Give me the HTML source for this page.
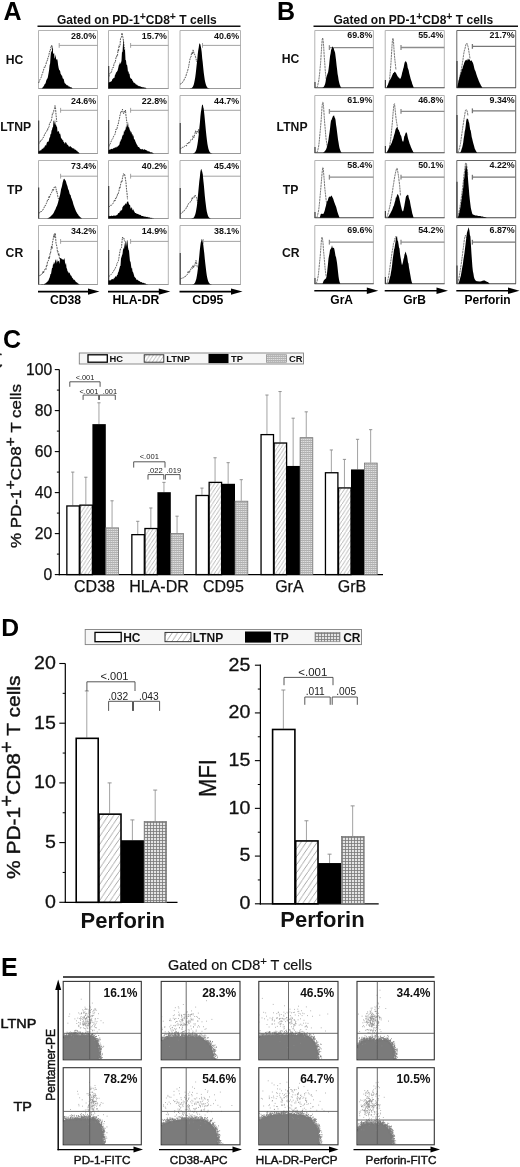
<!DOCTYPE html>
<html><head><meta charset="utf-8"><title>Figure</title>
<style>html,body{margin:0;padding:0;background:#fff}svg{display:block}</style></head>
<body>
<svg width="520" height="1167" viewBox="0 0 520 1167" font-family='"Liberation Sans", Arial, sans-serif'>
<rect width="520" height="1167" fill="#fff"/>
<defs>
<pattern id="hatchC" width="3.6" height="5.6" patternUnits="userSpaceOnUse"><rect width="3.6" height="5.6" fill="#fff"/><path d="M-0.9 7 L4.5 -1.4" stroke="#8f8f8f" stroke-width="0.65"/></pattern>
<pattern id="hatchD" width="5.4" height="8" patternUnits="userSpaceOnUse"><rect width="5.4" height="8" fill="#fff"/><path d="M-1.35 10 L6.75 -2" stroke="#8a8a8a" stroke-width="0.75"/></pattern>
<pattern id="gridC" width="2" height="2" patternUnits="userSpaceOnUse"><rect width="2" height="2" fill="#dedede"/><path d="M0 0.5 H2" stroke="#a4a4a4" stroke-width="0.8"/><path d="M0.5 0 V2" stroke="#b4b4b4" stroke-width="0.6"/></pattern>
<pattern id="gridD" width="3" height="3" patternUnits="userSpaceOnUse"><rect width="3" height="3" fill="#e4e4e4"/><path d="M0 0.5 H3 M0.5 0 V3" stroke="#777" stroke-width="0.8"/></pattern>
</defs>
<path d="M38.5 88.5 V30.5 H97.5 V88.5" fill="none" stroke="#aaa" stroke-width="0.9"/>
<line x1="38.2" y1="88.5" x2="97.8" y2="88.5" stroke="#999" stroke-width="1.1"/>
<path d="M108.5 88.5 V30.5 H168.3 V88.5" fill="none" stroke="#aaa" stroke-width="0.9"/>
<line x1="108.2" y1="88.5" x2="168.60000000000002" y2="88.5" stroke="#999" stroke-width="1.1"/>
<path d="M180 88.5 V30.5 H240.5 V88.5" fill="none" stroke="#aaa" stroke-width="0.9"/>
<line x1="179.7" y1="88.5" x2="240.8" y2="88.5" stroke="#999" stroke-width="1.1"/>
<path d="M314.8 87.7 V30.5 H373.4 V87.7" fill="none" stroke="#aaa" stroke-width="0.9"/>
<line x1="314.5" y1="87.7" x2="373.7" y2="87.7" stroke="#444" stroke-width="1.1"/>
<path d="M385.2 87.7 V30.5 H444.3 V87.7" fill="none" stroke="#aaa" stroke-width="0.9"/>
<line x1="384.9" y1="87.7" x2="444.6" y2="87.7" stroke="#444" stroke-width="1.1"/>
<path d="M456.8 87.7 V30.5 H515.7 V87.7" fill="none" stroke="#555" stroke-width="0.9"/>
<line x1="456.5" y1="87.7" x2="516.0" y2="87.7" stroke="#444" stroke-width="1.1"/>
<path d="M38.5 153.5 V95.5 H97.5 V153.5" fill="none" stroke="#aaa" stroke-width="0.9"/>
<line x1="38.2" y1="153.5" x2="97.8" y2="153.5" stroke="#999" stroke-width="1.1"/>
<path d="M108.5 153.5 V95.5 H168.3 V153.5" fill="none" stroke="#aaa" stroke-width="0.9"/>
<line x1="108.2" y1="153.5" x2="168.60000000000002" y2="153.5" stroke="#999" stroke-width="1.1"/>
<path d="M180 153.5 V95.5 H240.5 V153.5" fill="none" stroke="#aaa" stroke-width="0.9"/>
<line x1="179.7" y1="153.5" x2="240.8" y2="153.5" stroke="#999" stroke-width="1.1"/>
<path d="M314.8 152.7 V95.5 H373.4 V152.7" fill="none" stroke="#aaa" stroke-width="0.9"/>
<line x1="314.5" y1="152.7" x2="373.7" y2="152.7" stroke="#444" stroke-width="1.1"/>
<path d="M385.2 152.7 V95.5 H444.3 V152.7" fill="none" stroke="#aaa" stroke-width="0.9"/>
<line x1="384.9" y1="152.7" x2="444.6" y2="152.7" stroke="#444" stroke-width="1.1"/>
<path d="M456.8 152.7 V95.5 H515.7 V152.7" fill="none" stroke="#555" stroke-width="0.9"/>
<line x1="456.5" y1="152.7" x2="516.0" y2="152.7" stroke="#444" stroke-width="1.1"/>
<path d="M38.5 218.5 V160.5 H97.5 V218.5" fill="none" stroke="#aaa" stroke-width="0.9"/>
<line x1="38.2" y1="218.5" x2="97.8" y2="218.5" stroke="#999" stroke-width="1.1"/>
<path d="M108.5 218.5 V160.5 H168.3 V218.5" fill="none" stroke="#aaa" stroke-width="0.9"/>
<line x1="108.2" y1="218.5" x2="168.60000000000002" y2="218.5" stroke="#999" stroke-width="1.1"/>
<path d="M180 218.5 V160.5 H240.5 V218.5" fill="none" stroke="#aaa" stroke-width="0.9"/>
<line x1="179.7" y1="218.5" x2="240.8" y2="218.5" stroke="#999" stroke-width="1.1"/>
<path d="M314.8 217.7 V160.5 H373.4 V217.7" fill="none" stroke="#aaa" stroke-width="0.9"/>
<line x1="314.5" y1="217.7" x2="373.7" y2="217.7" stroke="#444" stroke-width="1.1"/>
<path d="M385.2 217.7 V160.5 H444.3 V217.7" fill="none" stroke="#aaa" stroke-width="0.9"/>
<line x1="384.9" y1="217.7" x2="444.6" y2="217.7" stroke="#444" stroke-width="1.1"/>
<path d="M456.8 217.7 V160.5 H515.7 V217.7" fill="none" stroke="#555" stroke-width="0.9"/>
<line x1="456.5" y1="217.7" x2="516.0" y2="217.7" stroke="#444" stroke-width="1.1"/>
<path d="M38.5 284.5 V225.5 H97.5 V284.5" fill="none" stroke="#aaa" stroke-width="0.9"/>
<line x1="38.2" y1="284.5" x2="97.8" y2="284.5" stroke="#999" stroke-width="1.1"/>
<path d="M108.5 284.5 V225.5 H168.3 V284.5" fill="none" stroke="#aaa" stroke-width="0.9"/>
<line x1="108.2" y1="284.5" x2="168.60000000000002" y2="284.5" stroke="#999" stroke-width="1.1"/>
<path d="M180 284.5 V225.5 H240.5 V284.5" fill="none" stroke="#aaa" stroke-width="0.9"/>
<line x1="179.7" y1="284.5" x2="240.8" y2="284.5" stroke="#999" stroke-width="1.1"/>
<path d="M314.8 283.7 V225.5 H373.4 V283.7" fill="none" stroke="#aaa" stroke-width="0.9"/>
<line x1="314.5" y1="283.7" x2="373.7" y2="283.7" stroke="#444" stroke-width="1.1"/>
<path d="M385.2 283.7 V225.5 H444.3 V283.7" fill="none" stroke="#aaa" stroke-width="0.9"/>
<line x1="384.9" y1="283.7" x2="444.6" y2="283.7" stroke="#444" stroke-width="1.1"/>
<path d="M456.8 283.7 V225.5 H515.7 V283.7" fill="none" stroke="#555" stroke-width="0.9"/>
<line x1="456.5" y1="283.7" x2="516.0" y2="283.7" stroke="#444" stroke-width="1.1"/>
<line x1="37.5" y1="26.3" x2="240.5" y2="26.3" stroke="#111" stroke-width="1.6"/>
<line x1="313.5" y1="26.3" x2="518" y2="26.3" stroke="#111" stroke-width="1.6"/>
<text x="57" y="24.3" font-size="12" font-weight="bold" fill="#111">Gated on PD-1<tspan dy="-4" font-size="10.5">+</tspan><tspan dy="4">CD8</tspan><tspan dy="-4" font-size="10.5">+</tspan><tspan dy="4"> T cells</tspan></text>
<text x="333.5" y="24.3" font-size="12" font-weight="bold" fill="#111">Gated on PD-1<tspan dy="-4" font-size="10.5">+</tspan><tspan dy="4">CD8</tspan><tspan dy="-4" font-size="10.5">+</tspan><tspan dy="4"> T cells</tspan></text>
<text x="3.6" y="19.8" font-size="25" font-weight="bold" fill="#000">A</text>
<text x="277" y="20.2" font-size="25" font-weight="bold" fill="#000">B</text>
<text x="5.8" y="63.6" font-size="12.2" font-weight="bold" fill="#111">HC</text>
<text x="281.8" y="63" font-size="12.2" font-weight="bold" fill="#111">HC</text>
<text x="0.2" y="131.4" font-size="12.2" font-weight="bold" fill="#111">LTNP</text>
<text x="276.6" y="130.8" font-size="12.2" font-weight="bold" fill="#111">LTNP</text>
<text x="7" y="194.1" font-size="12.2" font-weight="bold" fill="#111">TP</text>
<text x="282.8" y="193.7" font-size="12.2" font-weight="bold" fill="#111">TP</text>
<text x="5.6" y="257.4" font-size="12.2" font-weight="bold" fill="#111">CR</text>
<text x="282" y="256.8" font-size="12.2" font-weight="bold" fill="#111">CR</text>
<text x="96.2" y="39.2" font-size="8.9" font-weight="bold" text-anchor="end" fill="#111">28.0%</text>
<text x="372.4" y="38.1" font-size="8.9" font-weight="bold" text-anchor="end" fill="#111">69.8%</text>
<text x="167.0" y="39.2" font-size="8.9" font-weight="bold" text-anchor="end" fill="#111">15.7%</text>
<text x="443.3" y="38.1" font-size="8.9" font-weight="bold" text-anchor="end" fill="#111">55.4%</text>
<text x="239.2" y="39.2" font-size="8.9" font-weight="bold" text-anchor="end" fill="#111">40.6%</text>
<text x="514.7" y="38.1" font-size="8.9" font-weight="bold" text-anchor="end" fill="#111">21.7%</text>
<text x="96.2" y="104.2" font-size="8.9" font-weight="bold" text-anchor="end" fill="#111">24.6%</text>
<text x="372.4" y="103.1" font-size="8.9" font-weight="bold" text-anchor="end" fill="#111">61.9%</text>
<text x="167.0" y="104.2" font-size="8.9" font-weight="bold" text-anchor="end" fill="#111">22.8%</text>
<text x="443.3" y="103.1" font-size="8.9" font-weight="bold" text-anchor="end" fill="#111">46.8%</text>
<text x="239.2" y="104.2" font-size="8.9" font-weight="bold" text-anchor="end" fill="#111">44.7%</text>
<text x="514.7" y="103.1" font-size="8.9" font-weight="bold" text-anchor="end" fill="#111">9.34%</text>
<text x="96.2" y="169.2" font-size="8.9" font-weight="bold" text-anchor="end" fill="#111">73.4%</text>
<text x="372.4" y="168.1" font-size="8.9" font-weight="bold" text-anchor="end" fill="#111">58.4%</text>
<text x="167.0" y="169.2" font-size="8.9" font-weight="bold" text-anchor="end" fill="#111">40.2%</text>
<text x="443.3" y="168.1" font-size="8.9" font-weight="bold" text-anchor="end" fill="#111">50.1%</text>
<text x="239.2" y="169.2" font-size="8.9" font-weight="bold" text-anchor="end" fill="#111">45.4%</text>
<text x="514.7" y="168.1" font-size="8.9" font-weight="bold" text-anchor="end" fill="#111">4.22%</text>
<text x="96.2" y="234.2" font-size="8.9" font-weight="bold" text-anchor="end" fill="#111">34.2%</text>
<text x="372.4" y="233.1" font-size="8.9" font-weight="bold" text-anchor="end" fill="#111">69.6%</text>
<text x="167.0" y="234.2" font-size="8.9" font-weight="bold" text-anchor="end" fill="#111">14.9%</text>
<text x="443.3" y="233.1" font-size="8.9" font-weight="bold" text-anchor="end" fill="#111">54.2%</text>
<text x="239.2" y="234.2" font-size="8.9" font-weight="bold" text-anchor="end" fill="#111">38.1%</text>
<text x="514.7" y="233.1" font-size="8.9" font-weight="bold" text-anchor="end" fill="#111">6.87%</text>
<line x1="59.2" y1="45.4" x2="97.5" y2="45.4" stroke="#999" stroke-width="0.9"/>
<line x1="59.2" y1="43.0" x2="59.2" y2="47.8" stroke="#999" stroke-width="0.9"/>
<line x1="130.6" y1="45.4" x2="168.3" y2="45.4" stroke="#999" stroke-width="0.9"/>
<line x1="130.6" y1="43.0" x2="130.6" y2="47.8" stroke="#999" stroke-width="0.9"/>
<line x1="202.5" y1="45.4" x2="240.5" y2="45.4" stroke="#999" stroke-width="0.9"/>
<line x1="202.5" y1="43.0" x2="202.5" y2="47.8" stroke="#999" stroke-width="0.9"/>
<line x1="60.6" y1="110.3" x2="97.5" y2="110.3" stroke="#999" stroke-width="0.9"/>
<line x1="60.6" y1="107.89999999999999" x2="60.6" y2="112.7" stroke="#999" stroke-width="0.9"/>
<line x1="130.6" y1="110.3" x2="168.3" y2="110.3" stroke="#999" stroke-width="0.9"/>
<line x1="130.6" y1="107.89999999999999" x2="130.6" y2="112.7" stroke="#999" stroke-width="0.9"/>
<line x1="203.3" y1="110.3" x2="240.5" y2="110.3" stroke="#999" stroke-width="0.9"/>
<line x1="203.3" y1="107.89999999999999" x2="203.3" y2="112.7" stroke="#999" stroke-width="0.9"/>
<line x1="60.6" y1="176.2" x2="97.5" y2="176.2" stroke="#999" stroke-width="0.9"/>
<line x1="60.6" y1="173.79999999999998" x2="60.6" y2="178.6" stroke="#999" stroke-width="0.9"/>
<line x1="130.6" y1="176.2" x2="168.3" y2="176.2" stroke="#999" stroke-width="0.9"/>
<line x1="130.6" y1="173.79999999999998" x2="130.6" y2="178.6" stroke="#999" stroke-width="0.9"/>
<line x1="202.5" y1="176.2" x2="240.5" y2="176.2" stroke="#999" stroke-width="0.9"/>
<line x1="202.5" y1="173.79999999999998" x2="202.5" y2="178.6" stroke="#999" stroke-width="0.9"/>
<line x1="60.6" y1="241.4" x2="97.5" y2="241.4" stroke="#999" stroke-width="0.9"/>
<line x1="60.6" y1="239.0" x2="60.6" y2="243.8" stroke="#999" stroke-width="0.9"/>
<line x1="130.6" y1="241.4" x2="168.3" y2="241.4" stroke="#999" stroke-width="0.9"/>
<line x1="130.6" y1="239.0" x2="130.6" y2="243.8" stroke="#999" stroke-width="0.9"/>
<line x1="203.3" y1="241.4" x2="240.5" y2="241.4" stroke="#999" stroke-width="0.9"/>
<line x1="203.3" y1="239.0" x2="203.3" y2="243.8" stroke="#999" stroke-width="0.9"/>
<line x1="329.4" y1="47.6" x2="373.4" y2="47.6" stroke="#8c8c8c" stroke-width="1.3"/>
<line x1="329.4" y1="45.2" x2="329.4" y2="50.0" stroke="#8c8c8c" stroke-width="1.3"/>
<line x1="401" y1="47.5" x2="444.3" y2="47.5" stroke="#8c8c8c" stroke-width="1.3"/>
<line x1="401" y1="45.1" x2="401" y2="49.9" stroke="#8c8c8c" stroke-width="1.3"/>
<line x1="472.4" y1="46.4" x2="515.7" y2="46.4" stroke="#777" stroke-width="1.3"/>
<line x1="472.4" y1="44.0" x2="472.4" y2="48.8" stroke="#777" stroke-width="1.3"/>
<line x1="329.4" y1="111.4" x2="373.4" y2="111.4" stroke="#8c8c8c" stroke-width="1.3"/>
<line x1="329.4" y1="109.0" x2="329.4" y2="113.80000000000001" stroke="#8c8c8c" stroke-width="1.3"/>
<line x1="401" y1="111.4" x2="444.3" y2="111.4" stroke="#8c8c8c" stroke-width="1.3"/>
<line x1="401" y1="109.0" x2="401" y2="113.80000000000001" stroke="#8c8c8c" stroke-width="1.3"/>
<line x1="472.4" y1="110.8" x2="515.7" y2="110.8" stroke="#777" stroke-width="1.3"/>
<line x1="472.4" y1="108.39999999999999" x2="472.4" y2="113.2" stroke="#777" stroke-width="1.3"/>
<line x1="329.4" y1="177.2" x2="373.4" y2="177.2" stroke="#8c8c8c" stroke-width="1.3"/>
<line x1="329.4" y1="174.79999999999998" x2="329.4" y2="179.6" stroke="#8c8c8c" stroke-width="1.3"/>
<line x1="401" y1="177.2" x2="444.3" y2="177.2" stroke="#8c8c8c" stroke-width="1.3"/>
<line x1="401" y1="174.79999999999998" x2="401" y2="179.6" stroke="#8c8c8c" stroke-width="1.3"/>
<line x1="472.4" y1="177.2" x2="515.7" y2="177.2" stroke="#777" stroke-width="1.3"/>
<line x1="472.4" y1="174.79999999999998" x2="472.4" y2="179.6" stroke="#777" stroke-width="1.3"/>
<line x1="329.4" y1="242.2" x2="373.4" y2="242.2" stroke="#8c8c8c" stroke-width="1.3"/>
<line x1="329.4" y1="239.79999999999998" x2="329.4" y2="244.6" stroke="#8c8c8c" stroke-width="1.3"/>
<line x1="401" y1="242.2" x2="444.3" y2="242.2" stroke="#8c8c8c" stroke-width="1.3"/>
<line x1="401" y1="239.79999999999998" x2="401" y2="244.6" stroke="#8c8c8c" stroke-width="1.3"/>
<line x1="472.4" y1="242.2" x2="515.7" y2="242.2" stroke="#777" stroke-width="1.3"/>
<line x1="472.4" y1="239.79999999999998" x2="472.4" y2="244.6" stroke="#777" stroke-width="1.3"/>
<line x1="38.0" y1="291.6" x2="89.0" y2="291.6" stroke="#000" stroke-width="1.6"/>
<path d="M99.5 291.6 L88.0 288.40000000000003 L88.0 294.8 Z" fill="#000"/>
<text x="65.5" y="304.2" font-size="12.2" font-weight="bold" text-anchor="middle" fill="#000">CD38</text>
<line x1="108.0" y1="291.6" x2="159.8" y2="291.6" stroke="#000" stroke-width="1.6"/>
<path d="M170.3 291.6 L158.8 288.40000000000003 L158.8 294.8 Z" fill="#000"/>
<text x="135.9" y="304.2" font-size="12.2" font-weight="bold" text-anchor="middle" fill="#000">HLA-DR</text>
<line x1="179.5" y1="291.6" x2="232.0" y2="291.6" stroke="#000" stroke-width="1.6"/>
<path d="M242.5 291.6 L231.0 288.40000000000003 L231.0 294.8 Z" fill="#000"/>
<text x="207.75" y="304.2" font-size="12.2" font-weight="bold" text-anchor="middle" fill="#000">CD95</text>
<line x1="314.3" y1="290.7" x2="367.8" y2="290.7" stroke="#000" stroke-width="1.6"/>
<path d="M378.3 290.7 L366.8 287.5 L366.8 293.9 Z" fill="#000"/>
<text x="341.7" y="304" font-size="12" font-weight="bold" text-anchor="middle" fill="#000">GrA</text>
<line x1="384.7" y1="290.7" x2="437.5" y2="290.7" stroke="#000" stroke-width="1.6"/>
<path d="M448 290.7 L436.5 287.5 L436.5 293.9 Z" fill="#000"/>
<text x="414.6" y="304" font-size="12" font-weight="bold" text-anchor="middle" fill="#000">GrB</text>
<line x1="456.3" y1="290.7" x2="509.0" y2="290.7" stroke="#000" stroke-width="1.6"/>
<path d="M519.5 290.7 L508.0 287.5 L508.0 293.9 Z" fill="#000"/>
<text x="487.6" y="304" font-size="12" font-weight="bold" text-anchor="middle" fill="#000">Perforin</text>
<line x1="38.7" y1="120.5" x2="38.7" y2="153.5" stroke="#333" stroke-width="1.1"/>
<line x1="38.7" y1="187.4" x2="38.7" y2="218.5" stroke="#333" stroke-width="1.1"/>
<line x1="38.7" y1="250" x2="38.7" y2="284.5" stroke="#333" stroke-width="1.1"/>
<line x1="108.7" y1="120" x2="108.7" y2="153.5" stroke="#333" stroke-width="1.1"/>
<line x1="108.7" y1="186" x2="108.7" y2="218.5" stroke="#333" stroke-width="1.1"/>
<line x1="108.7" y1="250" x2="108.7" y2="284.5" stroke="#333" stroke-width="1.1"/>
<line x1="108.7" y1="66" x2="108.7" y2="88.5" stroke="#333" stroke-width="1.1"/>
<line x1="180.2" y1="123" x2="180.2" y2="153.5" stroke="#333" stroke-width="1.1"/>
<line x1="180.2" y1="188" x2="180.2" y2="218.5" stroke="#333" stroke-width="1.1"/>
<line x1="180.2" y1="253" x2="180.2" y2="284.5" stroke="#333" stroke-width="1.1"/>
<path d="M38.5 83.0 L39.0 82.1 L39.5 80.7 L40.0 79.5 L40.5 78.8 L41.0 77.7 L41.5 76.6 L42.0 74.5 L42.5 74.0 L43.0 71.5 L43.5 70.4 L44.0 68.2 L44.5 66.9 L45.0 67.4 L45.5 65.4 L46.0 64.4 L46.5 61.6 L47.0 60.5 L47.5 60.7 L48.0 56.8 L48.5 56.7 L49.0 54.8 L49.5 51.5 L50.0 52.1 L50.5 49.0 L51.0 47.0 L51.5 45.3 L52.0 48.1 L52.5 50.4 L52.6 49.0" fill="none" stroke="#444" stroke-width="0.9" stroke-dasharray="1.8 0.9"/>
<path d="M41.6 88.5 L41.6 88.5 L42.1 88.1 L42.6 87.6 L43.1 87.1 L43.6 86.2 L44.1 85.6 L44.6 84.2 L45.1 83.8 L45.6 83.3 L46.1 81.1 L46.6 79.8 L47.1 78.8 L47.6 78.2 L48.1 75.7 L48.6 73.0 L49.1 70.1 L49.6 65.2 L50.1 63.6 L50.6 56.0 L51.1 50.5 L51.6 52.8 L52.1 49.9 L52.6 44.7 L53.1 53.2 L53.6 54.1 L54.1 52.7 L54.6 58.8 L55.1 57.3 L55.6 54.4 L56.1 59.1 L56.6 59.8 L57.1 59.1 L57.6 60.7 L58.1 65.1 L58.6 67.8 L59.1 69.7 L59.6 70.2 L60.1 71.0 L60.6 73.7 L61.1 74.4 L61.6 75.6 L62.1 75.7 L62.6 78.0 L63.1 79.1 L63.6 78.6 L64.1 81.0 L64.6 82.9 L65.1 83.4 L65.6 83.7 L66.1 84.5 L66.6 85.1 L67.1 85.6 L67.6 85.3 L68.1 85.6 L68.6 86.5 L69.1 86.5 L69.6 86.6 L70.1 87.4 L70.6 86.9 L71.1 87.3 L71.6 87.6 L72.1 88.0 L72.6 88.5 L73.1 88.5 L73.5 88.5 L73.5 88.5 Z" fill="#000"/>
<path d="M108.5 76.8 L109.0 76.3 L109.5 74.4 L110.0 73.3 L110.5 72.4 L111.0 72.8 L111.5 71.9 L112.0 69.6 L112.5 68.0 L113.0 67.1 L113.5 67.4 L114.0 63.7 L114.5 62.8 L115.0 63.0 L115.5 61.0 L116.0 57.4 L116.5 57.6 L117.0 54.8 L117.5 55.4 L118.0 49.9 L118.5 51.4 L119.0 45.5 L119.5 46.7 L120.0 46.0 L120.5 38.6 L121.0 38.4 L121.5 36.8 L122.0 32.9 L122.5 36.0 L123.0 37.6 L123.5 41.2 L124.0 45.3 L124.5 48.1 L124.8 50.0" fill="none" stroke="#444" stroke-width="0.9" stroke-dasharray="1.8 0.9"/>
<path d="M108.5 88.5 L108.5 83.0 L109.0 82.3 L109.5 82.2 L110.0 81.9 L110.5 81.8 L111.0 81.4 L111.5 81.2 L112.0 80.6 L112.5 78.8 L113.0 79.1 L113.5 77.7 L114.0 78.3 L114.5 77.4 L115.0 74.8 L115.5 74.4 L116.0 72.4 L116.5 72.3 L117.0 71.5 L117.5 70.7 L118.0 69.1 L118.5 66.7 L119.0 64.5 L119.5 64.5 L120.0 61.7 L120.5 64.1 L121.0 62.7 L121.5 60.4 L122.0 51.4 L122.5 52.6 L123.0 44.0 L123.5 39.1 L124.0 47.9 L124.5 50.2 L125.0 49.5 L125.5 60.0 L126.0 60.3 L126.5 65.0 L127.0 64.6 L127.5 67.5 L128.0 72.0 L128.5 70.9 L129.0 74.3 L129.5 73.2 L130.0 77.2 L130.5 78.1 L131.0 78.8 L131.5 78.8 L132.0 79.2 L132.5 80.8 L133.0 80.9 L133.5 82.8 L134.0 82.3 L134.5 83.3 L135.0 83.1 L135.5 84.1 L136.0 84.5 L136.5 84.8 L137.0 84.5 L137.5 85.6 L138.0 85.5 L138.5 86.1 L139.0 86.3 L139.5 86.2 L140.0 86.1 L140.5 86.5 L141.0 86.9 L141.5 87.1 L142.0 86.7 L142.5 87.2 L143.0 87.4 L143.5 87.3 L144.0 87.3 L144.5 87.7 L145.0 87.5 L145.5 87.8 L146.0 88.0 L146.5 88.4 L147.0 88.5 L147.3 88.5 L147.3 88.5 Z" fill="#000"/>
<path d="M180.0 84.0 L180.5 84.0 L181.0 83.9 L181.5 83.4 L182.0 82.4 L182.5 82.4 L183.0 81.6 L183.5 81.1 L184.0 80.1 L184.5 78.6 L185.0 78.1 L185.5 77.0 L186.0 76.0 L186.5 73.6 L187.0 72.6 L187.5 71.4 L188.0 69.2 L188.5 67.4 L189.0 64.5 L189.5 61.5 L190.0 59.1 L190.5 57.4 L191.0 57.1 L191.5 53.2 L192.0 52.5 L192.5 54.2 L193.0 49.9 L193.5 50.6 L194.0 54.3 L194.5 54.3 L195.0 54.7 L195.5 57.0 L196.0 58.2 L196.5 61.5 L197.0 62.0" fill="none" stroke="#444" stroke-width="0.9" stroke-dasharray="1.8 0.9"/>
<path d="M188.7 88.5 L188.7 88.5 L189.2 88.5 L189.7 88.4 L190.2 88.3 L190.7 88.2 L191.2 88.2 L191.7 87.9 L192.2 87.5 L192.7 86.9 L193.2 86.0 L193.7 84.8 L194.2 82.8 L194.7 80.3 L195.2 77.4 L195.7 73.7 L196.2 69.2 L196.7 64.6 L197.2 60.2 L197.7 54.6 L198.2 50.4 L198.7 47.7 L199.2 44.3 L199.7 43.3 L200.2 44.0 L200.7 45.9 L201.2 48.4 L201.7 52.3 L202.2 58.3 L202.7 62.3 L203.2 67.6 L203.7 72.2 L204.2 76.1 L204.7 79.4 L205.2 81.9 L205.7 83.9 L206.2 85.4 L206.7 86.5 L207.2 87.4 L207.7 87.8 L208.2 88.1 L208.7 88.3 L209.2 88.3 L209.7 88.4 L210.2 88.5 L210.4 88.5 L210.4 88.5 Z" fill="#000"/>
<path d="M38.5 144.3 L39.0 143.0 L39.5 142.3 L40.0 142.2 L40.5 140.5 L41.0 140.8 L41.5 140.3 L42.0 139.6 L42.5 138.5 L43.0 138.1 L43.5 137.0 L44.0 136.3 L44.5 134.5 L45.0 134.2 L45.5 132.8 L46.0 132.6 L46.5 131.5 L47.0 130.3 L47.5 130.7 L48.0 127.7 L48.5 127.7 L49.0 126.9 L49.5 123.4 L50.0 123.1 L50.5 121.9 L51.0 121.9 L51.5 119.7 L52.0 116.9 L52.5 112.8 L53.0 113.4 L53.5 112.6 L54.0 109.7 L54.5 108.4 L55.0 105.6 L55.5 107.6 L56.0 114.4 L56.5 119.4 L56.8 122.0" fill="none" stroke="#444" stroke-width="0.9" stroke-dasharray="1.8 0.9"/>
<path d="M38.5 153.5 L38.5 151.1 L39.0 151.4 L39.5 150.8 L40.0 150.5 L40.5 150.2 L41.0 150.4 L41.5 149.8 L42.0 148.5 L42.5 148.8 L43.0 148.9 L43.5 147.5 L44.0 147.8 L44.5 146.9 L45.0 145.6 L45.5 145.0 L46.0 146.1 L46.5 144.1 L47.0 142.2 L47.5 141.9 L48.0 141.6 L48.5 141.7 L49.0 139.9 L49.5 137.3 L50.0 137.7 L50.5 133.4 L51.0 134.7 L51.5 130.6 L52.0 130.1 L52.5 127.3 L53.0 127.3 L53.5 121.1 L54.0 120.5 L54.5 124.7 L55.0 118.9 L55.5 124.9 L56.0 124.3 L56.5 126.8 L57.0 126.5 L57.5 131.4 L58.0 131.7 L58.5 131.1 L59.0 131.4 L59.5 134.3 L60.0 133.3 L60.5 135.1 L61.0 138.1 L61.5 138.5 L62.0 139.1 L62.5 140.6 L63.0 139.4 L63.5 142.0 L64.0 141.9 L64.5 143.3 L65.0 143.7 L65.5 141.7 L66.0 142.5 L66.5 143.0 L67.0 144.7 L67.5 144.5 L68.0 144.9 L68.5 145.9 L69.0 146.8 L69.5 146.7 L70.0 146.0 L70.5 146.3 L71.0 147.1 L71.5 146.9 L72.0 148.3 L72.5 147.8 L73.0 148.7 L73.5 148.3 L74.0 148.6 L74.5 149.1 L75.0 150.2 L75.5 149.6 L76.0 149.7 L76.5 150.9 L77.0 150.6 L77.5 151.4 L78.0 152.1 L78.5 152.3 L79.0 152.6 L79.5 153.5 L79.8 153.5 L79.8 153.5 Z" fill="#000"/>
<path d="M108.5 146.8 L109.0 146.2 L109.5 144.5 L110.0 144.4 L110.5 143.3 L111.0 141.8 L111.5 140.7 L112.0 139.5 L112.5 138.9 L113.0 138.3 L113.5 136.4 L114.0 136.2 L114.5 135.1 L115.0 134.2 L115.5 132.1 L116.0 129.2 L116.5 129.8 L117.0 128.8 L117.5 125.4 L118.0 125.5 L118.5 122.5 L119.0 120.1 L119.5 118.4 L120.0 115.1 L120.5 113.9 L121.0 111.0 L121.5 111.8 L122.0 111.2 L122.5 109.2 L123.0 111.9 L123.5 113.8 L124.0 112.7 L124.5 111.1 L125.0 112.2 L125.5 110.0 L126.0 116.0 L126.5 119.5 L127.0 123.0" fill="none" stroke="#444" stroke-width="0.9" stroke-dasharray="1.8 0.9"/>
<path d="M108.5 153.5 L108.5 150.5 L109.0 149.8 L109.5 149.7 L110.0 149.5 L110.5 149.5 L111.0 149.1 L111.5 148.8 L112.0 149.2 L112.5 149.1 L113.0 148.5 L113.5 148.0 L114.0 148.6 L114.5 147.5 L115.0 147.9 L115.5 146.7 L116.0 148.0 L116.5 146.9 L117.0 146.6 L117.5 146.7 L118.0 146.2 L118.5 145.5 L119.0 145.2 L119.5 144.2 L120.0 141.2 L120.5 141.7 L121.0 139.1 L121.5 139.8 L122.0 137.0 L122.5 135.7 L123.0 134.5 L123.5 135.0 L124.0 130.2 L124.5 132.2 L125.0 129.6 L125.5 130.0 L126.0 126.0 L126.5 128.0 L127.0 122.1 L127.5 126.7 L128.0 121.8 L128.5 127.5 L129.0 126.9 L129.5 128.9 L130.0 130.6 L130.5 131.1 L131.0 132.9 L131.5 131.5 L132.0 134.7 L132.5 133.8 L133.0 136.7 L133.5 135.0 L134.0 139.5 L134.5 138.9 L135.0 140.2 L135.5 141.7 L136.0 142.7 L136.5 143.9 L137.0 144.7 L137.5 145.6 L138.0 146.9 L138.5 147.0 L139.0 146.8 L139.5 148.1 L140.0 148.4 L140.5 148.9 L141.0 149.2 L141.5 149.2 L142.0 149.2 L142.5 148.8 L143.0 149.8 L143.5 149.7 L144.0 149.6 L144.5 149.2 L145.0 149.6 L145.5 150.1 L146.0 150.0 L146.5 150.5 L147.0 150.2 L147.5 151.3 L148.0 151.2 L148.5 151.2 L149.0 151.6 L149.5 151.4 L150.0 152.1 L150.5 152.2 L151.0 152.6 L151.5 152.2 L152.0 152.3 L152.5 152.7 L153.0 153.1 L153.5 153.3 L154.0 153.4 L154.1 153.5 L154.1 153.5 Z" fill="#000"/>
<path d="M180.0 149.0 L180.5 148.5 L181.0 148.8 L181.5 148.4 L182.0 148.0 L182.5 147.2 L183.0 147.6 L183.5 147.6 L184.0 146.9 L184.5 146.3 L185.0 145.6 L185.5 145.4 L186.0 145.9 L186.5 145.9 L187.0 143.8 L187.5 143.2 L188.0 144.1 L188.5 142.5 L189.0 143.5 L189.5 142.8 L190.0 141.8 L190.5 140.5 L191.0 139.6 L191.5 140.3 L192.0 139.9 L192.5 139.5 L193.0 135.8 L193.5 137.3 L194.0 137.9 L194.5 135.0 L195.0 133.5 L195.5 130.8 L196.0 133.0 L196.5 133.5 L197.0 131.0 L197.5 132.1 L198.0 132.5 L198.5 129.3 L199.0 134.0" fill="none" stroke="#444" stroke-width="0.9" stroke-dasharray="1.8 0.9"/>
<path d="M191.4 153.5 L191.4 153.5 L191.9 153.5 L192.4 153.4 L192.9 153.4 L193.4 153.3 L193.9 153.1 L194.4 152.8 L194.9 152.4 L195.4 151.8 L195.9 150.8 L196.4 149.5 L196.9 147.5 L197.4 144.8 L197.9 141.4 L198.4 137.4 L198.9 132.9 L199.4 127.5 L199.9 122.8 L200.4 116.6 L200.9 111.9 L201.4 109.2 L201.9 105.7 L202.4 104.6 L202.9 104.9 L203.4 107.9 L203.9 110.6 L204.4 115.0 L204.9 120.3 L205.4 125.4 L205.9 131.0 L206.4 135.7 L206.9 140.1 L207.4 143.7 L207.9 146.6 L208.4 148.7 L208.9 150.3 L209.4 151.5 L209.9 152.2 L210.4 152.7 L210.9 153.0 L211.4 153.2 L211.9 153.3 L212.4 153.4 L212.9 153.4 L213.1 153.5 L213.1 153.5 Z" fill="#000"/>
<path d="M38.5 213.0 L39.0 213.2 L39.5 213.0 L40.0 211.9 L40.5 211.6 L41.0 211.4 L41.5 211.5 L42.0 210.4 L42.5 210.2 L43.0 209.9 L43.5 208.7 L44.0 207.9 L44.5 206.2 L45.0 205.3 L45.5 205.7 L46.0 204.0 L46.5 203.2 L47.0 201.9 L47.5 200.1 L48.0 199.0 L48.5 199.7 L49.0 196.3 L49.5 197.4 L50.0 194.9 L50.5 194.9 L51.0 193.3 L51.5 192.6 L52.0 191.9 L52.5 189.5 L53.0 190.8 L53.5 190.2 L54.0 187.3 L54.5 187.2 L55.0 187.8 L55.5 186.7 L56.0 188.1 L56.5 192.1 L57.0 191.4 L57.5 194.7 L58.0 197.4 L58.5 199.0" fill="none" stroke="#444" stroke-width="0.9" stroke-dasharray="1.8 0.9"/>
<path d="M46.6 218.5 L46.6 218.5 L47.1 218.4 L47.6 218.3 L48.1 218.2 L48.6 217.8 L49.1 217.5 L49.6 217.2 L50.1 216.7 L50.6 216.4 L51.1 215.8 L51.6 215.5 L52.1 214.8 L52.6 214.5 L53.1 213.7 L53.6 212.9 L54.1 212.1 L54.6 210.7 L55.1 210.1 L55.6 209.1 L56.1 207.4 L56.6 206.4 L57.1 205.4 L57.6 204.0 L58.1 202.2 L58.6 200.3 L59.1 198.3 L59.6 196.4 L60.1 194.8 L60.6 192.1 L61.1 189.0 L61.6 187.4 L62.1 185.6 L62.6 182.8 L63.1 180.9 L63.6 179.3 L64.1 178.7 L64.6 179.1 L65.1 180.4 L65.6 180.2 L66.1 182.0 L66.6 183.9 L67.1 185.2 L67.6 186.7 L68.1 189.3 L68.6 189.8 L69.1 191.6 L69.6 193.8 L70.1 194.8 L70.6 195.1 L71.1 197.6 L71.6 198.4 L72.1 200.0 L72.6 201.3 L73.1 203.3 L73.6 205.1 L74.1 206.3 L74.6 207.8 L75.1 209.0 L75.6 210.2 L76.1 211.5 L76.6 212.3 L77.1 213.3 L77.6 214.0 L78.1 214.6 L78.6 215.4 L79.1 216.1 L79.6 216.6 L80.1 217.0 L80.6 217.5 L81.1 217.8 L81.6 218.2 L82.1 218.4 L82.3 218.5 L82.3 218.5 Z" fill="#000"/>
<path d="M108.5 206.8 L109.0 206.8 L109.5 206.5 L110.0 205.7 L110.5 205.3 L111.0 205.6 L111.5 205.1 L112.0 205.0 L112.5 204.2 L113.0 203.4 L113.5 202.4 L114.0 201.4 L114.5 199.9 L115.0 201.0 L115.5 198.3 L116.0 199.0 L116.5 196.9 L117.0 197.0 L117.5 194.2 L118.0 194.5 L118.5 192.6 L119.0 191.0 L119.5 187.3 L120.0 188.3 L120.5 185.0 L121.0 183.0 L121.5 180.8 L122.0 181.6 L122.5 177.7 L123.0 175.9 L123.5 173.7 L124.0 174.6 L124.5 173.9 L125.0 176.3 L125.5 179.4 L126.0 182.7 L126.5 189.1 L127.0 193.0 L127.5 199.3" fill="none" stroke="#444" stroke-width="0.9" stroke-dasharray="1.8 0.9"/>
<path d="M108.5 218.5 L108.5 216.1 L109.0 215.8 L109.5 216.2 L110.0 216.1 L110.5 215.9 L111.0 216.2 L111.5 215.6 L112.0 215.7 L112.5 215.9 L113.0 216.0 L113.5 215.6 L114.0 215.6 L114.5 215.8 L115.0 215.4 L115.5 215.8 L116.0 215.5 L116.5 215.2 L117.0 214.8 L117.5 214.7 L118.0 213.6 L118.5 213.0 L119.0 213.1 L119.5 212.4 L120.0 211.1 L120.5 211.6 L121.0 209.4 L121.5 210.6 L122.0 210.2 L122.5 207.0 L123.0 206.8 L123.5 205.6 L124.0 205.8 L124.5 204.9 L125.0 204.5 L125.5 203.7 L126.0 203.0 L126.5 204.6 L127.0 201.4 L127.5 202.0 L128.0 201.0 L128.5 202.7 L129.0 204.3 L129.5 205.1 L130.0 204.8 L130.5 207.8 L131.0 208.9 L131.5 207.2 L132.0 207.8 L132.5 210.5 L133.0 209.5 L133.5 209.6 L134.0 211.5 L134.5 211.5 L135.0 212.9 L135.5 212.9 L136.0 212.9 L136.5 213.4 L137.0 214.2 L137.5 213.7 L138.0 214.0 L138.5 214.6 L139.0 214.2 L139.5 215.0 L140.0 214.8 L140.5 215.0 L141.0 215.3 L141.5 215.9 L142.0 216.0 L142.5 216.1 L143.0 216.1 L143.5 216.2 L144.0 216.7 L144.5 216.5 L145.0 216.5 L145.5 216.7 L146.0 216.8 L146.5 217.0 L147.0 216.9 L147.5 216.8 L148.0 217.4 L148.5 217.2 L149.0 217.2 L149.5 217.6 L150.0 217.4 L150.5 217.9 L151.0 217.7 L151.5 217.9 L152.0 217.8 L152.5 218.3 L153.0 218.5 L153.5 218.3 L154.0 218.2 L154.1 218.5 L154.1 218.5 Z" fill="#000"/>
<path d="M180.0 214.0 L180.5 213.9 L181.0 213.2 L181.5 213.2 L182.0 212.5 L182.5 212.1 L183.0 212.2 L183.5 211.3 L184.0 211.2 L184.5 210.1 L185.0 209.6 L185.5 209.2 L186.0 208.5 L186.5 207.1 L187.0 207.1 L187.5 205.5 L188.0 204.7 L188.5 203.6 L189.0 203.4 L189.5 203.3 L190.0 202.4 L190.5 201.3 L191.0 200.5 L191.5 200.6 L192.0 197.9 L192.5 199.3 L193.0 197.2 L193.5 197.0 L194.0 196.7 L194.5 197.3 L195.0 195.0 L195.5 196.1 L196.0 196.5 L196.5 197.4 L197.0 199.1 L197.5 202.1 L198.0 203.0" fill="none" stroke="#444" stroke-width="0.9" stroke-dasharray="1.8 0.9"/>
<path d="M190.3 218.5 L190.3 218.5 L190.8 218.5 L191.3 218.5 L191.8 218.3 L192.3 218.2 L192.8 218.1 L193.3 217.9 L193.8 217.4 L194.3 216.7 L194.8 215.6 L195.3 214.3 L195.8 212.3 L196.3 209.4 L196.8 206.5 L197.3 202.4 L197.8 197.1 L198.3 192.0 L198.8 186.5 L199.3 181.2 L199.8 177.5 L200.3 172.3 L200.8 169.9 L201.3 168.8 L201.8 170.4 L202.3 172.0 L202.8 175.1 L203.3 180.0 L203.8 184.5 L204.3 189.9 L204.8 195.8 L205.3 200.5 L205.8 204.5 L206.3 208.5 L206.8 211.4 L207.3 213.5 L207.8 215.2 L208.3 216.4 L208.8 217.2 L209.3 217.8 L209.8 218.0 L210.3 218.2 L210.8 218.4 L211.3 218.5 L211.8 218.5 L212.0 218.5 L212.0 218.5 Z" fill="#000"/>
<path d="M38.5 275.5 L39.0 276.1 L39.5 275.4 L40.0 275.6 L40.5 275.5 L41.0 274.4 L41.5 274.3 L42.0 274.4 L42.5 273.3 L43.0 271.3 L43.5 273.3 L44.0 270.8 L44.5 270.4 L45.0 269.1 L45.5 268.4 L46.0 269.4 L46.5 265.1 L47.0 265.9 L47.5 261.2 L48.0 260.9 L48.5 260.7 L49.0 256.6 L49.5 258.5 L50.0 253.3 L50.5 253.7 L51.0 249.3 L51.5 246.1 L52.0 249.0 L52.5 242.4 L53.0 240.2 L53.5 237.0 L54.0 234.6 L54.5 237.3 L55.0 233.0 L55.5 235.0 L56.0 243.3 L56.5 244.9 L57.0 247.4 L57.5 252.4 L58.0 251.5 L58.5 255.6 L59.0 253.6 L59.5 258.8 L59.8 259.3" fill="none" stroke="#444" stroke-width="0.9" stroke-dasharray="1.8 0.9"/>
<path d="M41.0 284.5 L41.0 284.5 L41.5 284.3 L42.0 284.2 L42.5 284.3 L43.0 284.2 L43.5 284.4 L44.0 283.9 L44.5 283.9 L45.0 283.2 L45.5 283.5 L46.0 282.9 L46.5 282.6 L47.0 282.0 L47.5 281.8 L48.0 280.4 L48.5 280.7 L49.0 278.7 L49.5 278.0 L50.0 276.3 L50.5 273.9 L51.0 273.9 L51.5 270.9 L52.0 268.1 L52.5 268.1 L53.0 264.2 L53.5 264.4 L54.0 261.8 L54.5 264.0 L55.0 262.1 L55.5 259.8 L56.0 259.5 L56.5 263.8 L57.0 258.4 L57.5 262.6 L58.0 260.4 L58.5 261.2 L59.0 261.3 L59.5 263.9 L60.0 257.9 L60.5 258.1 L61.0 258.5 L61.5 258.5 L62.0 259.6 L62.5 259.2 L63.0 259.5 L63.5 259.4 L64.0 259.8 L64.5 257.7 L65.0 262.3 L65.5 264.9 L66.0 262.8 L66.5 267.9 L67.0 268.7 L67.5 271.3 L68.0 271.5 L68.5 272.5 L69.0 273.6 L69.5 272.3 L70.0 273.7 L70.5 275.3 L71.0 275.5 L71.5 276.0 L72.0 277.5 L72.5 278.1 L73.0 278.5 L73.5 279.8 L74.0 279.4 L74.5 280.1 L75.0 280.5 L75.5 281.2 L76.0 282.2 L76.5 282.0 L77.0 282.8 L77.5 282.8 L78.0 283.7 L78.5 283.5 L79.0 284.2 L79.5 284.2 L79.8 284.5 L79.8 284.5 Z" fill="#000"/>
<path d="M108.5 276.8 L109.0 276.4 L109.5 276.0 L110.0 275.7 L110.5 275.3 L111.0 274.6 L111.5 274.0 L112.0 273.4 L112.5 272.6 L113.0 272.1 L113.5 271.4 L114.0 270.0 L114.5 269.7 L115.0 269.0 L115.5 267.6 L116.0 267.0 L116.5 265.8 L117.0 263.3 L117.5 262.6 L118.0 261.9 L118.5 260.3 L119.0 257.3 L119.5 253.8 L120.0 251.4 L120.5 248.6 L121.0 248.2 L121.5 247.6 L122.0 241.5 L122.5 237.0 L123.0 238.2 L123.5 238.6 L124.0 238.2 L124.5 241.1 L124.8 241.5" fill="none" stroke="#444" stroke-width="0.9" stroke-dasharray="1.8 0.9"/>
<path d="M108.5 284.5 L108.5 280.5 L109.0 280.3 L109.5 280.2 L110.0 280.8 L110.5 280.3 L111.0 279.7 L111.5 279.3 L112.0 279.6 L112.5 278.9 L113.0 278.9 L113.5 279.4 L114.0 277.6 L114.5 278.5 L115.0 277.1 L115.5 276.5 L116.0 276.1 L116.5 276.9 L117.0 275.1 L117.5 275.1 L118.0 272.6 L118.5 271.9 L119.0 270.1 L119.5 268.2 L120.0 266.3 L120.5 265.7 L121.0 258.5 L121.5 257.1 L122.0 255.2 L122.5 254.1 L123.0 249.4 L123.5 247.4 L124.0 250.0 L124.5 242.4 L125.0 247.4 L125.5 241.7 L126.0 240.4 L126.5 246.8 L127.0 239.7 L127.5 240.9 L128.0 247.2 L128.5 250.0 L129.0 250.6 L129.5 256.2 L130.0 261.6 L130.5 261.4 L131.0 265.1 L131.5 268.7 L132.0 267.6 L132.5 271.5 L133.0 272.0 L133.5 273.6 L134.0 275.2 L134.5 277.1 L135.0 277.3 L135.5 278.1 L136.0 278.4 L136.5 279.7 L137.0 279.9 L137.5 279.5 L138.0 280.4 L138.5 280.6 L139.0 281.2 L139.5 281.1 L140.0 281.6 L140.5 281.9 L141.0 282.3 L141.5 282.1 L142.0 282.3 L142.5 282.9 L143.0 282.8 L143.5 282.7 L144.0 283.3 L144.5 283.2 L145.0 283.2 L145.5 283.4 L146.0 284.1 L146.5 284.3 L147.0 284.3 L147.5 284.2 L148.0 284.5 L148.5 284.5 L148.5 284.5 Z" fill="#000"/>
<path d="M180.0 279.0 L180.5 278.9 L181.0 278.4 L181.5 278.4 L182.0 278.4 L182.5 278.0 L183.0 277.7 L183.5 277.8 L184.0 277.3 L184.5 276.9 L185.0 276.9 L185.5 276.0 L186.0 276.0 L186.5 275.3 L187.0 274.9 L187.5 274.2 L188.0 271.7 L188.5 271.1 L189.0 273.1 L189.5 272.6 L190.0 270.2 L190.5 270.2 L191.0 268.8 L191.5 267.4 L192.0 267.7 L192.5 268.5 L193.0 265.2 L193.5 267.9 L194.0 266.4 L194.5 264.8 L195.0 265.5 L195.5 262.1 L196.0 260.5 L196.5 262.4 L197.0 265.6 L197.5 268.0" fill="none" stroke="#444" stroke-width="0.9" stroke-dasharray="1.8 0.9"/>
<path d="M190.8 284.5 L190.8 284.5 L191.3 284.5 L191.8 284.4 L192.3 284.4 L192.8 284.2 L193.3 284.2 L193.8 283.9 L194.3 283.5 L194.8 282.9 L195.3 282.0 L195.8 280.6 L196.3 278.9 L196.8 276.3 L197.3 273.2 L197.8 269.5 L198.3 265.3 L198.8 261.1 L199.3 255.8 L199.8 250.3 L200.3 246.1 L200.8 242.6 L201.3 241.0 L201.8 238.7 L202.3 240.0 L202.8 242.5 L203.3 245.1 L203.8 249.4 L204.3 253.5 L204.8 259.0 L205.3 263.5 L205.8 267.8 L206.3 272.0 L206.8 275.4 L207.3 278.0 L207.8 280.0 L208.3 281.5 L208.8 282.6 L209.3 283.2 L209.8 283.8 L210.3 284.1 L210.8 284.3 L211.3 284.3 L211.8 284.5 L212.3 284.5 L212.5 284.5 L212.5 284.5 Z" fill="#000"/>
<line x1="457.0" y1="61" x2="457.0" y2="87.7" stroke="#333" stroke-width="1.1"/>
<line x1="457.0" y1="115" x2="457.0" y2="152.7" stroke="#333" stroke-width="1.1"/>
<line x1="457.0" y1="181.8" x2="457.0" y2="217.7" stroke="#333" stroke-width="1.1"/>
<line x1="457.0" y1="265.5" x2="457.0" y2="283.7" stroke="#333" stroke-width="1.1"/>
<line x1="315.0" y1="82" x2="315.0" y2="87.7" stroke="#333" stroke-width="1.1"/>
<line x1="315.0" y1="147" x2="315.0" y2="152.7" stroke="#333" stroke-width="1.1"/>
<line x1="315.0" y1="212" x2="315.0" y2="217.7" stroke="#333" stroke-width="1.1"/>
<line x1="315.0" y1="278" x2="315.0" y2="283.7" stroke="#333" stroke-width="1.1"/>
<line x1="385.4" y1="80" x2="385.4" y2="87.7" stroke="#333" stroke-width="1.1"/>
<line x1="385.4" y1="146" x2="385.4" y2="152.7" stroke="#333" stroke-width="1.1"/>
<line x1="385.4" y1="211" x2="385.4" y2="217.7" stroke="#333" stroke-width="1.1"/>
<line x1="385.4" y1="277" x2="385.4" y2="283.7" stroke="#333" stroke-width="1.1"/>
<path d="M316.7 87.5 L317.2 86.9 L317.7 85.5 L318.2 83.2 L318.7 81.0 L319.2 77.0 L319.7 72.7 L320.2 67.2 L320.7 61.7 L321.2 53.7 L321.7 46.0 L322.2 39.6 L322.7 37.9 L323.2 41.2 L323.7 47.0 L324.2 56.1 L324.7 62.2 L325.2 69.7 L325.7 75.4 L326.2 79.3 L326.7 81.8 L327.2 83.7 L327.5 84.0" fill="none" stroke="#555" stroke-width="0.8" stroke-dasharray="2.2 0.6"/>
<path d="M322.6 87.7 L322.6 87.5 L323.1 87.3 L323.6 87.0 L324.1 86.2 L324.6 85.2 L325.1 84.0 L325.6 81.7 L326.1 78.8 L326.6 76.4 L327.1 74.9 L327.6 73.6 L328.1 72.3 L328.6 68.9 L329.1 65.0 L329.6 60.1 L330.1 55.8 L330.6 53.5 L331.1 49.8 L331.6 48.9 L332.1 47.2 L332.6 46.3 L333.1 48.1 L333.6 47.8 L334.1 50.0 L334.6 51.2 L335.1 52.7 L335.6 56.7 L336.1 60.8 L336.6 65.6 L337.1 69.6 L337.6 73.9 L338.1 76.6 L338.6 80.1 L339.1 82.3 L339.6 84.2 L340.1 85.5 L340.6 86.7 L341.1 87.4 L341.4 87.5 L341.4 87.7 Z" fill="#000"/>
<path d="M388.0 87.5 L388.5 86.0 L389.0 83.3 L389.5 80.2 L390.0 74.9 L390.5 68.9 L391.0 62.3 L391.5 54.4 L392.0 45.9 L392.5 39.8 L393.0 38.2 L393.5 41.6 L394.0 49.4 L394.5 56.0 L395.0 60.9 L395.5 65.5 L396.0 70.0" fill="none" stroke="#555" stroke-width="0.8" stroke-dasharray="2.2 0.6"/>
<path d="M386.7 87.7 L386.7 87.5 L387.2 86.1 L387.7 85.0 L388.2 83.9 L388.7 82.5 L389.2 81.5 L389.7 80.4 L390.2 79.6 L390.7 78.8 L391.2 77.7 L391.7 76.4 L392.2 75.2 L392.7 74.3 L393.2 73.1 L393.7 73.1 L394.2 72.3 L394.7 71.5 L395.2 72.5 L395.7 72.3 L396.2 73.5 L396.7 74.6 L397.2 75.5 L397.7 76.5 L398.2 76.8 L398.7 77.7 L399.2 77.7 L399.7 78.8 L400.2 78.7 L400.7 78.2 L401.2 76.8 L401.7 75.1 L402.2 72.6 L402.7 71.0 L403.2 68.7 L403.7 67.3 L404.2 64.5 L404.7 62.2 L405.2 62.0 L405.7 60.7 L406.2 61.8 L406.7 62.5 L407.2 64.3 L407.7 67.7 L408.2 69.0 L408.7 70.6 L409.2 73.2 L409.7 74.9 L410.2 77.0 L410.7 79.0 L411.2 80.6 L411.7 81.8 L412.2 83.7 L412.7 84.9 L413.2 86.3 L413.7 87.5 L413.7 87.7 Z" fill="#000"/>
<path d="M458.0 87.5 L458.5 84.3 L459.0 81.1 L459.5 78.2 L460.0 75.8 L460.5 73.2 L461.0 71.0 L461.5 68.8 L462.0 65.7 L462.5 62.4 L463.0 59.5 L463.5 55.4 L464.0 52.3 L464.5 49.9 L465.0 48.6 L465.5 46.1 L466.0 44.3 L466.5 43.6 L467.0 43.2 L467.5 44.9 L468.0 46.5 L468.5 48.9 L469.0 52.2 L469.5 55.2 L470.0 58.5" fill="none" stroke="#555" stroke-width="0.8" stroke-dasharray="2.2 0.6"/>
<path d="M457.3 87.7 L457.3 87.5 L457.8 84.8 L458.3 82.2 L458.8 79.9 L459.3 78.6 L459.8 76.2 L460.3 74.7 L460.8 73.0 L461.3 72.0 L461.8 69.4 L462.3 68.9 L462.8 67.6 L463.3 65.4 L463.8 64.5 L464.3 62.5 L464.8 61.4 L465.3 60.3 L465.8 60.4 L466.3 59.5 L466.8 60.4 L467.3 60.5 L467.8 58.8 L468.3 58.7 L468.8 59.9 L469.3 59.3 L469.8 59.4 L470.3 60.8 L470.8 60.9 L471.3 60.5 L471.8 60.4 L472.3 61.9 L472.8 62.4 L473.3 64.0 L473.8 66.1 L474.3 68.3 L474.8 70.1 L475.3 70.8 L475.8 72.2 L476.3 74.0 L476.8 75.4 L477.3 76.9 L477.8 78.3 L478.3 79.6 L478.8 80.9 L479.3 81.9 L479.8 83.2 L480.3 84.1 L480.8 85.3 L481.3 86.0 L481.8 86.8 L482.3 87.5 L482.3 87.7 Z" fill="#000"/>
<path d="M316.7 152.5 L317.2 151.9 L317.7 150.5 L318.2 148.5 L318.7 146.0 L319.2 141.9 L319.7 136.4 L320.2 131.5 L320.7 125.5 L321.2 119.7 L321.7 111.7 L322.2 105.1 L322.7 102.3 L323.2 102.6 L323.7 108.7 L324.2 116.3 L324.7 123.3 L325.2 128.7 L325.7 134.9 L326.2 139.7 L326.7 143.1 L327.2 146.2 L327.7 148.3 L328.0 149.0" fill="none" stroke="#555" stroke-width="0.8" stroke-dasharray="2.2 0.6"/>
<path d="M323.0 152.7 L323.0 152.5 L323.5 152.5 L324.0 152.0 L324.5 151.5 L325.0 151.0 L325.5 150.3 L326.0 149.5 L326.5 148.2 L327.0 146.7 L327.5 144.3 L328.0 142.2 L328.5 139.2 L329.0 135.7 L329.5 132.5 L330.0 128.8 L330.5 124.1 L331.0 120.4 L331.5 119.9 L332.0 118.4 L332.5 117.3 L333.0 116.0 L333.5 116.0 L334.0 115.0 L334.5 117.3 L335.0 118.1 L335.5 119.8 L336.0 124.6 L336.5 127.5 L337.0 131.5 L337.5 135.5 L338.0 139.4 L338.5 142.3 L339.0 145.5 L339.5 148.0 L340.0 149.6 L340.5 151.0 L341.0 152.1 L341.5 152.5 L341.5 152.7 Z" fill="#000"/>
<path d="M388.0 152.5 L388.5 151.2 L389.0 149.2 L389.5 146.8 L390.0 143.8 L390.5 140.6 L391.0 136.1 L391.5 131.3 L392.0 126.1 L392.5 120.7 L393.0 113.9 L393.5 108.4 L394.0 104.4 L394.5 103.7 L395.0 108.2 L395.5 113.3 L396.0 118.2 L396.5 121.7 L397.0 124.4 L397.5 128.0" fill="none" stroke="#555" stroke-width="0.8" stroke-dasharray="2.2 0.6"/>
<path d="M386.7 152.7 L386.7 152.5 L387.2 151.4 L387.7 150.6 L388.2 149.7 L388.7 148.8 L389.2 147.4 L389.7 146.6 L390.2 145.7 L390.7 144.7 L391.2 143.8 L391.7 143.1 L392.2 141.2 L392.7 139.8 L393.2 138.7 L393.7 136.4 L394.2 134.7 L394.7 133.2 L395.2 131.0 L395.7 129.0 L396.2 128.2 L396.7 127.4 L397.2 127.3 L397.7 128.1 L398.2 129.8 L398.7 129.6 L399.2 131.4 L399.7 132.1 L400.2 134.3 L400.7 135.2 L401.2 136.1 L401.7 138.2 L402.2 140.5 L402.7 141.5 L403.2 141.8 L403.7 139.9 L404.2 136.6 L404.7 135.7 L405.2 134.2 L405.7 132.8 L406.2 132.4 L406.7 132.4 L407.2 134.3 L407.7 136.9 L408.2 138.9 L408.7 140.6 L409.2 142.3 L409.7 144.1 L410.2 145.1 L410.7 146.6 L411.2 147.7 L411.7 148.7 L412.2 150.0 L412.7 150.8 L413.2 151.9 L413.7 152.5 L413.7 152.7 Z" fill="#000"/>
<path d="M458.0 152.5 L458.5 151.4 L459.0 149.8 L459.5 148.0 L460.0 145.9 L460.5 143.5 L461.0 140.0 L461.5 136.3 L462.0 132.9 L462.5 129.4 L463.0 125.7 L463.5 122.8 L464.0 118.9 L464.5 116.7 L465.0 113.1 L465.5 110.3 L466.0 109.6 L466.5 109.8 L467.0 110.8 L467.5 112.7 L468.0 116.0" fill="none" stroke="#555" stroke-width="0.8" stroke-dasharray="2.2 0.6"/>
<path d="M460.2 152.7 L460.2 152.5 L460.7 151.8 L461.2 150.4 L461.7 148.8 L462.2 147.4 L462.7 145.3 L463.2 142.7 L463.7 138.6 L464.2 135.8 L464.7 131.5 L465.2 129.6 L465.7 125.8 L466.2 121.1 L466.7 118.7 L467.2 118.4 L467.7 119.0 L468.2 119.6 L468.7 121.7 L469.2 123.0 L469.7 126.5 L470.2 129.8 L470.7 130.6 L471.2 133.4 L471.7 136.9 L472.2 138.7 L472.7 140.9 L473.2 142.9 L473.7 144.8 L474.2 146.5 L474.7 148.4 L475.2 149.5 L475.7 150.6 L476.2 151.4 L476.7 152.1 L477.0 152.5 L477.0 152.7 Z" fill="#000"/>
<path d="M316.7 217.5 L317.2 216.5 L317.7 214.8 L318.2 212.5 L318.7 210.0 L319.2 205.8 L319.7 200.5 L320.2 195.2 L320.7 189.5 L321.2 183.7 L321.7 177.2 L322.2 172.0 L322.7 167.5 L323.2 167.9 L323.7 174.1 L324.2 179.5 L324.7 186.9 L325.2 192.0 L325.7 196.0 L326.2 200.5 L326.7 204.1 L327.0 206.0" fill="none" stroke="#555" stroke-width="0.8" stroke-dasharray="2.2 0.6"/>
<path d="M319.8 217.7 L319.8 217.5 L320.3 215.7 L320.8 214.1 L321.3 213.8 L321.8 213.7 L322.3 213.9 L322.8 213.8 L323.3 214.0 L323.8 212.9 L324.3 211.7 L324.8 210.3 L325.3 208.0 L325.8 206.2 L326.3 204.4 L326.8 202.4 L327.3 201.0 L327.8 200.5 L328.3 198.5 L328.8 197.2 L329.3 196.9 L329.8 196.3 L330.3 196.9 L330.8 196.2 L331.3 195.6 L331.8 196.0 L332.3 197.0 L332.8 198.1 L333.3 199.1 L333.8 200.8 L334.3 202.3 L334.8 203.6 L335.3 205.0 L335.8 206.1 L336.3 207.6 L336.8 209.4 L337.3 211.6 L337.8 213.0 L338.3 214.5 L338.8 215.8 L339.3 217.1 L339.5 217.5 L339.5 217.7 Z" fill="#000"/>
<path d="M386.7 217.5 L387.2 216.2 L387.7 214.7 L388.2 213.0 L388.7 211.3 L389.2 209.1 L389.7 206.9 L390.2 204.5 L390.7 201.8 L391.2 198.7 L391.7 196.0 L392.2 193.1 L392.7 189.8 L393.2 186.1 L393.7 183.4 L394.2 179.6 L394.7 176.8 L395.2 174.4 L395.7 171.9 L396.2 170.0 L396.7 168.3 L397.2 168.4 L397.7 171.2 L398.2 174.1 L398.7 177.6 L399.2 181.9 L399.7 185.8 L400.2 192.1 L400.5 196.0" fill="none" stroke="#555" stroke-width="0.8" stroke-dasharray="2.2 0.6"/>
<path d="M387.8 217.7 L387.8 217.5 L388.3 216.8 L388.8 216.0 L389.3 215.2 L389.8 214.2 L390.3 213.5 L390.8 212.5 L391.3 211.4 L391.8 210.5 L392.3 209.4 L392.8 208.0 L393.3 206.4 L393.8 205.7 L394.3 203.9 L394.8 202.1 L395.3 200.6 L395.8 197.5 L396.3 197.4 L396.8 195.9 L397.3 194.0 L397.8 194.6 L398.3 195.1 L398.8 196.3 L399.3 197.9 L399.8 200.6 L400.3 202.8 L400.8 205.3 L401.3 207.2 L401.8 209.4 L402.3 210.8 L402.8 211.6 L403.3 210.7 L403.8 208.4 L404.3 205.9 L404.8 203.0 L405.3 200.3 L405.8 197.3 L406.3 195.7 L406.8 195.7 L407.3 194.5 L407.8 195.2 L408.3 195.1 L408.8 197.8 L409.3 199.3 L409.8 200.4 L410.3 203.4 L410.8 206.2 L411.3 208.6 L411.8 211.1 L412.3 213.4 L412.8 215.1 L413.3 216.8 L413.5 217.5 L413.5 217.7 Z" fill="#000"/>
<path d="M457.5 217.5 L458.0 216.0 L458.5 214.1 L459.0 212.0 L459.5 209.4 L460.0 206.7 L460.5 203.2 L461.0 200.1 L461.5 196.2 L462.0 192.5 L462.5 188.7 L463.0 184.4 L463.5 179.8 L464.0 175.0 L464.5 171.4 L465.0 167.6 L465.5 163.1 L466.0 163.3 L466.5 163.3 L467.0 167.9 L467.5 171.6 L467.8 175.0" fill="none" stroke="#555" stroke-width="0.8" stroke-dasharray="2.2 0.6"/>
<path d="M457.8 217.7 L457.8 217.5 L458.3 216.3 L458.8 214.7 L459.3 212.8 L459.8 210.4 L460.3 207.8 L460.8 205.0 L461.3 201.1 L461.8 198.2 L462.3 194.0 L462.8 190.6 L463.3 187.0 L463.8 180.0 L464.3 178.1 L464.8 172.7 L465.3 169.2 L465.8 165.5 L466.3 164.7 L466.8 168.1 L467.3 170.7 L467.8 176.0 L468.3 182.7 L468.8 188.2 L469.3 194.8 L469.8 199.4 L470.3 203.7 L470.8 207.7 L471.3 210.0 L471.8 212.1 L472.3 213.8 L472.8 214.6 L473.3 214.6 L473.8 215.1 L474.3 215.1 L474.8 215.3 L475.3 215.5 L475.8 215.5 L476.3 215.5 L476.8 215.6 L477.3 215.7 L477.8 215.7 L478.3 216.0 L478.8 215.9 L479.3 216.0 L479.8 216.1 L480.3 216.1 L480.8 216.3 L481.3 216.4 L481.8 216.5 L482.3 216.5 L482.8 216.6 L483.3 216.8 L483.8 216.9 L484.3 216.9 L484.8 217.0 L485.3 217.3 L485.8 217.2 L486.3 217.4 L486.5 217.5 L486.5 217.7 Z" fill="#000"/>
<path d="M316.0 283.5 L316.5 282.9 L317.0 281.4 L317.5 279.4 L318.0 276.9 L318.5 273.7 L319.0 268.7 L319.5 263.1 L320.0 258.4 L320.5 252.7 L321.0 245.4 L321.5 239.5 L322.0 237.1 L322.5 238.7 L323.0 242.8 L323.5 250.3 L324.0 255.7 L324.5 261.3 L325.0 267.4 L325.5 271.9 L326.0 275.2 L326.5 277.5 L327.0 279.0" fill="none" stroke="#555" stroke-width="0.8" stroke-dasharray="2.2 0.6"/>
<path d="M322.5 283.7 L322.5 283.5 L323.0 282.4 L323.5 281.0 L324.0 280.3 L324.5 279.7 L325.0 278.9 L325.5 278.7 L326.0 278.4 L326.5 277.2 L327.0 273.6 L327.5 268.4 L328.0 264.0 L328.5 258.5 L329.0 256.0 L329.5 253.4 L330.0 250.0 L330.5 249.2 L331.0 248.4 L331.5 247.6 L332.0 245.2 L332.5 247.4 L333.0 247.9 L333.5 247.7 L334.0 248.1 L334.5 250.0 L335.0 252.7 L335.5 256.0 L336.0 256.9 L336.5 259.7 L337.0 262.7 L337.5 266.9 L338.0 271.7 L338.5 276.2 L339.0 279.4 L339.5 281.7 L340.0 283.1 L340.2 283.5 L340.2 283.7 Z" fill="#000"/>
<path d="M387.0 283.5 L387.5 281.5 L388.0 279.3 L388.5 276.9 L389.0 274.0 L389.5 270.5 L390.0 266.8 L390.5 263.0 L391.0 259.9 L391.5 256.5 L392.0 252.5 L392.5 250.1 L393.0 247.3 L393.5 243.4 L394.0 242.8 L394.5 240.4 L395.0 238.0 L395.5 237.9 L396.0 236.0" fill="none" stroke="#555" stroke-width="0.8" stroke-dasharray="2.2 0.6"/>
<path d="M388.0 283.7 L388.0 283.5 L388.5 282.4 L389.0 280.9 L389.5 279.0 L390.0 277.1 L390.5 275.4 L391.0 272.3 L391.5 269.4 L392.0 266.0 L392.5 261.1 L393.0 257.0 L393.5 253.8 L394.0 249.7 L394.5 248.2 L395.0 244.9 L395.5 241.7 L396.0 237.3 L396.5 237.2 L397.0 235.7 L397.5 240.4 L398.0 240.9 L398.5 244.0 L399.0 247.6 L399.5 248.6 L400.0 253.8 L400.5 256.9 L401.0 259.7 L401.5 263.1 L402.0 265.2 L402.5 263.8 L403.0 261.9 L403.5 258.9 L404.0 257.7 L404.5 254.4 L405.0 253.6 L405.5 251.5 L406.0 252.7 L406.5 254.7 L407.0 255.8 L407.5 258.7 L408.0 262.4 L408.5 263.4 L409.0 267.8 L409.5 270.2 L410.0 273.3 L410.5 276.0 L411.0 278.9 L411.5 281.2 L412.0 282.8 L412.3 283.5 L412.3 283.7 Z" fill="#000"/>
<path d="M457.5 283.5 L458.0 281.7 L458.5 279.8 L459.0 277.6 L459.5 275.1 L460.0 272.0 L460.5 269.2 L461.0 265.5 L461.5 262.0 L462.0 258.0 L462.5 254.6 L463.0 250.1 L463.5 246.8 L464.0 242.5 L464.5 238.6 L465.0 236.7 L465.5 235.2 L466.0 236.3 L466.5 238.0" fill="none" stroke="#555" stroke-width="0.8" stroke-dasharray="2.2 0.6"/>
<path d="M458.4 283.7 L458.4 283.5 L458.9 282.3 L459.4 281.1 L459.9 279.1 L460.4 277.3 L460.9 275.4 L461.4 272.4 L461.9 269.4 L462.4 266.4 L462.9 264.3 L463.4 259.8 L463.9 256.8 L464.4 253.5 L464.9 249.2 L465.4 245.2 L465.9 240.8 L466.4 237.2 L466.9 233.0 L467.4 231.2 L467.9 229.8 L468.4 227.2 L468.9 228.4 L469.4 230.4 L469.9 234.9 L470.4 236.5 L470.9 244.6 L471.4 252.8 L471.9 259.8 L472.4 266.7 L472.9 271.3 L473.4 273.6 L473.9 276.8 L474.4 278.4 L474.9 279.4 L475.4 280.2 L475.9 280.7 L476.4 281.1 L476.9 281.3 L477.4 281.3 L477.9 281.3 L478.4 281.4 L478.9 281.3 L479.4 281.6 L479.9 281.4 L480.4 281.6 L480.9 281.2 L481.4 281.3 L481.9 280.9 L482.4 280.8 L482.9 280.8 L483.4 280.6 L483.9 280.6 L484.4 280.4 L484.9 280.6 L485.4 280.9 L485.9 281.3 L486.4 281.6 L486.9 281.8 L487.4 282.0 L487.9 282.1 L488.4 282.5 L488.9 283.1 L489.4 283.4 L489.6 283.5 L489.6 283.7 Z" fill="#000"/>
<text x="3.0" y="348.2" font-size="25" font-weight="bold" fill="#000">C</text>
<path d="M0 354 L1.6 354.8 M0 367 L1.6 364.5" fill="none" stroke="#222" stroke-width="1.8"/>
<rect x="79.3" y="353" width="224.2" height="11" fill="#f6f6f6" stroke="#808080" stroke-width="0.9"/>
<rect x="88" y="354.8" width="19.299999999999997" height="7.4" fill="#fff" stroke="#000" stroke-width="1.3"/>
<text x="109.6" y="362.3" font-size="9.4" font-weight="bold" fill="#111">HC</text>
<rect x="144.2" y="354.8" width="19.600000000000023" height="7.4" fill="url(#hatchC)" stroke="#222" stroke-width="0.9"/>
<text x="166.2" y="362.3" font-size="9.4" font-weight="bold" fill="#111">LTNP</text>
<rect x="208.5" y="353.90000000000003" width="20.0" height="9.200000000000001" fill="#000"/>
<text x="231" y="362.3" font-size="9.4" font-weight="bold" fill="#111">TP</text>
<rect x="266.5" y="354.8" width="20.0" height="7.4" fill="url(#gridC)" stroke="#888" stroke-width="0.7"/>
<text x="289" y="362.3" font-size="9.4" font-weight="bold" fill="#111">CR</text>
<line x1="59.3" y1="369.5" x2="59.3" y2="575.2" stroke="#000" stroke-width="1.2"/>
<line x1="58.699999999999996" y1="574.6" x2="383" y2="574.6" stroke="#000" stroke-width="1.3"/>
<line x1="54.8" y1="574.6" x2="59.3" y2="574.6" stroke="#000" stroke-width="1.1"/>
<text x="52.3" y="579.6" font-size="15.7" text-anchor="end" fill="#111" stroke="#111" stroke-width="0.25">0</text>
<line x1="56.9" y1="554.1" x2="59.3" y2="554.1" stroke="#000" stroke-width="1"/>
<line x1="54.8" y1="533.6" x2="59.3" y2="533.6" stroke="#000" stroke-width="1.1"/>
<text x="52.3" y="538.6" font-size="15.7" text-anchor="end" fill="#111" stroke="#111" stroke-width="0.25">20</text>
<line x1="56.9" y1="513.1" x2="59.3" y2="513.1" stroke="#000" stroke-width="1"/>
<line x1="54.8" y1="492.6" x2="59.3" y2="492.6" stroke="#000" stroke-width="1.1"/>
<text x="52.3" y="497.6" font-size="15.7" text-anchor="end" fill="#111" stroke="#111" stroke-width="0.25">40</text>
<line x1="56.9" y1="472.1" x2="59.3" y2="472.1" stroke="#000" stroke-width="1"/>
<line x1="54.8" y1="451.6" x2="59.3" y2="451.6" stroke="#000" stroke-width="1.1"/>
<text x="52.3" y="456.6" font-size="15.7" text-anchor="end" fill="#111" stroke="#111" stroke-width="0.25">60</text>
<line x1="56.9" y1="431.1" x2="59.3" y2="431.1" stroke="#000" stroke-width="1"/>
<line x1="54.8" y1="410.6" x2="59.3" y2="410.6" stroke="#000" stroke-width="1.1"/>
<text x="52.3" y="415.6" font-size="15.7" text-anchor="end" fill="#111" stroke="#111" stroke-width="0.25">80</text>
<line x1="56.9" y1="390.1" x2="59.3" y2="390.1" stroke="#000" stroke-width="1"/>
<line x1="54.8" y1="369.6" x2="59.3" y2="369.6" stroke="#000" stroke-width="1.1"/>
<text x="52.3" y="374.6" font-size="15.7" text-anchor="end" fill="#111" stroke="#111" stroke-width="0.25">100</text>
<text transform="translate(21.2,548) rotate(-90)" font-size="15" fill="#111" stroke="#111" stroke-width="0.35" textLength="164" lengthAdjust="spacingAndGlyphs">% PD-1<tspan dy="-6" font-size="14">+</tspan><tspan dy="6">CD8</tspan><tspan dy="-6" font-size="14">+</tspan><tspan dy="6"> T cells</tspan></text>
<line x1="72.75" y1="472.1" x2="72.75" y2="505.31000000000006" stroke="#999" stroke-width="0.9"/>
<line x1="71.15" y1="472.1" x2="74.35" y2="472.1" stroke="#888" stroke-width="0.9"/>
<rect x="66.85" y="505.96" width="12.45" height="68.64" fill="#fff" stroke="#000" stroke-width="1.3"/>
<line x1="85.85" y1="477.225" x2="85.85" y2="504.49" stroke="#999" stroke-width="0.9"/>
<line x1="84.25" y1="477.225" x2="87.44999999999999" y2="477.225" stroke="#888" stroke-width="0.9"/>
<rect x="79.95" y="505.14" width="12.45" height="69.46" fill="url(#hatchC)" stroke="#000" stroke-width="1.3"/>
<line x1="98.95" y1="402.81000000000006" x2="98.95" y2="424.13" stroke="#999" stroke-width="0.9"/>
<line x1="97.35000000000001" y1="402.81000000000006" x2="100.55" y2="402.81000000000006" stroke="#888" stroke-width="0.9"/>
<rect x="92.40" y="424.13" width="13.40" height="150.47" fill="#000"/>
<line x1="112.05" y1="500.8" x2="112.05" y2="527.45" stroke="#999" stroke-width="0.9"/>
<line x1="110.45" y1="500.8" x2="113.64999999999999" y2="500.8" stroke="#888" stroke-width="0.9"/>
<rect x="105.90" y="527.85" width="12.70" height="46.75" fill="url(#gridC)" stroke="#777" stroke-width="0.8"/>
<text x="94.5" y="591.6" font-size="16" text-anchor="middle" fill="#111" stroke="#111" stroke-width="0.25">CD38</text>
<line x1="137.75" y1="521.3000000000001" x2="137.75" y2="534.01" stroke="#999" stroke-width="0.9"/>
<line x1="136.15" y1="521.3000000000001" x2="139.35" y2="521.3000000000001" stroke="#888" stroke-width="0.9"/>
<rect x="131.85" y="534.66" width="12.45" height="39.94" fill="#fff" stroke="#000" stroke-width="1.3"/>
<line x1="150.85" y1="507.975" x2="150.85" y2="527.86" stroke="#999" stroke-width="0.9"/>
<line x1="149.25" y1="507.975" x2="152.45" y2="507.975" stroke="#888" stroke-width="0.9"/>
<rect x="144.95" y="528.51" width="12.45" height="46.09" fill="url(#hatchC)" stroke="#000" stroke-width="1.3"/>
<line x1="163.95" y1="482.35" x2="163.95" y2="492.19000000000005" stroke="#999" stroke-width="0.9"/>
<line x1="162.35" y1="482.35" x2="165.54999999999998" y2="482.35" stroke="#888" stroke-width="0.9"/>
<rect x="157.40" y="492.19" width="13.40" height="82.41" fill="#000"/>
<line x1="177.05" y1="516.1750000000001" x2="177.05" y2="533.19" stroke="#999" stroke-width="0.9"/>
<line x1="175.45000000000002" y1="516.1750000000001" x2="178.65" y2="516.1750000000001" stroke="#888" stroke-width="0.9"/>
<rect x="170.90" y="533.59" width="12.70" height="41.01" fill="url(#gridC)" stroke="#777" stroke-width="0.8"/>
<text x="159" y="591.6" font-size="16" text-anchor="middle" fill="#111" stroke="#111" stroke-width="0.25">HLA-DR</text>
<line x1="201.95000000000002" y1="488.09000000000003" x2="201.95000000000002" y2="494.855" stroke="#999" stroke-width="0.9"/>
<line x1="200.35000000000002" y1="488.09000000000003" x2="203.55" y2="488.09000000000003" stroke="#888" stroke-width="0.9"/>
<rect x="196.05" y="495.50" width="12.45" height="79.09" fill="#fff" stroke="#000" stroke-width="1.3"/>
<line x1="215.05" y1="457.75" x2="215.05" y2="481.735" stroke="#999" stroke-width="0.9"/>
<line x1="213.45000000000002" y1="457.75" x2="216.65" y2="457.75" stroke="#888" stroke-width="0.9"/>
<rect x="209.15" y="482.38" width="12.45" height="92.22" fill="url(#hatchC)" stroke="#000" stroke-width="1.3"/>
<line x1="228.15" y1="462.67" x2="228.15" y2="483.785" stroke="#999" stroke-width="0.9"/>
<line x1="226.55" y1="462.67" x2="229.75" y2="462.67" stroke="#888" stroke-width="0.9"/>
<rect x="221.60" y="483.79" width="13.40" height="90.81" fill="#000"/>
<line x1="241.25" y1="479.68500000000006" x2="241.25" y2="500.8" stroke="#999" stroke-width="0.9"/>
<line x1="239.65" y1="479.68500000000006" x2="242.85" y2="479.68500000000006" stroke="#888" stroke-width="0.9"/>
<rect x="235.10" y="501.20" width="12.70" height="73.40" fill="url(#gridC)" stroke="#777" stroke-width="0.8"/>
<text x="223.4" y="591.6" font-size="16" text-anchor="middle" fill="#111" stroke="#111" stroke-width="0.25">CD95</text>
<line x1="266.95" y1="395.02000000000004" x2="266.95" y2="433.97" stroke="#999" stroke-width="0.9"/>
<line x1="265.34999999999997" y1="395.02000000000004" x2="268.55" y2="395.02000000000004" stroke="#888" stroke-width="0.9"/>
<rect x="261.05" y="434.62" width="12.45" height="139.98" fill="#fff" stroke="#000" stroke-width="1.3"/>
<line x1="280.05" y1="391.5350000000001" x2="280.05" y2="442.375" stroke="#999" stroke-width="0.9"/>
<line x1="278.45" y1="391.5350000000001" x2="281.65000000000003" y2="391.5350000000001" stroke="#888" stroke-width="0.9"/>
<rect x="274.15" y="443.02" width="12.45" height="131.58" fill="url(#hatchC)" stroke="#000" stroke-width="1.3"/>
<line x1="293.15" y1="418.18500000000006" x2="293.15" y2="465.95000000000005" stroke="#999" stroke-width="0.9"/>
<line x1="291.54999999999995" y1="418.18500000000006" x2="294.75" y2="418.18500000000006" stroke="#888" stroke-width="0.9"/>
<rect x="286.60" y="465.95" width="13.40" height="108.65" fill="#000"/>
<line x1="306.25" y1="411.83000000000004" x2="306.25" y2="437.25" stroke="#999" stroke-width="0.9"/>
<line x1="304.65" y1="411.83000000000004" x2="307.85" y2="411.83000000000004" stroke="#888" stroke-width="0.9"/>
<rect x="300.10" y="437.65" width="12.70" height="136.95" fill="url(#gridC)" stroke="#777" stroke-width="0.8"/>
<text x="289.4" y="591.6" font-size="16" text-anchor="middle" fill="#111" stroke="#111" stroke-width="0.25">GrA</text>
<line x1="331.35" y1="449.96000000000004" x2="331.35" y2="472.1" stroke="#999" stroke-width="0.9"/>
<line x1="329.75" y1="449.96000000000004" x2="332.95000000000005" y2="449.96000000000004" stroke="#888" stroke-width="0.9"/>
<rect x="325.45" y="472.75" width="12.45" height="101.85" fill="#fff" stroke="#000" stroke-width="1.3"/>
<line x1="344.45000000000005" y1="459.39000000000004" x2="344.45000000000005" y2="487.27000000000004" stroke="#999" stroke-width="0.9"/>
<line x1="342.85" y1="459.39000000000004" x2="346.05000000000007" y2="459.39000000000004" stroke="#888" stroke-width="0.9"/>
<rect x="338.55" y="487.92" width="12.45" height="86.68" fill="url(#hatchC)" stroke="#000" stroke-width="1.3"/>
<line x1="357.55" y1="439.30000000000007" x2="357.55" y2="469.43500000000006" stroke="#999" stroke-width="0.9"/>
<line x1="355.95" y1="439.30000000000007" x2="359.15000000000003" y2="439.30000000000007" stroke="#888" stroke-width="0.9"/>
<rect x="351.00" y="469.44" width="13.40" height="105.16" fill="#000"/>
<line x1="370.65000000000003" y1="429.665" x2="370.65000000000003" y2="462.67" stroke="#999" stroke-width="0.9"/>
<line x1="369.05" y1="429.665" x2="372.25000000000006" y2="429.665" stroke="#888" stroke-width="0.9"/>
<rect x="364.50" y="463.07" width="12.70" height="111.53" fill="url(#gridC)" stroke="#777" stroke-width="0.8"/>
<text x="352" y="591.6" font-size="16" text-anchor="middle" fill="#111" stroke="#111" stroke-width="0.25">GrB</text>
<path d="M69.8 386.8 V381.8 H100.1 V386.8" fill="none" stroke="#444" stroke-width="0.9"/>
<text x="85" y="380.1" font-size="7.4" text-anchor="middle" fill="#222">&lt;.001</text>
<path d="M83.1 399.9 V395.1 H98.7 V399.9" fill="none" stroke="#444" stroke-width="0.9"/>
<text x="88.9" y="393.6" font-size="7.4" text-anchor="middle" fill="#222">&lt;.001</text>
<path d="M99.4 399.9 V395.1 H115.3 V399.9" fill="none" stroke="#444" stroke-width="0.9"/>
<text x="109.9" y="393.6" font-size="7.4" text-anchor="middle" fill="#222">.001</text>
<path d="M133.7 467.6 V461.8 H165 V467.6" fill="none" stroke="#444" stroke-width="0.9"/>
<text x="149.3" y="459.4" font-size="7.6" text-anchor="middle" fill="#222">&lt;.001</text>
<path d="M148 479.6 V474.6 H163.8 V479.6" fill="none" stroke="#444" stroke-width="0.9"/>
<text x="155.3" y="473" font-size="7.6" text-anchor="middle" fill="#222">.022</text>
<path d="M165.4 479.6 V474.6 H180 V479.6" fill="none" stroke="#444" stroke-width="0.9"/>
<text x="173.8" y="473" font-size="7.6" text-anchor="middle" fill="#222">.019</text>
<text x="1.3" y="635.8" font-size="24.7" font-weight="bold" fill="#000">D</text>
<rect x="85.2" y="629.5" width="276.3" height="15.100000000000023" fill="#f6f6f6" stroke="#808080" stroke-width="0.9"/>
<rect x="95" y="632.4" width="26.200000000000003" height="9.3" fill="#fff" stroke="#000" stroke-width="1.3"/>
<text x="123.2" y="642.25" font-size="12" font-weight="bold" fill="#111">HC</text>
<rect x="165" y="632.4" width="26" height="9.3" fill="url(#hatchD)" stroke="#222" stroke-width="0.9"/>
<text x="192.8" y="642.25" font-size="12" font-weight="bold" fill="#111">LTNP</text>
<rect x="245" y="631.5" width="26" height="11.100000000000001" fill="#000"/>
<text x="273.4" y="642.25" font-size="12" font-weight="bold" fill="#111">TP</text>
<rect x="315" y="632.4" width="25" height="9.3" fill="url(#gridD)" stroke="#888" stroke-width="0.7"/>
<text x="343.2" y="642.25" font-size="12" font-weight="bold" fill="#111">CR</text>
<line x1="65.3" y1="663.5" x2="65.3" y2="902.9" stroke="#000" stroke-width="1.2"/>
<line x1="64.7" y1="902.3" x2="177.5" y2="902.3" stroke="#000" stroke-width="1.3"/>
<line x1="59.3" y1="902.3" x2="65.3" y2="902.3" stroke="#000" stroke-width="1.1"/>
<text transform="translate(55.9,907.6999999999999) scale(1.06,1)" font-size="18.5" text-anchor="end" fill="#111" stroke="#111" stroke-width="0.3">0</text>
<line x1="62.699999999999996" y1="872.4499999999999" x2="65.3" y2="872.4499999999999" stroke="#000" stroke-width="1"/>
<line x1="59.3" y1="842.5999999999999" x2="65.3" y2="842.5999999999999" stroke="#000" stroke-width="1.1"/>
<text transform="translate(55.9,847.9999999999999) scale(1.06,1)" font-size="18.5" text-anchor="end" fill="#111" stroke="#111" stroke-width="0.3">5</text>
<line x1="62.699999999999996" y1="812.75" x2="65.3" y2="812.75" stroke="#000" stroke-width="1"/>
<line x1="59.3" y1="782.9" x2="65.3" y2="782.9" stroke="#000" stroke-width="1.1"/>
<text transform="translate(55.9,788.3) scale(1.06,1)" font-size="18.5" text-anchor="end" fill="#111" stroke="#111" stroke-width="0.3">10</text>
<line x1="62.699999999999996" y1="753.05" x2="65.3" y2="753.05" stroke="#000" stroke-width="1"/>
<line x1="59.3" y1="723.1999999999999" x2="65.3" y2="723.1999999999999" stroke="#000" stroke-width="1.1"/>
<text transform="translate(55.9,728.5999999999999) scale(1.06,1)" font-size="18.5" text-anchor="end" fill="#111" stroke="#111" stroke-width="0.3">15</text>
<line x1="62.699999999999996" y1="693.3499999999999" x2="65.3" y2="693.3499999999999" stroke="#000" stroke-width="1"/>
<line x1="59.3" y1="663.5" x2="65.3" y2="663.5" stroke="#000" stroke-width="1.1"/>
<text transform="translate(55.9,668.9) scale(1.06,1)" font-size="18.5" text-anchor="end" fill="#111" stroke="#111" stroke-width="0.3">20</text>
<text transform="translate(20.4,879) rotate(-90)" font-size="18.7" fill="#111" stroke="#111" stroke-width="0.4" textLength="203.5" lengthAdjust="spacingAndGlyphs">% PD-1<tspan dy="-7.7" font-size="18">+</tspan><tspan dy="7.7">CD8</tspan><tspan dy="-7.7" font-size="18">+</tspan><tspan dy="7.7"> T cells</tspan></text>
<line x1="86.80000000000001" y1="690.962" x2="86.80000000000001" y2="737.528" stroke="#999" stroke-width="0.9"/>
<line x1="84.80000000000001" y1="690.962" x2="88.80000000000001" y2="690.962" stroke="#888" stroke-width="0.9"/>
<rect x="76.20" y="738.33" width="22.00" height="163.97" fill="#fff" stroke="#000" stroke-width="1.6"/>
<line x1="109.60000000000001" y1="782.9" x2="109.60000000000001" y2="813.347" stroke="#999" stroke-width="0.9"/>
<line x1="107.60000000000001" y1="782.9" x2="111.60000000000001" y2="782.9" stroke="#888" stroke-width="0.9"/>
<rect x="99.00" y="814.15" width="22.00" height="88.15" fill="url(#hatchD)" stroke="#000" stroke-width="1.6"/>
<line x1="132.4" y1="819.914" x2="132.4" y2="840.212" stroke="#999" stroke-width="0.9"/>
<line x1="130.4" y1="819.914" x2="134.4" y2="819.914" stroke="#888" stroke-width="0.9"/>
<rect x="121.00" y="840.21" width="23.10" height="62.09" fill="#000"/>
<line x1="155.20000000000002" y1="790.064" x2="155.20000000000002" y2="821.108" stroke="#999" stroke-width="0.9"/>
<line x1="153.20000000000002" y1="790.064" x2="157.20000000000002" y2="790.064" stroke="#888" stroke-width="0.9"/>
<rect x="144.20" y="821.51" width="22.40" height="80.79" fill="url(#gridD)" stroke="#777" stroke-width="0.8"/>
<text x="122.8" y="928.3" font-size="22" font-weight="bold" text-anchor="middle" fill="#111">Perforin</text>
<path d="M86.9 691 V681.8 H135 V691" fill="none" stroke="#444" stroke-width="0.9"/>
<text x="114.5" y="680.3" font-size="10.2" text-anchor="middle" textLength="28" lengthAdjust="spacingAndGlyphs" fill="#222">&lt;.001</text>
<path d="M108.6 710.9 V701.3 H132.5 V710.9" fill="none" stroke="#444" stroke-width="0.9"/>
<text x="118.2" y="699.7" font-size="10.2" text-anchor="middle" fill="#222">.032</text>
<path d="M133.5 710.9 V701.3 H159.6 V710.9" fill="none" stroke="#444" stroke-width="0.9"/>
<text x="148.8" y="699.7" font-size="10.2" text-anchor="middle" fill="#222">.043</text>
<line x1="260.4" y1="664.5" x2="260.4" y2="904.4" stroke="#000" stroke-width="1.2"/>
<line x1="259.79999999999995" y1="903.8" x2="378.7" y2="903.8" stroke="#000" stroke-width="1.3"/>
<line x1="254.89999999999998" y1="903.8" x2="260.4" y2="903.8" stroke="#000" stroke-width="1.1"/>
<text transform="translate(250.39999999999998,909.1999999999999) scale(1.06,1)" font-size="18.5" text-anchor="end" fill="#111" stroke="#111" stroke-width="0.3">0</text>
<line x1="257.79999999999995" y1="879.9399999999999" x2="260.4" y2="879.9399999999999" stroke="#000" stroke-width="1"/>
<line x1="254.89999999999998" y1="856.0799999999999" x2="260.4" y2="856.0799999999999" stroke="#000" stroke-width="1.1"/>
<text transform="translate(250.39999999999998,861.4799999999999) scale(1.06,1)" font-size="18.5" text-anchor="end" fill="#111" stroke="#111" stroke-width="0.3">5</text>
<line x1="257.79999999999995" y1="832.2199999999999" x2="260.4" y2="832.2199999999999" stroke="#000" stroke-width="1"/>
<line x1="254.89999999999998" y1="808.3599999999999" x2="260.4" y2="808.3599999999999" stroke="#000" stroke-width="1.1"/>
<text transform="translate(250.39999999999998,813.7599999999999) scale(1.06,1)" font-size="18.5" text-anchor="end" fill="#111" stroke="#111" stroke-width="0.3">10</text>
<line x1="257.79999999999995" y1="784.5" x2="260.4" y2="784.5" stroke="#000" stroke-width="1"/>
<line x1="254.89999999999998" y1="760.64" x2="260.4" y2="760.64" stroke="#000" stroke-width="1.1"/>
<text transform="translate(250.39999999999998,766.04) scale(1.06,1)" font-size="18.5" text-anchor="end" fill="#111" stroke="#111" stroke-width="0.3">15</text>
<line x1="257.79999999999995" y1="736.78" x2="260.4" y2="736.78" stroke="#000" stroke-width="1"/>
<line x1="254.89999999999998" y1="712.92" x2="260.4" y2="712.92" stroke="#000" stroke-width="1.1"/>
<text transform="translate(250.39999999999998,718.3199999999999) scale(1.06,1)" font-size="18.5" text-anchor="end" fill="#111" stroke="#111" stroke-width="0.3">20</text>
<line x1="257.79999999999995" y1="689.06" x2="260.4" y2="689.06" stroke="#000" stroke-width="1"/>
<line x1="254.89999999999998" y1="665.1999999999999" x2="260.4" y2="665.1999999999999" stroke="#000" stroke-width="1.1"/>
<text transform="translate(250.39999999999998,670.5999999999999) scale(1.06,1)" font-size="18.5" text-anchor="end" fill="#111" stroke="#111" stroke-width="0.3">25</text>
<text transform="translate(216,797) rotate(-90)" font-size="23" textLength="38" lengthAdjust="spacingAndGlyphs" fill="#111" stroke="#111" stroke-width="0.3">MFI</text>
<line x1="283.35" y1="690.0144" x2="283.35" y2="728.6676" stroke="#999" stroke-width="0.9"/>
<line x1="281.35" y1="690.0144" x2="285.35" y2="690.0144" stroke="#888" stroke-width="0.9"/>
<rect x="272.60" y="729.47" width="22.30" height="174.33" fill="#fff" stroke="#000" stroke-width="1.6"/>
<line x1="306.45000000000005" y1="820.7672" x2="306.45000000000005" y2="840.1415199999999" stroke="#999" stroke-width="0.9"/>
<line x1="304.45000000000005" y1="820.7672" x2="308.45000000000005" y2="820.7672" stroke="#888" stroke-width="0.9"/>
<rect x="295.70" y="840.94" width="22.30" height="62.86" fill="url(#hatchD)" stroke="#000" stroke-width="1.6"/>
<line x1="329.55" y1="854.1712" x2="329.55" y2="863.04712" stroke="#999" stroke-width="0.9"/>
<line x1="327.55" y1="854.1712" x2="331.55" y2="854.1712" stroke="#888" stroke-width="0.9"/>
<rect x="318.00" y="863.05" width="23.40" height="40.75" fill="#000"/>
<line x1="352.65000000000003" y1="805.87856" x2="352.65000000000003" y2="836.0376" stroke="#999" stroke-width="0.9"/>
<line x1="350.65000000000003" y1="805.87856" x2="354.65000000000003" y2="805.87856" stroke="#888" stroke-width="0.9"/>
<rect x="341.50" y="836.44" width="22.70" height="67.36" fill="url(#gridD)" stroke="#777" stroke-width="0.8"/>
<text x="322.4" y="927.3" font-size="22" font-weight="bold" text-anchor="middle" fill="#111">Perforin</text>
<path d="M284 685.2 V677.4 H333 V685.2" fill="none" stroke="#444" stroke-width="0.9"/>
<text x="312.8" y="676" font-size="10.2" text-anchor="middle" textLength="29" lengthAdjust="spacingAndGlyphs" fill="#222">&lt;.001</text>
<path d="M304.8 704.8 V697 H330.2 V704.8" fill="none" stroke="#444" stroke-width="0.9"/>
<text x="315.2" y="695.3" font-size="10.2" text-anchor="middle" fill="#222">.011</text>
<path d="M332.2 704.8 V697 H357.3 V704.8" fill="none" stroke="#444" stroke-width="0.9"/>
<text x="346.2" y="695.3" font-size="10.2" text-anchor="middle" fill="#222">.005</text>
<text x="0.9" y="976.4" font-size="25" font-weight="bold" fill="#000">E</text>
<text x="168" y="970" font-size="14" fill="#111" stroke="#111" stroke-width="0.2" textLength="144" lengthAdjust="spacingAndGlyphs">Gated on CD8<tspan dy="-5" font-size="11">+</tspan><tspan dy="5"> T cells</tspan></text>
<line x1="63" y1="977" x2="434.5" y2="977" stroke="#111" stroke-width="1.3"/>
<text transform="translate(0.6,1027.5) scale(1.1,1)" font-size="13.1" fill="#111" stroke="#111" stroke-width="0.5">LTNP</text>
<text transform="translate(13.4,1111) scale(1.1,1)" font-size="13.1" fill="#111" stroke="#111" stroke-width="0.5">TP</text>
<line x1="58.2" y1="1150.2" x2="58.2" y2="988" stroke="#000" stroke-width="1.4"/>
<path d="M58.2 979.5 L55.2 990 L61.2 990 Z" fill="#000"/>
<line x1="57.5" y1="1149.6" x2="135" y2="1149.6" stroke="#000" stroke-width="1.4"/>
<path d="M143 1149.6 L133.5 1146.6 L133.5 1152.6 Z" fill="#000"/>
<line x1="159" y1="1149.6" x2="234" y2="1149.6" stroke="#000" stroke-width="1.4"/>
<path d="M242 1149.6 L232.5 1146.6 L232.5 1152.6 Z" fill="#000"/>
<line x1="258.5" y1="1149.6" x2="330.5" y2="1149.6" stroke="#000" stroke-width="1.4"/>
<path d="M338.5 1149.6 L329.0 1146.6 L329.0 1152.6 Z" fill="#000"/>
<line x1="353.5" y1="1149.6" x2="432" y2="1149.6" stroke="#000" stroke-width="1.4"/>
<path d="M440 1149.6 L430.5 1146.6 L430.5 1152.6 Z" fill="#000"/>
<text transform="translate(55,1100.8) rotate(-90)" font-size="12.3" fill="#111" stroke="#111" stroke-width="0.45" textLength="71.8" lengthAdjust="spacingAndGlyphs">Pentamer-PE</text>
<clipPath id="cp0"><rect x="63.7" y="981.9" width="77.10000000000001" height="77.39999999999998"/></clipPath><g clip-path="url(#cp0)">
<path d="M63.2 1038.0 C63.7 1037.7 61.5 1036.4 66.0 1036.0 C70.5 1035.6 85.3 1035.3 90.0 1035.6 C94.7 1035.8 92.8 1036.4 94.0 1037.5 C95.2 1038.6 96.2 1039.9 97.0 1042.0 C97.8 1044.1 98.2 1047.0 98.5 1050.0 C98.8 1053.0 98.5 1058.2 98.5 1059.8 L63.2 1059.8 Z" fill="#7b7b7b"/>
<path d="M98.2 1042.2h0.9M86.6 1035.0h0.9M96.9 1044.7h0.9M67.6 1036.6h0.9M97.6 1055.7h0.9M81.1 1035.2h0.9M98.5 1050.8h0.9M63.2 1035.7h0.9M98.4 1049.9h0.9M75.0 1032.6h0.9M98.4 1052.0h0.9M97.3 1048.9h0.9M99.5 1039.9h0.9M77.1 1030.8h0.9M63.0 1037.1h0.9M72.2 1034.5h0.9M98.4 1054.6h0.9M70.5 1035.8h0.9M99.7 1039.3h0.9M95.0 1036.9h0.9M96.1 1040.7h0.9M72.3 1036.3h0.9M70.0 1034.8h0.9M67.7 1035.4h0.9M99.8 1058.4h0.9M83.6 1033.3h0.9M97.2 1040.2h0.9M93.8 1035.6h0.9M74.6 1034.1h0.9M65.3 1035.5h0.9M62.6 1036.5h0.9M100.1 1052.1h0.9M69.0 1034.2h0.9M98.5 1058.1h0.9M82.1 1034.6h0.9M96.6 1045.0h0.9M70.2 1035.2h0.9M99.0 1047.7h0.9M76.3 1034.1h0.9M82.2 1034.4h0.9M91.9 1033.9h0.9M68.1 1033.5h0.9M75.3 1034.5h0.9M99.3 1048.5h0.9M77.4 1035.3h0.9M83.4 1035.4h0.9M101.0 1046.6h0.9M74.0 1034.3h0.9M73.1 1035.6h0.9M74.1 1035.5h0.9M83.4 1034.4h0.9M81.8 1033.5h0.9M95.5 1040.7h0.9M87.8 1035.6h0.9M98.8 1053.1h0.9M63.8 1035.3h0.9M97.0 1040.5h0.9M98.7 1051.3h0.9M74.8 1035.8h0.9M63.6 1036.8h0.9M86.5 1033.5h0.9M68.4 1036.0h0.9M87.9 1034.4h0.9M97.2 1043.8h0.9M67.6 1032.9h0.9M68.2 1034.8h0.9M88.1 1034.2h0.9M72.0 1034.5h0.9M74.7 1033.0h0.9M86.5 1036.4h0.9M69.0 1032.7h0.9M65.9 1033.7h0.9M82.4 1035.5h0.9M88.3 1035.4h0.9M100.3 1056.6h0.9M92.0 1037.5h0.9M66.0 1034.2h0.9M74.8 1032.7h0.9M99.3 1045.6h0.9M93.3 1036.8h0.9M99.7 1052.2h0.9M98.8 1057.3h0.9M98.0 1051.9h0.9M68.4 1035.3h0.9M97.4 1056.7h0.9M92.1 1033.9h0.9M75.2 1035.9h0.9M72.0 1035.7h0.9M100.1 1052.6h0.9M73.8 1035.7h0.9M66.6 1032.2h0.9M77.0 1033.2h0.9M98.2 1055.6h0.9M87.8 1035.3h0.9M97.5 1045.2h0.9M65.7 1035.1h0.9M87.5 1032.4h0.9M79.6 1034.3h0.9M73.3 1036.3h0.9M98.0 1039.7h0.9M81.7 1035.9h0.9M68.5 1035.3h0.9M99.8 1058.7h0.9M89.1 1035.0h0.9M72.5 1034.5h0.9M62.8 1036.9h0.9M96.1 1041.0h0.9M91.2 1035.2h0.9M64.1 1038.0h0.9M88.5 1035.2h0.9M98.3 1045.3h0.9M92.1 1034.4h0.9M74.8 1034.0h0.9M89.6 1036.1h0.9M95.1 1038.4h0.9M96.3 1041.4h0.9M70.6 1034.7h0.9M99.3 1048.5h0.9M98.4 1056.6h0.9M97.0 1045.7h0.9M100.2 1052.4h0.9M82.5 1035.4h0.9M99.2 1054.5h0.9M71.9 1034.7h0.9M74.2 1035.8h0.9M98.2 1035.5h0.9M98.8 1054.5h0.9M66.8 1037.0h0.9M74.3 1033.0h0.9M64.2 1037.1h0.9M86.4 1034.1h0.9M69.8 1036.6h0.9M72.2 1033.0h0.9M98.3 1046.1h0.9M96.1 1036.4h0.9M100.2 1056.3h0.9M84.5 1033.9h0.9M96.8 1042.7h0.9M62.0 1035.7h0.9M99.4 1057.1h0.9M75.4 1030.4h0.9M88.6 1034.0h0.9M90.0 1036.5h0.9M99.7 1056.6h0.9M89.4 1035.9h0.9M98.1 1059.4h0.9M96.2 1038.6h0.9M73.6 1034.9h0.9M99.0 1050.4h0.9M73.6 1035.5h0.9M99.2 1059.6h0.9M87.6 1034.7h0.9M74.5 1034.6h0.9M101.2 1057.8h0.9M79.5 1035.9h0.9M84.2 1035.7h0.9M81.1 1035.3h0.9M96.3 1041.3h0.9M64.2 1037.5h0.9M82.7 1034.3h0.9M71.4 1035.7h0.9M97.4 1050.4h0.9M61.7 1036.3h0.9M94.9 1039.0h0.9M76.5 1035.1h0.9M87.4 1035.7h0.9M92.3 1037.5h0.9M96.1 1043.7h0.9M69.5 1033.9h0.9M75.5 1030.3h0.9M68.7 1033.7h0.9M98.8 1057.6h0.9M69.9 1032.0h0.9M69.7 1036.0h0.9M91.3 1035.5h0.9M95.3 1037.2h0.9M98.5 1053.2h0.9M65.7 1036.7h0.9M74.5 1031.8h0.9M71.6 1033.5h0.9M93.6 1038.3h0.9M86.9 1035.8h0.9M84.4 1034.6h0.9M99.7 1053.1h0.9M98.3 1040.4h0.9M98.9 1052.5h0.9M97.5 1057.6h0.9M76.5 1035.0h0.9M100.4 1056.4h0.9M85.0 1033.3h0.9M64.9 1035.5h0.9M99.9 1055.2h0.9M67.8 1035.6h0.9M62.4 1036.1h0.9M77.9 1035.2h0.9M78.1 1035.6h0.9M98.1 1057.7h0.9M98.8 1052.8h0.9M85.1 1036.2h0.9M91.9 1034.6h0.9M98.2 1051.8h0.9M99.2 1049.1h0.9M95.7 1040.9h0.9M90.9 1034.8h0.9M68.3 1036.7h0.9M75.7 1035.3h0.9M97.0 1040.0h0.9M95.1 1036.5h0.9M99.7 1049.0h0.9M98.3 1053.9h0.9M98.2 1058.0h0.9M72.7 1035.5h0.9M66.5 1036.7h0.9M100.1 1054.5h0.9M93.6 1036.6h0.9M71.8 1035.4h0.9M97.3 1042.7h0.9M76.5 1032.4h0.9M75.4 1035.1h0.9M82.0 1036.1h0.9M91.5 1034.8h0.9M96.2 1042.0h0.9M66.0 1036.6h0.9M96.7 1045.8h0.9M94.8 1039.7h0.9M88.3 1035.1h0.9M97.4 1041.3h0.9M101.0 1048.3h0.9M63.2 1038.1h0.9M88.5 1035.7h0.9M96.8 1042.0h0.9M97.1 1044.2h0.9M98.6 1039.0h0.9M71.7 1032.7h0.9M98.1 1057.8h0.9M97.2 1048.3h0.9M74.4 1030.5h0.9M85.6 1035.6h0.9M98.2 1057.4h0.9M73.8 1032.3h0.9M84.6 1036.6h0.9M100.4 1057.6h0.9M97.1 1053.9h0.9M74.8 1036.2h0.9M98.4 1045.1h0.9M82.5 1035.9h0.9M97.5 1040.9h0.9M96.8 1047.4h0.9M69.3 1035.5h0.9M74.2 1034.6h0.9M73.6 1034.8h0.9M76.8 1035.7h0.9M63.5 1035.8h0.9M70.0 1033.0h0.9M84.7 1035.5h0.9M85.3 1035.5h0.9M66.4 1036.5h0.9M96.0 1036.4h0.9M99.3 1056.8h0.9M93.6 1037.8h0.9M81.4 1035.2h0.9M96.7 1043.4h0.9M86.4 1035.3h0.9M71.8 1035.5h0.9M88.7 1035.3h0.9M63.3 1037.5h0.9M97.2 1042.2h0.9M71.0 1034.0h0.9M82.5 1033.0h0.9M98.6 1057.7h0.9M100.6 1046.0h0.9M98.3 1050.3h0.9M99.3 1037.9h0.9M97.0 1039.0h0.9M96.9 1043.9h0.9M99.5 1058.3h0.9M73.3 1035.2h0.9M99.5 1046.5h0.9M78.3 1034.2h0.9M76.4 1035.7h0.9M98.1 1050.3h0.9M95.4 1038.5h0.9M99.9 1051.3h0.9M98.0 1053.2h0.9M93.1 1038.7h0.9M73.1 1035.2h0.9M63.6 1037.4h0.9M91.8 1036.2h0.9M97.9 1044.8h0.9M77.4 1031.4h0.9M65.7 1035.6h0.9M62.7 1036.7h0.9M71.2 1034.4h0.9M96.6 1043.6h0.9M62.6 1037.9h0.9M75.0 1035.3h0.9M77.2 1035.2h0.9M96.5 1044.3h0.9M98.3 1059.4h0.9M61.8 1035.2h0.9M68.3 1035.1h0.9M98.9 1056.1h0.9M100.8 1058.5h0.9M70.4 1036.6h0.9M80.9 1035.4h0.9M91.2 1036.4h0.9M79.7 1034.9h0.9M85.6 1032.7h0.9M88.5 1034.2h0.9M76.1 1035.6h0.9M64.7 1036.1h0.9M66.4 1035.8h0.9M71.1 1034.8h0.9M66.7 1036.5h0.9M94.9 1040.0h0.9M96.7 1042.9h0.9M76.9 1035.8h0.9M98.9 1048.3h0.9M97.6 1044.9h0.9M81.1 1034.3h0.9M88.8 1033.5h0.9M72.9 1035.0h0.9M97.2 1055.5h0.9M92.8 1036.6h0.9M64.9 1036.6h0.9M70.8 1034.0h0.9M96.0 1042.7h0.9M83.6 1036.3h0.9M97.3 1044.4h0.9M74.7 1036.8h0.9M98.1 1048.9h0.9M98.3 1048.7h0.9M67.6 1033.4h0.9M94.1 1037.4h0.9M72.8 1035.0h0.9M97.5 1043.7h0.9M97.7 1048.7h0.9M99.5 1048.3h0.9M75.0 1036.3h0.9M67.6 1036.5h0.9M96.9 1041.4h0.9M92.9 1036.8h0.9M69.2 1034.9h0.9M72.5 1034.1h0.9M93.8 1037.6h0.9M68.4 1035.5h0.9M97.3 1038.7h0.9M75.0 1035.8h0.9M76.2 1032.9h0.9M85.4 1035.8h0.9M91.5 1036.0h0.9M97.4 1044.6h0.9M64.2 1036.2h0.9M97.2 1045.0h0.9M74.1 1033.4h0.9M77.7 1034.3h0.9M95.7 1040.4h0.9M96.8 1042.5h0.9M96.4 1038.8h0.9M97.4 1054.4h0.9M73.4 1036.4h0.9M79.1 1036.2h0.9M96.2 1041.3h0.9M76.3 1035.9h0.9M70.4 1034.6h0.9M74.1 1035.9h0.9M96.7 1047.0h0.9M98.3 1049.9h0.9M97.0 1043.9h0.9M99.7 1057.1h0.9M97.7 1048.5h0.9M79.3 1035.8h0.9M79.7 1035.9h0.9M97.1 1044.3h0.9M64.8 1035.4h0.9M94.1 1039.1h0.9M66.6 1036.4h0.9M63.7 1034.3h0.9M90.9 1035.1h0.9M70.3 1034.9h0.9M99.2 1056.4h0.9M98.9 1053.5h0.9M87.7 1035.8h0.9M73.5 1033.0h0.9M68.3 1036.0h0.9M90.5 1034.0h0.9M90.9 1036.0h0.9M81.7 1035.6h0.9M98.3 1044.2h0.9M91.0 1035.3h0.9M98.8 1047.1h0.9M68.2 1036.3h0.9M66.0 1035.4h0.9M83.1 1035.1h0.9M89.3 1032.8h0.9M76.4 1035.4h0.9M96.4 1042.3h0.9M74.7 1033.1h0.9M79.5 1035.7h0.9M88.7 1034.4h0.9M97.6 1043.5h0.9M99.4 1046.5h0.9M82.3 1036.1h0.9M86.5 1035.8h0.9M99.1 1055.6h0.9M100.8 1055.7h0.9M95.3 1039.1h0.9M67.8 1035.3h0.9M87.0 1034.4h0.9M94.8 1040.6h0.9M77.2 1034.1h0.9M64.6 1036.2h0.9M101.2 1059.1h0.9M97.2 1055.0h0.9M69.3 1035.7h0.9M87.4 1033.4h0.9M94.2 1039.9h0.9M78.7 1034.7h0.9M66.3 1035.0h0.9M98.7 1045.7h0.9M98.2 1046.8h0.9M86.5 1035.8h0.9M67.3 1035.1h0.9M83.8 1033.9h0.9M66.9 1036.6h0.9M99.5 1057.5h0.9M64.0 1035.1h0.9M78.0 1032.4h0.9M103.2 1046.3h0.9M69.7 1034.1h0.9M67.6 1035.3h0.9M65.5 1036.4h0.9M71.0 1032.6h0.9M92.4 1034.7h0.9M97.6 1050.5h0.9M71.6 1034.8h0.9M72.2 1035.0h0.9M99.1 1046.0h0.9M85.5 1036.0h0.9M81.0 1036.4h0.9M69.0 1034.7h0.9M75.4 1033.9h0.9M98.0 1058.1h0.9M68.6 1035.9h0.9M76.7 1033.9h0.9M98.2 1045.4h0.9M101.8 1053.4h0.9M102.1 1054.7h0.9M88.5 1035.9h0.9M101.6 1057.5h0.9M95.1 1038.5h0.9M77.9 1035.3h0.9M88.2 1034.0h0.9M98.0 1043.7h0.9M99.2 1045.3h0.9M69.4 1035.9h0.9M73.0 1035.3h0.9M98.8 1057.3h0.9M68.3 1035.6h0.9M98.0 1049.8h0.9M80.6 1036.4h0.9M75.8 1034.6h0.9M76.6 1035.5h0.9M88.4 1033.6h0.9M99.3 1059.6h0.9M70.0 1036.4h0.9M97.7 1051.5h0.9M79.8 1032.2h0.9M71.5 1034.6h0.9M100.3 1044.8h0.9M80.6 1035.6h0.9M72.7 1035.5h0.9M85.2 1033.3h0.9M100.2 1049.9h0.9M98.7 1052.0h0.9M94.7 1034.2h0.9M63.6 1038.1h0.9M97.8 1047.1h0.9M95.8 1038.6h0.9M97.4 1054.4h0.9M99.1 1056.9h0.9M79.9 1032.8h0.9M100.5 1051.2h0.9M100.5 1049.5h0.9M77.0 1033.7h0.9M81.9 1033.7h0.9M83.1 1035.7h0.9M81.2 1034.0h0.9M82.6 1035.7h0.9M67.8 1035.9h0.9M74.8 1035.5h0.9M98.1 1054.8h0.9M84.5 1034.8h0.9M95.4 1040.6h0.9M100.1 1053.5h0.9M97.2 1046.1h0.9M75.4 1036.1h0.9M99.2 1055.5h0.9M99.6 1049.2h0.9M97.6 1059.4h0.9M97.2 1044.4h0.9M97.9 1046.5h0.9M99.0 1049.4h0.9M76.0 1035.0h0.9M96.3 1040.7h0.9M83.4 1035.5h0.9M98.4 1050.7h0.9M69.4 1035.1h0.9M93.4 1033.8h0.9M81.1 1033.7h0.9M100.3 1049.5h0.9M81.7 1034.5h0.9M99.5 1051.5h0.9M100.2 1051.7h0.9M99.2 1053.4h0.9M70.0 1035.7h0.9M98.7 1056.3h0.9M96.9 1046.2h0.9M98.5 1041.3h0.9M95.7 1040.8h0.9M64.6 1035.3h0.9M98.4 1052.5h0.9M92.9 1035.4h0.9M87.1 1031.8h0.9M80.8 1035.9h0.9M99.2 1047.3h0.9M98.0 1048.0h0.9M98.2 1052.3h0.9M74.0 1036.1h0.9M80.4 1033.8h0.9M75.7 1035.3h0.9M67.9 1033.7h0.9M80.3 1033.8h0.9M63.2 1036.8h0.9M100.5 1047.9h0.9M74.6 1035.5h0.9M66.3 1036.0h0.9M66.1 1035.3h0.9M97.7 1045.4h0.9M73.1 1033.6h0.9M87.6 1033.4h0.9M83.9 1035.6h0.9M97.2 1048.9h0.9M101.6 1057.5h0.9M79.0 1036.2h0.9M95.9 1039.7h0.9M99.5 1054.3h0.9M88.5 1033.4h0.9M98.1 1053.8h0.9M96.6 1045.2h0.9M79.0 1036.4h0.9M99.2 1053.1h0.9M93.6 1037.2h0.9M67.9 1036.0h0.9M93.8 1038.3h0.9M100.3 1050.6h0.9M90.7 1036.2h0.9M89.1 1034.7h0.9M84.7 1035.4h0.9M99.4 1053.3h0.9M96.6 1041.3h0.9M73.2 1033.2h0.9M81.9 1036.7h0.9M82.6 1033.7h0.9M97.5 1057.3h0.9M99.7 1043.1h0.9M68.8 1034.5h0.9M97.5 1055.5h0.9M62.3 1033.8h0.9M94.3 1037.9h0.9M85.9 1035.6h0.9M97.0 1044.0h0.9M85.6 1034.4h0.9M67.5 1035.8h0.9M92.0 1034.6h0.9M101.1 1049.1h0.9M99.9 1047.4h0.9M82.2 1033.6h0.9M74.1 1033.5h0.9M97.6 1045.6h0.9M99.8 1048.6h0.9M74.1 1036.9h0.9M98.2 1053.1h0.9M100.0 1059.0h0.9M86.3 1034.6h0.9M83.3 1036.4h0.9M97.5 1043.8h0.9M98.9 1055.8h0.9M73.0 1032.9h0.9M79.1 1033.1h0.9M79.8 1032.1h0.9M98.1 1045.2h0.9M72.9 1035.3h0.9M92.3 1037.1h0.9M89.9 1035.3h0.9M97.7 1040.9h0.9M70.0 1034.1h0.9M99.6 1057.5h0.9M99.3 1060.2h0.9M92.8 1037.3h0.9M102.3 1047.3h0.9M72.4 1035.9h0.9M98.2 1054.8h0.9M92.2 1037.5h0.9M97.3 1046.4h0.9M97.5 1052.2h0.9M81.7 1032.7h0.9M98.0 1055.8h0.9M73.5 1036.0h0.9M63.3 1037.2h0.9M92.0 1030.8h0.9M100.2 1054.4h0.9M100.4 1054.3h0.9M97.9 1057.3h0.9M90.5 1036.1h0.9M98.2 1055.8h0.9M93.7 1035.5h0.9M70.1 1035.8h0.9M95.4 1039.4h0.9M97.2 1048.7h0.9" stroke="#7b7b7b" stroke-width="0.9" fill="none" opacity="0.85"/>
<path d="M86.5 1020.8h0.8M92.1 1016.4h0.8M92.6 1013.1h0.8M86.6 1009.1h0.8M85.3 1030.0h0.8M89.1 1028.0h0.8M81.2 1013.7h0.8M89.6 1025.2h0.8M91.2 1009.5h0.8M89.8 1019.5h0.8M88.1 1023.0h0.8M86.4 1009.4h0.8M82.9 1010.9h0.8M81.8 1019.2h0.8M93.3 1015.5h0.8M84.2 1012.8h0.8M80.0 1020.4h0.8M85.5 1018.5h0.8M83.4 1023.1h0.8M82.3 1023.4h0.8M84.7 1024.9h0.8M83.7 1022.8h0.8M89.5 1019.5h0.8M94.7 1021.1h0.8M83.7 1024.3h0.8M84.0 1016.6h0.8M87.6 1021.1h0.8M95.0 1009.0h0.8M86.4 1027.1h0.8M86.9 1022.0h0.8M94.3 1012.3h0.8M87.8 1025.0h0.8M85.0 1009.0h0.8M83.2 1021.2h0.8M88.4 1031.6h0.8M93.4 1010.3h0.8M92.1 1025.7h0.8M94.7 1019.0h0.8M85.1 1020.9h0.8M94.4 1023.9h0.8M95.0 1024.9h0.8M85.0 1013.6h0.8M95.7 1010.5h0.8M86.0 1018.0h0.8M83.6 1016.4h0.8M87.6 1034.9h0.8M87.3 1016.7h0.8M88.1 1025.9h0.8M84.0 1017.5h0.8M79.9 1024.4h0.8M90.6 1029.4h0.8M82.3 1033.7h0.8M91.4 1018.3h0.8M85.9 1018.1h0.8M82.3 1024.8h0.8M84.9 1015.5h0.8M89.8 1020.7h0.8M85.0 1018.5h0.8M85.4 1028.5h0.8M92.0 1015.4h0.8M87.4 1028.6h0.8M86.3 1031.2h0.8M89.5 1024.2h0.8M78.5 1025.3h0.8M89.1 1023.7h0.8M89.7 1023.3h0.8M85.3 1025.7h0.8M87.9 1013.4h0.8M83.1 1021.0h0.8M89.0 1006.1h0.8M78.5 1026.6h0.8M87.5 1037.9h0.8M80.8 1018.4h0.8M84.9 1023.5h0.8M93.8 1030.2h0.8M83.1 1027.8h0.8M82.2 1021.9h0.8M88.3 1023.9h0.8M84.1 1028.4h0.8M87.3 1019.9h0.8M86.4 1013.3h0.8M90.7 1022.1h0.8M89.6 1031.7h0.8M83.8 1018.2h0.8M87.6 1025.4h0.8M86.8 1025.9h0.8M89.6 1008.9h0.8M84.6 1007.2h0.8M86.3 1017.4h0.8M90.2 1021.1h0.8M87.3 1028.0h0.8M90.2 1012.2h0.8M84.5 1022.1h0.8M95.1 1018.8h0.8M86.8 1021.7h0.8M91.0 1019.4h0.8M88.9 1017.3h0.8M85.2 1015.0h0.8M90.5 1016.5h0.8M90.0 1022.6h0.8M91.9 1003.1h0.8M83.3 1012.3h0.8M86.9 1025.1h0.8M98.7 1029.7h0.8M93.5 1022.4h0.8M85.9 1023.4h0.8M78.0 1025.9h0.8M87.6 1023.9h0.8M83.1 1013.1h0.8M84.7 1019.7h0.8M89.1 1017.8h0.8M89.1 1024.3h0.8M82.5 1019.4h0.8M80.7 1016.5h0.8M91.6 1015.5h0.8M95.8 1023.2h0.8M91.5 1020.7h0.8M91.4 1026.9h0.8M88.0 1016.7h0.8M85.2 1032.2h0.8M86.8 1017.1h0.8M84.5 1009.4h0.8M85.4 1022.1h0.8M85.4 1015.2h0.8M89.4 1022.9h0.8M85.7 1021.9h0.8M83.3 1025.4h0.8M83.2 1017.9h0.8M88.2 1017.4h0.8M82.5 1033.3h0.8M94.2 1009.0h0.8M88.1 1012.0h0.8M88.9 1011.8h0.8M90.1 1023.4h0.8M95.1 1027.6h0.8M85.6 1026.0h0.8M85.6 1019.3h0.8M85.4 1008.9h0.8M90.2 1007.1h0.8M86.5 1023.3h0.8M88.1 1010.0h0.8M84.7 1024.3h0.8M92.4 1030.1h0.8M79.6 1022.9h0.8M85.5 1024.8h0.8M80.2 1019.1h0.8M90.7 1015.9h0.8M86.0 1013.8h0.8M92.5 1011.6h0.8M83.6 1017.9h0.8M86.2 1033.4h0.8M88.8 1014.7h0.8M90.1 1022.2h0.8M88.8 1019.6h0.8M89.6 1012.6h0.8M82.3 1017.3h0.8M82.7 1024.4h0.8M96.1 1027.8h0.8M89.5 1022.1h0.8M84.6 1011.8h0.8M90.0 1010.6h0.8M88.9 1019.1h0.8M90.9 1020.3h0.8M88.0 1016.3h0.8M80.0 1017.8h0.8M90.6 1026.6h0.8M93.6 1013.7h0.8M83.5 1024.4h0.8M85.6 1036.3h0.8M89.0 1010.4h0.8M78.7 1034.2h0.8M67.5 1023.2h0.8M71.4 1034.5h0.8M79.6 1014.0h0.8M68.6 1016.4h0.8M61.1 1018.3h0.8M102.8 1022.8h0.8M81.2 1013.0h0.8M86.6 1018.3h0.8M76.1 1032.8h0.8M87.4 1015.1h0.8M96.6 1021.6h0.8M88.0 1023.2h0.8M93.9 1026.8h0.8M80.5 1027.6h0.8M80.1 1023.0h0.8M98.0 1013.7h0.8M74.5 1018.9h0.8M79.2 1032.1h0.8M69.6 1039.9h0.8M97.5 1018.5h0.8M85.2 1019.2h0.8M89.5 1027.2h0.8M90.2 1028.0h0.8M100.6 1020.7h0.8M89.7 1020.5h0.8M83.9 1023.7h0.8M83.1 1024.7h0.8M76.1 1020.8h0.8M78.3 1012.9h0.8M77.4 1018.1h0.8M82.3 1009.8h0.8M81.3 1013.2h0.8M76.4 1023.5h0.8M93.3 1024.2h0.8M79.3 1018.6h0.8M95.4 1009.3h0.8M93.6 1010.3h0.8M78.0 1022.4h0.8M81.6 1035.0h0.8M87.9 1021.6h0.8M92.0 1022.3h0.8M76.5 1030.8h0.8M96.8 1032.0h0.8M73.2 1036.9h0.8M79.9 1028.0h0.8M94.1 1040.6h0.8M69.3 1014.0h0.8M94.0 1025.9h0.8M80.8 999.2h0.8" stroke="#8c8c8c" stroke-width="0.85" fill="none" opacity="0.9"/>
</g>
<rect x="63.2" y="981.4" width="78.10000000000001" height="78.39999999999998" fill="none" stroke="#333" stroke-width="1.1"/>
<line x1="89.7" y1="981.4" x2="89.7" y2="1059.8" stroke="#5a5a5a" stroke-width="0.9"/>
<line x1="63.2" y1="1033.3" x2="141.3" y2="1033.3" stroke="#5a5a5a" stroke-width="0.9"/>
<text x="137.5" y="996.6" font-size="12" font-weight="bold" text-anchor="end" fill="#111">16.1%</text>
<clipPath id="cp1"><rect x="161.7" y="981.9" width="77.80000000000001" height="77.39999999999998"/></clipPath><g clip-path="url(#cp1)">
<path d="M161.2 1040.5 C162.3 1040.0 165.2 1038.2 168.0 1037.5 C170.8 1036.8 173.2 1036.6 178.0 1036.5 C182.8 1036.4 192.5 1036.4 197.0 1037.0 C201.5 1037.6 202.8 1038.5 205.0 1040.0 C207.2 1041.5 209.2 1043.7 210.5 1046.0 C211.8 1048.3 212.6 1051.7 213.0 1054.0 C213.4 1056.3 213.0 1058.8 213.0 1059.8 L161.2 1059.8 Z" fill="#7b7b7b"/>
<path d="M212.8 1055.5h0.9M166.9 1036.8h0.9M185.0 1036.8h0.9M214.6 1060.1h0.9M195.7 1036.3h0.9M212.0 1057.3h0.9M177.1 1036.5h0.9M161.6 1038.7h0.9M212.7 1055.8h0.9M177.6 1033.9h0.9M198.6 1035.8h0.9M184.4 1037.1h0.9M199.2 1036.2h0.9M212.9 1055.3h0.9M213.5 1056.3h0.9M211.3 1051.8h0.9M176.7 1033.6h0.9M211.7 1047.9h0.9M161.1 1039.3h0.9M188.5 1035.6h0.9M213.3 1056.1h0.9M176.9 1037.1h0.9M185.0 1034.0h0.9M199.1 1036.8h0.9M175.6 1036.9h0.9M207.4 1040.7h0.9M204.6 1038.1h0.9M166.8 1037.2h0.9M212.9 1054.1h0.9M165.1 1038.1h0.9M207.0 1041.0h0.9M183.2 1035.2h0.9M169.4 1033.0h0.9M165.5 1037.5h0.9M214.8 1059.6h0.9M209.7 1046.9h0.9M190.7 1036.8h0.9M211.8 1045.6h0.9M213.4 1057.3h0.9M213.6 1055.3h0.9M195.7 1036.8h0.9M178.6 1034.1h0.9M195.2 1037.6h0.9M212.6 1058.7h0.9M208.0 1042.2h0.9M204.1 1040.7h0.9M212.8 1049.0h0.9M187.5 1036.4h0.9M197.6 1036.7h0.9M211.3 1050.1h0.9M173.1 1035.7h0.9M214.2 1049.8h0.9M162.8 1040.3h0.9M196.5 1036.4h0.9M198.3 1037.9h0.9M170.2 1036.0h0.9M214.8 1054.1h0.9M189.5 1037.4h0.9M172.1 1035.0h0.9M188.0 1036.7h0.9M201.3 1034.8h0.9M189.0 1035.4h0.9M161.0 1041.0h0.9M166.7 1037.8h0.9M206.2 1042.5h0.9M169.0 1033.0h0.9M177.0 1034.3h0.9M210.8 1047.1h0.9M213.5 1049.5h0.9M214.6 1051.3h0.9M171.4 1037.6h0.9M160.9 1040.3h0.9M209.1 1043.3h0.9M200.1 1038.9h0.9M185.1 1035.8h0.9M161.3 1038.4h0.9M189.4 1037.2h0.9M176.0 1035.0h0.9M199.4 1038.3h0.9M213.9 1058.3h0.9M173.7 1036.6h0.9M165.2 1039.4h0.9M206.6 1040.9h0.9M167.1 1036.7h0.9M174.4 1032.5h0.9M189.6 1035.8h0.9M213.7 1058.8h0.9M181.5 1035.8h0.9M180.9 1034.7h0.9M191.8 1034.1h0.9M170.7 1034.7h0.9M187.1 1035.8h0.9M205.9 1041.0h0.9M182.1 1032.2h0.9M209.9 1046.5h0.9M172.9 1036.8h0.9M166.6 1036.6h0.9M202.1 1038.8h0.9M190.5 1037.1h0.9M213.8 1054.4h0.9M166.8 1037.1h0.9M207.6 1043.7h0.9M205.3 1039.6h0.9M184.8 1035.4h0.9M168.7 1035.9h0.9M201.9 1037.2h0.9M210.2 1043.1h0.9M191.5 1036.2h0.9M192.1 1035.2h0.9M205.6 1041.2h0.9M201.1 1037.7h0.9M188.3 1035.6h0.9M173.1 1037.1h0.9M191.7 1035.7h0.9M196.6 1038.0h0.9M212.4 1053.1h0.9M213.4 1059.1h0.9M197.8 1036.3h0.9M182.3 1034.7h0.9M174.7 1034.6h0.9M201.9 1039.2h0.9M210.1 1041.2h0.9M176.6 1035.5h0.9M205.6 1040.4h0.9M212.9 1059.9h0.9M186.0 1033.5h0.9M212.2 1055.7h0.9M190.0 1035.0h0.9M204.0 1037.9h0.9M212.1 1051.0h0.9M173.4 1037.0h0.9M183.7 1035.8h0.9M213.7 1058.3h0.9M164.6 1037.5h0.9M180.2 1036.5h0.9M192.3 1037.4h0.9M209.8 1041.7h0.9M202.5 1039.5h0.9M212.7 1055.0h0.9M204.2 1040.1h0.9M159.9 1039.1h0.9M164.6 1038.2h0.9M162.8 1037.7h0.9M189.4 1035.2h0.9M161.7 1037.7h0.9M195.3 1035.7h0.9M203.6 1035.5h0.9M173.9 1036.9h0.9M211.4 1050.6h0.9M188.1 1035.3h0.9M211.8 1057.1h0.9M183.8 1037.3h0.9M202.2 1035.8h0.9M197.4 1035.7h0.9M177.9 1035.3h0.9M210.2 1045.0h0.9M160.6 1038.7h0.9M177.1 1037.1h0.9M181.5 1036.6h0.9M213.3 1051.4h0.9M193.5 1034.9h0.9M162.4 1037.5h0.9M180.0 1036.4h0.9M201.2 1038.2h0.9M211.0 1047.0h0.9M165.9 1034.6h0.9M209.7 1045.5h0.9M185.9 1036.0h0.9M195.8 1036.7h0.9M188.0 1034.7h0.9M189.7 1034.7h0.9M214.9 1059.2h0.9M213.1 1054.3h0.9M213.2 1054.4h0.9M208.7 1042.1h0.9M206.8 1040.7h0.9M170.1 1037.9h0.9M161.7 1037.2h0.9M210.9 1048.4h0.9M206.7 1038.2h0.9M202.8 1038.3h0.9M180.9 1035.5h0.9M178.1 1035.7h0.9M213.2 1054.8h0.9M196.3 1037.1h0.9M161.5 1039.6h0.9M182.8 1031.9h0.9M183.8 1035.8h0.9M164.8 1039.1h0.9M211.8 1058.3h0.9M213.5 1053.4h0.9M212.9 1046.7h0.9M159.8 1037.6h0.9M187.9 1035.1h0.9M167.8 1037.7h0.9M207.9 1042.4h0.9M210.6 1047.4h0.9M210.3 1045.6h0.9M210.4 1046.2h0.9M167.8 1035.9h0.9M161.9 1040.7h0.9M166.8 1038.0h0.9M212.9 1048.5h0.9M210.6 1048.4h0.9M194.6 1036.0h0.9M176.3 1036.3h0.9M212.9 1049.9h0.9M167.6 1036.2h0.9M182.0 1036.5h0.9M161.0 1040.1h0.9M213.9 1059.0h0.9M188.4 1035.7h0.9M209.9 1044.4h0.9M213.7 1045.6h0.9M199.1 1038.0h0.9M215.1 1059.4h0.9M211.0 1044.1h0.9M212.5 1054.9h0.9M213.1 1057.7h0.9M166.4 1039.0h0.9M208.6 1044.0h0.9M174.7 1035.1h0.9M181.9 1035.5h0.9M182.8 1037.3h0.9M215.8 1059.4h0.9M164.2 1039.2h0.9M189.8 1035.9h0.9M168.8 1036.0h0.9M213.1 1060.0h0.9M193.2 1037.9h0.9M206.3 1041.5h0.9M195.1 1036.0h0.9M210.0 1044.3h0.9M182.6 1033.8h0.9M188.0 1035.5h0.9M209.5 1042.2h0.9M206.1 1041.3h0.9M211.9 1052.1h0.9M180.7 1037.2h0.9M214.5 1049.0h0.9M210.0 1041.5h0.9M199.4 1034.9h0.9M188.0 1036.4h0.9M198.5 1036.2h0.9M165.9 1038.2h0.9M166.1 1036.6h0.9M180.6 1036.7h0.9M168.0 1035.2h0.9M163.3 1038.2h0.9M207.7 1041.7h0.9M206.7 1043.7h0.9M201.9 1037.8h0.9M174.1 1035.2h0.9M209.5 1040.6h0.9M211.5 1047.6h0.9M201.2 1038.8h0.9M175.0 1036.7h0.9M197.7 1036.7h0.9M187.1 1034.0h0.9M178.5 1035.3h0.9M170.4 1036.4h0.9M211.8 1051.1h0.9M202.6 1038.5h0.9M215.9 1055.4h0.9M171.7 1035.6h0.9M177.9 1034.5h0.9M194.6 1035.7h0.9M163.4 1038.0h0.9M180.5 1036.7h0.9M196.7 1035.3h0.9M192.2 1036.6h0.9M214.2 1053.6h0.9M198.7 1038.2h0.9M202.9 1038.5h0.9M200.5 1035.7h0.9M209.8 1046.3h0.9M184.6 1036.0h0.9M160.6 1039.9h0.9M215.1 1058.7h0.9M210.0 1046.0h0.9M168.2 1034.9h0.9M167.7 1034.3h0.9M174.8 1035.0h0.9M204.6 1037.9h0.9M168.9 1034.1h0.9M161.0 1037.5h0.9M193.0 1036.9h0.9M160.3 1039.4h0.9M177.6 1035.7h0.9M185.3 1036.9h0.9M173.8 1037.1h0.9M159.7 1036.9h0.9M177.7 1033.8h0.9M176.3 1036.5h0.9M182.0 1035.7h0.9M188.4 1037.5h0.9M184.0 1035.7h0.9M181.5 1034.2h0.9M161.4 1039.9h0.9M211.3 1048.9h0.9M207.8 1043.0h0.9M193.6 1036.9h0.9M161.2 1040.3h0.9M175.1 1034.5h0.9M212.4 1052.9h0.9M190.7 1034.8h0.9M173.4 1035.9h0.9M212.0 1047.4h0.9M211.9 1052.9h0.9M167.8 1034.2h0.9M193.4 1035.9h0.9M198.8 1035.7h0.9M168.2 1035.3h0.9M181.6 1037.1h0.9M201.4 1038.8h0.9M204.2 1040.5h0.9M202.2 1039.7h0.9M201.8 1038.2h0.9M185.8 1035.9h0.9M164.4 1037.3h0.9M161.1 1038.0h0.9M210.7 1049.1h0.9M214.5 1050.2h0.9M214.1 1053.2h0.9M164.0 1035.0h0.9M212.1 1041.6h0.9M171.8 1036.6h0.9M183.4 1034.4h0.9M173.0 1035.0h0.9M213.6 1049.8h0.9M210.7 1048.0h0.9M210.9 1048.5h0.9M185.5 1034.2h0.9M212.6 1055.3h0.9M177.3 1036.7h0.9M199.0 1037.8h0.9M207.7 1037.7h0.9M175.2 1035.4h0.9M186.1 1035.9h0.9M166.9 1038.2h0.9M209.7 1046.7h0.9M172.5 1037.1h0.9M169.6 1035.6h0.9M178.5 1036.4h0.9M204.5 1035.0h0.9M203.0 1038.2h0.9M195.6 1034.2h0.9M211.1 1050.2h0.9M208.9 1043.2h0.9M174.6 1035.6h0.9M196.5 1034.5h0.9M171.4 1037.8h0.9M175.8 1036.1h0.9M169.5 1035.1h0.9M166.1 1038.5h0.9M184.1 1037.3h0.9M214.6 1051.5h0.9M204.8 1037.4h0.9M166.4 1037.8h0.9M174.2 1034.6h0.9M200.0 1036.6h0.9M196.2 1035.4h0.9M161.9 1038.3h0.9M164.8 1034.2h0.9M197.8 1037.3h0.9M200.7 1038.3h0.9M165.6 1037.6h0.9M210.4 1044.3h0.9M176.1 1037.5h0.9M199.8 1036.4h0.9M195.8 1037.0h0.9M183.5 1035.3h0.9M216.8 1056.2h0.9M186.4 1036.3h0.9M189.1 1034.1h0.9M196.6 1037.3h0.9M211.5 1048.6h0.9M214.1 1058.8h0.9M209.3 1044.6h0.9M196.1 1035.7h0.9M208.0 1041.0h0.9M203.7 1036.6h0.9M212.1 1057.1h0.9M211.9 1058.3h0.9M210.1 1043.8h0.9M174.4 1034.1h0.9M197.9 1037.2h0.9M189.7 1036.5h0.9M175.2 1032.9h0.9M209.8 1045.4h0.9M175.3 1035.7h0.9M205.8 1042.3h0.9M192.8 1036.7h0.9M188.6 1037.8h0.9M206.7 1041.7h0.9M206.4 1043.3h0.9M216.4 1058.7h0.9M215.5 1059.4h0.9M210.9 1046.6h0.9M177.5 1035.9h0.9M207.5 1037.6h0.9M193.9 1036.2h0.9M212.1 1055.9h0.9M190.3 1036.0h0.9M183.9 1037.1h0.9M162.1 1037.7h0.9M192.0 1036.3h0.9M196.3 1037.7h0.9M181.0 1035.1h0.9M167.5 1037.4h0.9M192.3 1034.3h0.9M164.7 1036.8h0.9M171.7 1035.2h0.9M189.7 1036.1h0.9M183.1 1037.2h0.9M193.6 1035.1h0.9M196.1 1035.9h0.9M186.2 1035.3h0.9M169.3 1036.6h0.9M161.6 1040.0h0.9M197.7 1038.2h0.9M212.0 1058.3h0.9M179.3 1037.1h0.9M183.4 1035.9h0.9M181.5 1035.8h0.9M208.0 1043.4h0.9M193.6 1035.1h0.9M210.5 1046.6h0.9M160.4 1040.0h0.9M169.1 1037.6h0.9M173.5 1037.8h0.9M185.3 1036.8h0.9M187.0 1036.4h0.9M186.2 1035.8h0.9M213.4 1057.8h0.9M189.6 1033.8h0.9M199.2 1037.0h0.9M217.0 1057.6h0.9M203.5 1038.0h0.9M199.8 1038.1h0.9M210.6 1049.0h0.9M182.5 1035.3h0.9M161.4 1036.4h0.9M212.2 1057.1h0.9M196.1 1034.7h0.9M200.4 1033.8h0.9M163.9 1037.9h0.9M208.9 1043.0h0.9M185.1 1036.0h0.9M202.5 1039.7h0.9M179.4 1036.8h0.9M214.8 1054.4h0.9M184.9 1035.0h0.9M179.1 1035.5h0.9M212.5 1052.1h0.9M175.3 1036.1h0.9M178.2 1034.6h0.9M193.1 1037.0h0.9M213.9 1058.3h0.9M167.7 1037.6h0.9M174.5 1033.7h0.9M212.7 1045.2h0.9M165.2 1038.0h0.9M187.5 1036.3h0.9M209.9 1045.1h0.9M206.8 1042.1h0.9M214.6 1045.0h0.9M167.6 1037.0h0.9M214.1 1051.4h0.9M184.6 1034.7h0.9M210.1 1047.3h0.9M192.1 1037.0h0.9M211.8 1053.2h0.9M192.4 1037.2h0.9M177.8 1035.2h0.9M169.7 1035.1h0.9M193.3 1035.8h0.9M164.2 1038.8h0.9M171.0 1036.8h0.9M213.2 1051.4h0.9M199.2 1037.8h0.9M214.4 1049.7h0.9M169.9 1034.9h0.9M192.9 1037.2h0.9M191.5 1037.4h0.9M167.8 1038.2h0.9M178.2 1036.5h0.9M212.0 1054.6h0.9M207.2 1042.6h0.9M194.6 1035.6h0.9M201.1 1037.7h0.9M213.6 1050.3h0.9M215.1 1056.5h0.9M200.1 1037.7h0.9M163.5 1037.0h0.9M212.0 1051.4h0.9M171.2 1034.8h0.9M176.2 1036.8h0.9M169.4 1035.1h0.9M194.6 1034.3h0.9M199.4 1037.6h0.9M191.2 1036.2h0.9M192.0 1036.3h0.9M169.7 1037.3h0.9M206.6 1042.7h0.9M196.6 1035.9h0.9M180.8 1032.5h0.9M215.8 1047.5h0.9M214.6 1055.6h0.9M215.4 1054.5h0.9M212.4 1058.7h0.9M163.6 1035.6h0.9M185.9 1034.5h0.9M190.7 1035.5h0.9M177.6 1036.4h0.9M208.4 1043.2h0.9M212.4 1053.7h0.9M169.3 1036.6h0.9M194.0 1037.5h0.9M211.8 1057.7h0.9M212.4 1052.2h0.9M190.7 1036.3h0.9M167.6 1037.9h0.9M190.9 1037.3h0.9M194.5 1033.9h0.9M210.5 1045.2h0.9M172.4 1033.6h0.9M179.1 1034.7h0.9M215.0 1059.1h0.9M160.8 1038.9h0.9M200.8 1038.4h0.9M167.2 1037.9h0.9M208.3 1044.0h0.9M188.8 1035.2h0.9M214.7 1054.4h0.9M174.7 1036.8h0.9M215.4 1050.3h0.9M175.2 1035.1h0.9M163.7 1038.7h0.9M166.2 1037.9h0.9M165.0 1037.1h0.9M186.2 1036.5h0.9M212.8 1058.4h0.9M183.8 1035.3h0.9M207.0 1042.3h0.9M162.5 1039.4h0.9M195.1 1036.6h0.9M196.4 1034.7h0.9M166.0 1036.4h0.9M199.4 1036.0h0.9M190.5 1034.1h0.9M182.1 1034.4h0.9M214.4 1047.3h0.9M205.7 1041.1h0.9M167.8 1037.5h0.9M166.7 1036.5h0.9M163.7 1038.8h0.9M178.0 1033.4h0.9M203.3 1036.9h0.9M212.8 1057.7h0.9M211.7 1057.9h0.9M211.9 1051.0h0.9M168.4 1033.0h0.9M212.4 1045.5h0.9M211.2 1043.0h0.9M191.7 1036.4h0.9M214.0 1059.8h0.9M200.1 1037.9h0.9M168.2 1036.7h0.9M174.6 1035.8h0.9M168.4 1036.4h0.9M200.6 1038.1h0.9M201.9 1038.7h0.9M211.7 1049.8h0.9M160.6 1038.9h0.9M161.1 1040.4h0.9M212.7 1058.2h0.9M178.1 1035.0h0.9M177.6 1032.6h0.9M213.4 1050.5h0.9M167.8 1037.6h0.9M210.6 1046.5h0.9M214.1 1052.3h0.9M197.7 1036.7h0.9M201.1 1038.7h0.9M160.8 1040.4h0.9M200.3 1038.2h0.9M201.4 1037.9h0.9M212.0 1041.8h0.9M195.3 1034.6h0.9M167.6 1037.8h0.9M174.8 1035.2h0.9M205.4 1035.9h0.9M165.4 1037.5h0.9M167.7 1038.2h0.9M176.7 1036.4h0.9M211.4 1046.3h0.9M196.9 1037.2h0.9M183.8 1037.0h0.9M214.2 1057.7h0.9M198.8 1037.4h0.9M176.3 1036.3h0.9M198.4 1037.3h0.9M213.7 1049.8h0.9M184.6 1037.0h0.9M189.1 1037.1h0.9M198.7 1038.5h0.9M214.0 1059.3h0.9M203.0 1039.8h0.9M172.4 1035.1h0.9M199.5 1036.9h0.9M181.8 1036.7h0.9M192.3 1034.9h0.9M207.9 1041.0h0.9M160.5 1035.9h0.9M194.6 1036.7h0.9M181.0 1035.3h0.9M200.8 1036.7h0.9M216.0 1046.9h0.9M191.9 1033.6h0.9" stroke="#7b7b7b" stroke-width="0.9" fill="none" opacity="0.85"/>
<path d="M195.3 1007.1h0.8M182.0 1020.8h0.8M171.6 1033.0h0.8M179.2 1027.6h0.8M177.7 1025.2h0.8M178.6 1024.6h0.8M182.5 1018.5h0.8M188.4 1022.5h0.8M172.9 1015.6h0.8M188.5 1034.7h0.8M169.1 1020.6h0.8M188.5 1032.4h0.8M191.4 1014.5h0.8M184.0 1031.2h0.8M186.2 1022.2h0.8M170.5 1025.3h0.8M182.8 1024.2h0.8M200.2 1033.5h0.8M174.8 1025.9h0.8M180.1 1024.8h0.8M201.6 1031.3h0.8M184.0 1018.7h0.8M181.8 1026.9h0.8M178.1 1032.8h0.8M183.8 1014.5h0.8M206.2 1000.7h0.8M180.6 1023.0h0.8M194.5 1032.9h0.8M199.7 1036.5h0.8M187.1 1024.9h0.8M194.8 1023.8h0.8M169.6 1020.3h0.8M190.9 1028.9h0.8M171.4 1033.6h0.8M187.0 1011.9h0.8M188.7 1032.1h0.8M189.5 1021.5h0.8M174.7 1033.0h0.8M186.1 1023.9h0.8M179.2 1015.7h0.8M162.8 1021.2h0.8M195.8 1030.1h0.8M176.0 1036.3h0.8M181.0 1015.9h0.8M194.4 1035.1h0.8M179.3 1014.2h0.8M182.9 1004.5h0.8M184.2 1036.2h0.8M186.6 1018.1h0.8M191.4 1020.0h0.8M197.6 1021.1h0.8M206.1 1021.2h0.8M185.7 1016.5h0.8M169.4 1026.8h0.8M187.4 1016.2h0.8M189.8 1020.7h0.8M177.5 1023.4h0.8M187.9 1029.8h0.8M197.2 1027.1h0.8M175.5 1018.5h0.8M187.7 1014.4h0.8M181.7 1020.9h0.8M182.5 1025.5h0.8M195.1 1037.1h0.8M193.3 1032.1h0.8M171.8 1032.3h0.8M197.9 1013.1h0.8M211.5 1019.4h0.8M157.3 1038.2h0.8M184.3 1017.6h0.8M177.2 1032.6h0.8M186.4 1021.0h0.8M196.3 1016.5h0.8M174.2 1019.5h0.8M175.3 1029.5h0.8M181.0 1015.5h0.8M178.5 1008.1h0.8M185.4 1024.8h0.8M190.3 1022.1h0.8M188.0 1016.5h0.8M183.8 1025.2h0.8M170.2 1028.7h0.8M185.1 1024.4h0.8M178.3 1040.1h0.8M183.6 1017.8h0.8M174.2 1028.7h0.8M181.3 1017.7h0.8M175.6 1031.5h0.8M184.5 1032.4h0.8M183.4 1014.5h0.8M193.1 1026.6h0.8M176.4 1021.5h0.8M172.9 1030.6h0.8M179.0 1027.8h0.8M186.4 1021.9h0.8M187.7 1022.0h0.8M170.6 1020.7h0.8M170.6 1030.0h0.8M190.7 1019.3h0.8M190.4 1026.0h0.8M194.3 1016.5h0.8M183.9 1016.1h0.8M176.0 1035.0h0.8M161.4 1016.7h0.8M188.9 1030.2h0.8M174.9 1007.7h0.8M164.6 1026.9h0.8M195.7 1031.3h0.8M175.5 1034.8h0.8M181.5 1028.9h0.8M181.5 1036.7h0.8M177.9 1006.8h0.8M180.1 1025.5h0.8M186.6 1018.3h0.8M181.0 1014.9h0.8M181.0 1024.7h0.8M186.2 1037.1h0.8M161.6 1028.1h0.8M188.3 1014.7h0.8M184.3 1023.9h0.8M172.5 1029.8h0.8M204.6 1029.4h0.8M192.1 1032.5h0.8M182.1 1031.8h0.8M174.7 1025.4h0.8M191.3 1034.4h0.8M180.4 1021.7h0.8M188.7 1023.4h0.8M185.1 1030.4h0.8M175.2 1031.0h0.8M187.7 1021.9h0.8M169.8 1019.0h0.8M183.1 1031.5h0.8M162.0 1029.7h0.8M185.7 1015.0h0.8M193.0 1027.2h0.8M188.4 1016.2h0.8M171.4 1031.2h0.8M199.0 1026.9h0.8M181.5 1020.4h0.8M164.8 1031.8h0.8M182.5 1033.8h0.8M175.7 1032.4h0.8M175.8 1028.7h0.8M198.6 1018.4h0.8M193.5 1023.9h0.8M173.3 1025.6h0.8M190.6 1018.3h0.8M180.7 1019.5h0.8M175.2 1022.3h0.8M192.6 1020.1h0.8M197.2 1021.0h0.8M176.0 1032.5h0.8M198.9 1018.8h0.8M190.0 1014.8h0.8M179.1 1021.0h0.8M191.3 1014.0h0.8M178.0 1018.5h0.8M184.7 1014.2h0.8M169.0 1046.4h0.8M185.9 1012.1h0.8M192.7 1013.6h0.8M163.0 1037.2h0.8M197.2 1017.3h0.8M171.7 1027.8h0.8M205.7 1028.7h0.8M190.8 1014.6h0.8M164.2 1027.1h0.8M194.6 1025.1h0.8M183.5 1034.9h0.8M174.4 1032.7h0.8M192.6 1019.1h0.8M184.9 1024.9h0.8M189.9 1016.3h0.8M181.0 1024.7h0.8M183.9 1024.2h0.8M186.3 1022.5h0.8M178.1 1032.2h0.8M176.6 1021.5h0.8M174.0 1014.9h0.8M188.4 1023.7h0.8M182.1 1027.6h0.8M181.7 1029.4h0.8M203.2 1026.7h0.8M180.7 1037.1h0.8M191.2 1010.9h0.8M198.0 1025.7h0.8M192.8 1014.9h0.8M174.4 1018.9h0.8M189.6 1015.1h0.8M175.9 1031.5h0.8M176.6 1024.9h0.8M173.8 1010.6h0.8M182.7 1023.0h0.8M168.1 1031.7h0.8M192.4 1031.0h0.8M178.0 1015.0h0.8M182.6 1025.3h0.8M181.7 1019.4h0.8M172.8 1018.2h0.8M182.7 1020.2h0.8M201.6 1021.8h0.8M188.5 1020.3h0.8M181.6 1016.3h0.8M178.3 1012.2h0.8M161.1 1034.5h0.8M172.2 1027.4h0.8M182.2 1019.5h0.8M191.4 1019.6h0.8M188.3 1021.1h0.8" stroke="#8c8c8c" stroke-width="0.85" fill="none" opacity="0.9"/>
</g>
<rect x="161.2" y="981.4" width="78.80000000000001" height="78.39999999999998" fill="none" stroke="#333" stroke-width="1.1"/>
<line x1="186.2" y1="981.4" x2="186.2" y2="1059.8" stroke="#5a5a5a" stroke-width="0.9"/>
<line x1="161.2" y1="1033.3" x2="240" y2="1033.3" stroke="#5a5a5a" stroke-width="0.9"/>
<text x="236.2" y="996.6" font-size="12" font-weight="bold" text-anchor="end" fill="#111">28.3%</text>
<clipPath id="cp2"><rect x="259.3" y="981.9" width="78.19999999999999" height="77.39999999999998"/></clipPath><g clip-path="url(#cp2)">
<path d="M258.8 1037.0 C259.7 1036.8 256.6 1035.8 264.0 1035.5 C271.4 1035.2 295.3 1034.9 303.0 1035.2 C310.7 1035.5 308.0 1036.2 310.0 1037.5 C312.0 1038.8 313.8 1040.8 315.0 1043.0 C316.2 1045.2 317.1 1048.2 317.5 1051.0 C317.9 1053.8 317.5 1058.3 317.5 1059.8 L258.8 1059.8 Z" fill="#7b7b7b"/>
<path d="M267.4 1034.2h0.9M304.0 1034.9h0.9M276.5 1031.8h0.9M292.2 1035.7h0.9M273.2 1032.8h0.9M313.0 1039.0h0.9M311.8 1041.6h0.9M311.0 1037.8h0.9M268.6 1032.7h0.9M262.0 1036.1h0.9M302.4 1035.9h0.9M264.1 1034.0h0.9M313.3 1038.7h0.9M299.6 1033.3h0.9M318.0 1054.6h0.9M318.0 1044.9h0.9M307.9 1037.4h0.9M318.4 1046.0h0.9M297.2 1035.6h0.9M280.3 1035.5h0.9M262.9 1035.4h0.9M312.0 1038.0h0.9M309.8 1034.2h0.9M306.5 1035.6h0.9M297.1 1035.4h0.9M293.2 1034.2h0.9M317.1 1053.9h0.9M287.0 1033.1h0.9M269.0 1031.7h0.9M320.4 1056.1h0.9M314.0 1042.7h0.9M318.6 1052.1h0.9M318.7 1058.8h0.9M291.9 1036.1h0.9M269.6 1035.1h0.9M295.7 1034.7h0.9M296.0 1033.4h0.9M288.0 1035.4h0.9M315.4 1043.7h0.9M277.3 1034.2h0.9M318.7 1057.7h0.9M274.2 1036.0h0.9M280.2 1035.2h0.9M316.5 1046.6h0.9M276.3 1034.7h0.9M311.6 1040.3h0.9M279.2 1035.5h0.9M289.0 1034.5h0.9M293.9 1030.1h0.9M277.4 1034.5h0.9M316.7 1045.8h0.9M316.9 1055.4h0.9M317.9 1054.2h0.9M270.1 1034.8h0.9M260.2 1036.2h0.9M291.5 1034.0h0.9M313.1 1041.6h0.9M299.8 1034.8h0.9M317.2 1057.0h0.9M318.0 1058.8h0.9M310.0 1037.4h0.9M277.8 1035.6h0.9M288.8 1035.4h0.9M262.6 1034.4h0.9M288.3 1036.0h0.9M312.9 1041.8h0.9M282.6 1035.5h0.9M272.1 1034.9h0.9M299.5 1034.8h0.9M317.2 1052.3h0.9M307.0 1036.4h0.9M266.1 1035.4h0.9M290.7 1034.1h0.9M276.0 1033.2h0.9M320.0 1044.1h0.9M290.3 1034.1h0.9M291.7 1034.0h0.9M316.5 1050.2h0.9M280.9 1034.9h0.9M292.6 1034.1h0.9M321.2 1058.1h0.9M281.9 1034.8h0.9M299.6 1034.0h0.9M307.8 1037.3h0.9M283.5 1033.5h0.9M306.8 1032.6h0.9M290.3 1033.5h0.9M316.6 1047.2h0.9M300.9 1035.6h0.9M312.2 1039.5h0.9M301.7 1034.2h0.9M310.9 1038.9h0.9M287.4 1033.3h0.9M269.3 1034.2h0.9M286.3 1035.2h0.9M282.6 1035.1h0.9M259.3 1036.0h0.9M314.2 1042.6h0.9M297.8 1034.7h0.9M294.3 1034.0h0.9M310.6 1038.9h0.9M262.5 1033.9h0.9M268.2 1035.3h0.9M314.0 1037.4h0.9M261.8 1035.7h0.9M318.6 1049.2h0.9M297.2 1034.6h0.9M317.2 1057.2h0.9M317.2 1048.6h0.9M289.2 1036.0h0.9M284.1 1031.9h0.9M291.2 1034.9h0.9M314.3 1042.9h0.9M293.7 1035.6h0.9M311.5 1040.0h0.9M316.9 1059.4h0.9M314.1 1040.2h0.9M297.8 1034.4h0.9M312.7 1041.7h0.9M295.4 1033.0h0.9M302.4 1035.7h0.9M290.0 1033.0h0.9M319.2 1054.7h0.9M318.3 1058.5h0.9M301.8 1035.1h0.9M301.2 1034.8h0.9M266.4 1035.2h0.9M301.1 1035.9h0.9M318.0 1054.3h0.9M276.3 1035.6h0.9M314.2 1043.4h0.9M277.5 1034.3h0.9M314.1 1036.4h0.9M279.7 1035.6h0.9M303.6 1035.5h0.9M313.7 1042.8h0.9M259.6 1030.7h0.9M315.9 1048.1h0.9M297.9 1032.5h0.9M276.4 1034.5h0.9M281.3 1033.6h0.9M300.8 1035.7h0.9M314.6 1039.5h0.9M272.0 1035.8h0.9M263.3 1035.1h0.9M275.6 1034.7h0.9M306.7 1035.0h0.9M289.2 1033.4h0.9M313.2 1043.0h0.9M313.4 1039.8h0.9M286.2 1035.9h0.9M302.8 1034.8h0.9M269.1 1035.5h0.9M304.3 1035.9h0.9M307.1 1036.3h0.9M276.1 1035.5h0.9M309.0 1036.0h0.9M268.7 1035.2h0.9M317.5 1057.2h0.9M299.6 1034.8h0.9M317.5 1053.5h0.9M309.2 1037.3h0.9M274.5 1034.4h0.9M314.1 1039.1h0.9M305.1 1035.9h0.9M287.0 1034.9h0.9M312.3 1036.6h0.9M313.1 1042.3h0.9M310.9 1036.8h0.9M274.9 1035.2h0.9M319.9 1056.8h0.9M317.1 1053.1h0.9M291.6 1032.2h0.9M318.0 1054.4h0.9M318.0 1059.2h0.9M284.6 1034.6h0.9M273.1 1035.7h0.9M277.2 1035.6h0.9M295.8 1033.5h0.9M268.7 1032.2h0.9M276.1 1034.9h0.9M314.6 1038.8h0.9M259.6 1036.9h0.9M305.2 1035.2h0.9M289.0 1034.2h0.9M311.4 1039.2h0.9M277.8 1033.5h0.9M294.4 1036.0h0.9M274.8 1035.1h0.9M259.6 1035.9h0.9M318.3 1049.1h0.9M286.6 1034.6h0.9M280.6 1033.6h0.9M318.2 1054.7h0.9M286.1 1031.6h0.9M299.6 1033.8h0.9M269.3 1035.5h0.9M289.8 1033.4h0.9M317.6 1050.0h0.9M317.4 1046.7h0.9M316.3 1046.2h0.9M316.6 1053.6h0.9M276.2 1035.0h0.9M262.0 1034.6h0.9M268.3 1035.8h0.9M308.1 1036.5h0.9M300.3 1035.7h0.9M286.8 1035.7h0.9M313.0 1037.5h0.9M275.3 1035.0h0.9M304.6 1035.5h0.9M289.8 1034.8h0.9M268.6 1035.0h0.9M316.6 1042.6h0.9M272.3 1035.4h0.9M317.6 1044.6h0.9M313.9 1041.5h0.9M292.0 1035.5h0.9M292.3 1035.7h0.9M274.1 1033.4h0.9M269.1 1032.1h0.9M310.4 1038.9h0.9M286.9 1035.8h0.9M300.8 1035.8h0.9M285.8 1033.3h0.9M278.8 1033.9h0.9M270.7 1035.4h0.9M314.3 1042.2h0.9M291.7 1034.7h0.9M269.6 1032.0h0.9M318.3 1049.8h0.9M269.6 1032.2h0.9M275.9 1035.9h0.9M269.8 1033.7h0.9M301.1 1035.2h0.9M317.5 1042.1h0.9M260.6 1036.8h0.9M316.2 1054.4h0.9M310.9 1038.7h0.9M317.4 1046.5h0.9M290.5 1035.3h0.9M291.7 1036.0h0.9M265.6 1034.4h0.9M278.2 1032.7h0.9M315.8 1050.0h0.9M279.7 1035.2h0.9M317.6 1052.6h0.9M316.3 1047.1h0.9M316.4 1053.4h0.9M268.4 1034.9h0.9M290.8 1034.1h0.9M318.4 1046.7h0.9M282.1 1034.7h0.9M276.7 1034.3h0.9M259.8 1034.4h0.9M298.6 1033.8h0.9M300.2 1035.3h0.9M273.9 1033.6h0.9M278.0 1035.9h0.9M306.5 1035.9h0.9M271.8 1032.7h0.9M315.7 1043.5h0.9M317.7 1049.8h0.9M290.6 1033.4h0.9M267.8 1034.8h0.9M302.2 1034.9h0.9M280.7 1035.0h0.9M266.5 1033.9h0.9M313.1 1038.3h0.9M300.8 1033.9h0.9M278.6 1035.0h0.9M276.8 1033.9h0.9M311.8 1040.1h0.9M317.9 1053.7h0.9M285.1 1035.1h0.9M303.6 1033.3h0.9M275.1 1035.1h0.9M293.2 1033.6h0.9M302.4 1034.5h0.9M281.7 1036.2h0.9M304.3 1034.6h0.9M299.4 1034.7h0.9M261.0 1033.8h0.9M267.6 1035.2h0.9M289.6 1035.4h0.9M269.5 1034.5h0.9M299.6 1032.6h0.9M303.7 1034.6h0.9M305.8 1034.7h0.9M317.3 1051.2h0.9M304.7 1035.1h0.9M316.3 1041.5h0.9M266.8 1035.1h0.9M316.5 1050.5h0.9M318.1 1054.2h0.9M303.5 1034.1h0.9M316.7 1046.3h0.9M300.5 1034.1h0.9M291.1 1035.8h0.9M270.5 1034.3h0.9M295.3 1033.0h0.9M311.7 1039.5h0.9M315.9 1044.6h0.9M320.3 1051.6h0.9M297.4 1034.2h0.9M316.7 1055.5h0.9M286.1 1034.1h0.9M259.5 1035.3h0.9M290.8 1032.0h0.9M299.8 1035.3h0.9M314.6 1043.2h0.9M275.8 1035.5h0.9M260.3 1036.5h0.9M313.3 1038.8h0.9M272.3 1035.3h0.9M319.5 1047.4h0.9M301.3 1033.4h0.9M268.5 1032.7h0.9M297.8 1035.1h0.9M313.5 1042.8h0.9M275.7 1034.0h0.9M318.4 1056.6h0.9M262.2 1036.2h0.9M269.6 1035.4h0.9M304.2 1034.4h0.9M310.5 1035.8h0.9M304.2 1036.4h0.9M317.4 1053.7h0.9M273.2 1035.1h0.9M261.3 1035.7h0.9M299.1 1035.4h0.9M284.5 1034.0h0.9M287.9 1032.9h0.9M288.8 1035.9h0.9M317.0 1050.6h0.9M279.5 1033.7h0.9M310.3 1037.7h0.9M301.6 1034.4h0.9M279.8 1033.1h0.9M316.9 1053.0h0.9M277.9 1035.7h0.9M280.9 1035.0h0.9M272.8 1034.6h0.9M313.5 1036.4h0.9M310.1 1038.5h0.9M286.4 1031.8h0.9M267.5 1032.0h0.9M304.3 1033.7h0.9M284.3 1035.6h0.9M300.6 1036.2h0.9M307.7 1036.8h0.9M256.9 1033.0h0.9M261.4 1035.3h0.9M315.9 1046.6h0.9M317.0 1050.1h0.9M264.9 1035.4h0.9M275.6 1035.3h0.9M291.0 1034.0h0.9M318.2 1046.5h0.9M281.8 1035.2h0.9M320.6 1056.6h0.9M265.1 1032.5h0.9M316.3 1052.9h0.9M262.3 1033.7h0.9M304.2 1035.7h0.9M317.0 1057.2h0.9M313.0 1038.6h0.9M317.7 1052.9h0.9M285.2 1035.2h0.9M318.0 1056.2h0.9M318.8 1052.1h0.9M278.8 1032.1h0.9M314.7 1043.1h0.9M318.4 1053.2h0.9M274.2 1035.3h0.9M288.0 1034.8h0.9M314.5 1042.8h0.9M301.8 1031.4h0.9M316.6 1054.0h0.9M291.4 1035.1h0.9M292.0 1032.4h0.9M271.1 1035.5h0.9M279.5 1035.2h0.9M319.0 1049.8h0.9M278.5 1034.1h0.9M319.1 1051.6h0.9M314.8 1044.9h0.9M302.1 1034.4h0.9M281.7 1034.6h0.9M257.3 1033.8h0.9M266.7 1035.6h0.9M315.0 1047.4h0.9M320.1 1056.5h0.9M317.6 1056.5h0.9M280.0 1031.7h0.9M317.4 1054.9h0.9M291.3 1035.0h0.9M285.8 1035.2h0.9M317.4 1053.0h0.9M320.8 1044.4h0.9M313.1 1034.2h0.9M279.7 1033.5h0.9M266.0 1034.6h0.9M272.1 1034.2h0.9M278.1 1035.5h0.9M272.9 1035.5h0.9M301.9 1033.4h0.9M282.2 1031.1h0.9M274.2 1034.2h0.9M320.8 1048.9h0.9M285.9 1033.4h0.9M257.9 1034.1h0.9M257.1 1031.5h0.9M300.0 1035.2h0.9M259.5 1033.0h0.9M300.9 1033.6h0.9M259.6 1035.8h0.9M294.1 1035.9h0.9M305.4 1034.3h0.9M299.0 1032.9h0.9M275.1 1033.4h0.9M316.9 1047.3h0.9M317.1 1057.5h0.9M316.1 1046.0h0.9M317.2 1054.3h0.9M318.2 1058.1h0.9M286.3 1034.2h0.9M299.4 1034.7h0.9M290.1 1031.8h0.9M315.9 1043.2h0.9M271.0 1034.5h0.9M275.4 1035.7h0.9M292.6 1034.7h0.9M299.5 1035.3h0.9M316.9 1059.2h0.9M283.5 1034.3h0.9M258.8 1037.5h0.9M288.2 1035.8h0.9M317.5 1050.4h0.9M265.7 1033.6h0.9M298.2 1035.1h0.9M303.8 1036.2h0.9M316.1 1047.0h0.9M283.6 1033.6h0.9M305.0 1035.5h0.9M317.3 1055.9h0.9M318.0 1057.9h0.9M301.4 1035.5h0.9M283.5 1033.8h0.9M309.0 1033.5h0.9M312.9 1040.3h0.9M310.2 1037.4h0.9M310.5 1034.9h0.9M287.9 1033.0h0.9M311.6 1039.6h0.9M285.5 1035.0h0.9M275.5 1032.4h0.9M265.9 1032.3h0.9M300.9 1034.5h0.9M271.3 1035.8h0.9M279.7 1032.8h0.9M280.6 1032.3h0.9M286.3 1035.7h0.9M289.8 1035.7h0.9M317.3 1058.1h0.9M298.2 1034.5h0.9M300.0 1034.8h0.9M288.5 1034.4h0.9M299.5 1036.3h0.9M316.6 1045.4h0.9M297.8 1035.7h0.9M297.7 1033.9h0.9M285.4 1032.5h0.9M272.4 1033.4h0.9M274.3 1032.7h0.9M264.8 1035.3h0.9M279.8 1035.5h0.9M261.6 1036.4h0.9M289.9 1035.7h0.9M301.6 1033.3h0.9M266.6 1034.1h0.9M313.6 1041.6h0.9M293.1 1034.8h0.9M306.0 1034.2h0.9M290.6 1034.0h0.9M314.7 1044.4h0.9M309.0 1037.4h0.9M267.4 1033.4h0.9M299.9 1034.7h0.9M278.3 1035.5h0.9M312.9 1041.0h0.9M286.7 1033.4h0.9M275.4 1031.2h0.9M260.7 1036.7h0.9M317.6 1058.8h0.9M267.4 1035.5h0.9M277.5 1034.8h0.9M317.9 1054.9h0.9M262.0 1035.7h0.9M289.3 1034.9h0.9M291.5 1032.5h0.9M311.2 1036.7h0.9M316.3 1042.6h0.9M318.3 1057.6h0.9M282.9 1034.4h0.9M264.3 1035.9h0.9M274.7 1032.8h0.9M257.1 1031.6h0.9M278.5 1033.7h0.9M305.2 1036.9h0.9M317.4 1051.2h0.9M265.5 1034.2h0.9M278.9 1034.1h0.9M316.8 1051.7h0.9M304.0 1032.9h0.9M289.1 1035.8h0.9M263.3 1034.1h0.9M262.7 1036.4h0.9M274.3 1034.9h0.9M305.8 1034.1h0.9M262.9 1035.0h0.9M297.0 1036.1h0.9M316.6 1045.4h0.9M259.1 1037.4h0.9M279.7 1034.8h0.9M290.2 1035.9h0.9M304.5 1034.9h0.9M314.4 1038.6h0.9M311.5 1036.4h0.9M291.4 1034.1h0.9M284.0 1031.9h0.9M305.8 1036.1h0.9M292.9 1034.1h0.9M316.1 1054.6h0.9M298.9 1032.4h0.9M303.0 1035.7h0.9M308.6 1037.0h0.9M294.7 1034.5h0.9M296.2 1035.5h0.9M309.3 1034.4h0.9M304.8 1034.1h0.9M318.3 1059.7h0.9M281.3 1035.5h0.9M295.4 1035.6h0.9M318.0 1058.3h0.9M315.5 1045.8h0.9M300.3 1035.2h0.9M281.3 1036.0h0.9M271.9 1033.2h0.9M290.0 1035.2h0.9M290.7 1034.0h0.9M291.1 1034.3h0.9M277.9 1034.3h0.9M294.9 1033.9h0.9M301.9 1034.0h0.9M265.8 1033.5h0.9M308.6 1035.0h0.9M313.0 1037.9h0.9M272.6 1034.8h0.9M277.2 1034.4h0.9M260.7 1034.1h0.9M294.5 1034.2h0.9M309.7 1036.5h0.9M289.6 1034.9h0.9M303.2 1035.2h0.9M304.0 1036.4h0.9M261.2 1034.8h0.9M262.1 1035.8h0.9M296.7 1032.2h0.9M317.4 1054.4h0.9M313.1 1037.7h0.9M292.1 1033.5h0.9M277.7 1033.8h0.9M267.9 1036.3h0.9M307.8 1036.0h0.9M316.0 1040.6h0.9M287.8 1035.6h0.9M264.5 1035.0h0.9M279.3 1033.3h0.9M310.9 1039.2h0.9M314.3 1042.9h0.9M288.3 1034.3h0.9M316.6 1051.7h0.9M287.8 1034.8h0.9M259.8 1037.4h0.9M273.6 1034.9h0.9M318.3 1051.3h0.9M313.0 1037.4h0.9M264.6 1035.3h0.9M280.3 1033.9h0.9M287.8 1033.9h0.9M295.0 1033.9h0.9M260.6 1037.1h0.9M317.2 1054.1h0.9M298.8 1035.2h0.9M278.6 1035.6h0.9M260.8 1036.9h0.9M301.3 1034.9h0.9M317.5 1054.2h0.9M312.3 1039.1h0.9M319.6 1048.2h0.9M318.6 1049.5h0.9M309.1 1035.4h0.9M262.9 1036.4h0.9M281.7 1035.2h0.9M303.3 1032.0h0.9M290.3 1035.9h0.9M274.5 1032.3h0.9M263.4 1034.8h0.9M316.3 1050.0h0.9M308.6 1037.9h0.9M281.3 1033.6h0.9M294.3 1034.8h0.9M316.1 1049.9h0.9M268.8 1032.9h0.9M306.9 1034.7h0.9M275.8 1033.4h0.9M317.0 1053.0h0.9M317.1 1044.2h0.9M320.2 1055.8h0.9" stroke="#7b7b7b" stroke-width="0.9" fill="none" opacity="0.85"/>
<path d="M251.7 1010.3h0.8M305.1 1026.3h0.8M320.8 1027.8h0.8M293.5 1033.0h0.8M281.7 1018.2h0.8M274.3 1023.9h0.8M293.2 1028.8h0.8M306.4 1026.6h0.8M303.6 1020.3h0.8M275.0 1027.3h0.8M300.7 1031.7h0.8M285.4 1018.7h0.8M282.8 1024.7h0.8M286.9 1020.8h0.8M290.8 1020.0h0.8M291.9 1017.8h0.8M267.4 1019.9h0.8M312.1 1016.3h0.8M299.4 1031.7h0.8M280.5 1023.9h0.8M257.8 1026.2h0.8M307.6 1023.4h0.8M261.6 1017.9h0.8M277.9 1022.9h0.8M291.3 1019.1h0.8M283.5 1016.2h0.8M295.0 1023.5h0.8M292.0 1018.5h0.8M294.0 1019.9h0.8M291.4 1020.9h0.8M278.9 1014.2h0.8M263.3 1012.3h0.8M293.6 1045.5h0.8M266.2 1016.2h0.8M287.4 1047.7h0.8M284.9 1013.7h0.8M293.0 1037.1h0.8M251.1 1013.6h0.8M303.7 1013.7h0.8M286.2 1017.5h0.8M297.5 1011.6h0.8M291.6 1023.6h0.8M294.9 1025.1h0.8M289.6 1009.2h0.8M283.3 1015.2h0.8M294.5 1020.4h0.8M289.5 1030.0h0.8M286.2 1034.2h0.8M298.4 1011.3h0.8M279.9 1030.8h0.8M281.1 1030.7h0.8M280.2 1021.2h0.8M301.0 1010.7h0.8M288.6 1018.8h0.8M289.8 1034.4h0.8M294.0 1012.3h0.8M300.1 1018.8h0.8M289.7 1030.4h0.8M283.5 1029.0h0.8M289.9 1015.5h0.8M283.5 1012.2h0.8M303.0 1023.2h0.8M300.2 1014.0h0.8M298.6 1013.4h0.8M291.2 1021.9h0.8M279.9 1024.3h0.8M288.0 1015.7h0.8M277.9 1012.6h0.8M305.4 1023.1h0.8M282.8 1027.0h0.8M276.4 1013.6h0.8M292.2 1033.5h0.8M291.5 1023.1h0.8M310.3 1010.8h0.8M327.4 1014.0h0.8M286.6 1012.3h0.8M271.8 1020.3h0.8M319.4 1015.2h0.8M279.5 1024.0h0.8M274.3 1020.2h0.8M298.2 1006.2h0.8M283.7 1019.9h0.8M280.9 1021.2h0.8M264.2 1018.8h0.8M280.8 1014.5h0.8M304.0 1036.5h0.8M298.0 1015.7h0.8M306.1 1025.6h0.8M276.9 1026.4h0.8M280.1 1026.2h0.8M299.5 1030.4h0.8M273.9 1021.1h0.8M287.6 1013.1h0.8M293.0 1027.0h0.8M269.6 1018.0h0.8M273.2 1012.8h0.8M273.7 1032.0h0.8M278.9 1019.1h0.8M300.4 1029.5h0.8M305.9 1006.9h0.8M297.4 1009.2h0.8M279.3 1019.0h0.8M280.2 1036.3h0.8M285.4 1030.5h0.8M285.2 1021.6h0.8M294.2 1025.2h0.8M294.1 1009.4h0.8M294.2 1024.3h0.8M295.4 1021.6h0.8M292.9 1012.5h0.8M302.3 1013.2h0.8M305.8 1029.4h0.8M286.8 1019.9h0.8M297.7 1019.8h0.8M272.1 1024.0h0.8M271.7 1018.7h0.8M310.9 1027.9h0.8M281.7 1021.5h0.8M279.2 1021.9h0.8M268.7 1027.0h0.8M287.8 1017.5h0.8M279.6 1041.2h0.8M281.8 1018.5h0.8M280.0 1018.4h0.8M304.6 1026.9h0.8M293.0 1024.7h0.8M272.8 1004.4h0.8M307.2 1027.2h0.8M290.4 1024.0h0.8M290.2 1022.2h0.8M284.2 1005.8h0.8M295.0 1022.3h0.8M300.3 1024.2h0.8M283.9 1026.4h0.8M290.0 1018.8h0.8M282.7 1018.9h0.8M283.7 1018.8h0.8M300.3 1043.3h0.8M286.1 1030.2h0.8M261.9 998.4h0.8M281.4 1020.9h0.8M277.9 1012.1h0.8M276.5 1018.3h0.8M289.6 1019.5h0.8M272.0 1019.3h0.8M307.2 1015.6h0.8M288.4 1029.4h0.8M277.1 1017.8h0.8M325.2 1031.0h0.8M280.7 1023.2h0.8M288.9 1023.1h0.8M293.6 1019.8h0.8M258.7 1015.0h0.8M289.5 1012.0h0.8M283.4 1033.0h0.8M290.7 1017.2h0.8M289.4 1029.7h0.8M265.3 1012.9h0.8M279.0 1018.8h0.8M286.4 1017.8h0.8M289.0 1022.6h0.8M272.4 1017.4h0.8M271.5 1024.1h0.8M291.0 1026.8h0.8M276.2 1018.1h0.8M258.7 1022.1h0.8M266.6 1024.5h0.8M301.6 1025.2h0.8M295.7 1023.7h0.8M292.4 1028.8h0.8M304.0 1036.7h0.8M284.1 1028.1h0.8M298.8 1025.1h0.8M291.1 1012.8h0.8M301.7 1015.6h0.8M279.1 1015.8h0.8M294.8 1015.0h0.8M293.5 1026.1h0.8M288.9 1019.5h0.8M295.3 1031.5h0.8" stroke="#8c8c8c" stroke-width="0.85" fill="none" opacity="0.9"/>
</g>
<rect x="258.8" y="981.4" width="79.19999999999999" height="78.39999999999998" fill="none" stroke="#333" stroke-width="1.1"/>
<line x1="288.5" y1="981.4" x2="288.5" y2="1059.8" stroke="#5a5a5a" stroke-width="0.9"/>
<line x1="258.8" y1="1033.3" x2="338" y2="1033.3" stroke="#5a5a5a" stroke-width="0.9"/>
<text x="334.2" y="996.6" font-size="12" font-weight="bold" text-anchor="end" fill="#111">46.5%</text>
<clipPath id="cp3"><rect x="357.5" y="981.9" width="76.30000000000001" height="77.39999999999998"/></clipPath><g clip-path="url(#cp3)">
<path d="M357.0 1048.0 C357.5 1047.2 358.5 1044.3 360.0 1043.0 C361.5 1041.7 361.8 1040.5 366.0 1040.0 C370.2 1039.5 381.0 1039.5 385.0 1040.0 C389.0 1040.5 388.6 1041.5 390.0 1043.0 C391.4 1044.5 392.8 1046.2 393.5 1049.0 C394.2 1051.8 393.9 1058.0 394.0 1059.8 L357 1059.8 Z" fill="#7b7b7b"/>
<path d="M391.0 1042.6h0.9M378.4 1040.9h0.9M390.0 1040.5h0.9M376.2 1039.6h0.9M384.7 1041.2h0.9M357.1 1046.0h0.9M376.1 1040.3h0.9M394.6 1058.4h0.9M384.3 1040.3h0.9M372.0 1040.0h0.9M388.2 1039.1h0.9M394.4 1058.6h0.9M378.5 1039.1h0.9M376.0 1039.6h0.9M393.7 1050.1h0.9M392.8 1052.0h0.9M365.4 1039.8h0.9M389.1 1042.7h0.9M369.3 1037.0h0.9M372.0 1035.1h0.9M393.4 1048.6h0.9M372.9 1039.1h0.9M395.1 1055.4h0.9M379.6 1039.8h0.9M393.1 1052.6h0.9M359.6 1040.3h0.9M375.2 1035.6h0.9M355.9 1045.0h0.9M392.7 1052.1h0.9M394.5 1053.4h0.9M379.8 1036.2h0.9M378.8 1040.1h0.9M394.4 1058.4h0.9M374.4 1038.4h0.9M369.9 1040.2h0.9M359.0 1037.7h0.9M395.0 1055.3h0.9M393.3 1048.7h0.9M381.6 1040.6h0.9M390.2 1045.4h0.9M396.4 1050.1h0.9M389.9 1041.9h0.9M359.0 1041.3h0.9M390.0 1039.7h0.9M393.1 1052.6h0.9M379.1 1039.4h0.9M376.8 1036.9h0.9M388.6 1040.6h0.9M363.9 1040.2h0.9M365.6 1040.1h0.9M389.1 1043.0h0.9M393.3 1059.3h0.9M359.3 1042.3h0.9M388.9 1041.6h0.9M380.5 1037.7h0.9M357.8 1046.3h0.9M360.9 1039.0h0.9M369.4 1040.6h0.9M389.6 1043.6h0.9M361.1 1041.8h0.9M373.1 1040.1h0.9M387.1 1041.1h0.9M393.6 1046.2h0.9M396.1 1059.9h0.9M393.9 1050.9h0.9M363.6 1040.1h0.9M384.0 1038.5h0.9M386.4 1040.7h0.9M383.4 1039.3h0.9M387.3 1038.2h0.9M374.2 1040.4h0.9M365.7 1039.4h0.9M389.7 1041.1h0.9M393.8 1052.7h0.9M391.6 1042.4h0.9M389.7 1040.2h0.9M393.1 1057.8h0.9M366.5 1040.0h0.9M386.6 1037.3h0.9M393.3 1050.7h0.9M388.5 1043.2h0.9M355.5 1047.5h0.9M380.7 1040.0h0.9M394.5 1050.1h0.9M363.6 1039.5h0.9M374.2 1040.3h0.9M392.9 1058.7h0.9M377.7 1040.7h0.9M383.4 1038.6h0.9M386.1 1039.5h0.9M394.3 1051.8h0.9M377.9 1039.9h0.9M393.3 1054.5h0.9M391.9 1043.2h0.9M375.6 1039.9h0.9M387.4 1040.5h0.9M369.8 1038.9h0.9M358.6 1045.4h0.9M380.1 1038.5h0.9M357.9 1046.2h0.9M369.5 1039.5h0.9M393.0 1051.4h0.9M394.4 1058.3h0.9M363.9 1040.7h0.9M362.5 1041.3h0.9M372.9 1038.6h0.9M377.6 1040.3h0.9M361.2 1041.2h0.9M396.6 1048.7h0.9M361.9 1040.0h0.9M383.2 1038.4h0.9M368.2 1041.0h0.9M388.0 1041.4h0.9M359.7 1041.5h0.9M380.4 1040.1h0.9M394.1 1051.7h0.9M355.6 1046.4h0.9M363.7 1040.0h0.9M359.4 1045.2h0.9M392.4 1050.5h0.9M389.2 1043.3h0.9M365.9 1036.4h0.9M393.9 1054.3h0.9M361.6 1039.2h0.9M380.2 1039.4h0.9M391.2 1045.5h0.9M385.4 1041.0h0.9M356.8 1043.6h0.9M357.6 1045.7h0.9M363.3 1040.4h0.9M392.7 1057.2h0.9M394.0 1054.5h0.9M369.2 1038.5h0.9M357.4 1045.7h0.9M387.7 1040.4h0.9M363.9 1040.4h0.9M394.1 1053.4h0.9M393.1 1054.9h0.9M392.8 1047.7h0.9M392.2 1048.0h0.9M392.9 1048.1h0.9M393.4 1050.3h0.9M373.9 1039.2h0.9M391.4 1044.0h0.9M354.5 1045.5h0.9M392.9 1041.9h0.9M377.4 1040.8h0.9M393.0 1058.7h0.9M393.9 1047.1h0.9M378.4 1040.3h0.9M392.2 1043.5h0.9M385.2 1040.7h0.9M386.6 1040.8h0.9M354.6 1046.4h0.9M364.5 1038.4h0.9M367.4 1040.2h0.9M390.1 1044.8h0.9M394.5 1055.1h0.9M386.8 1041.5h0.9M393.8 1046.3h0.9M387.8 1041.5h0.9M361.9 1041.5h0.9M367.4 1038.5h0.9M385.4 1039.6h0.9M391.7 1046.6h0.9M376.1 1040.0h0.9M390.6 1043.3h0.9M371.9 1037.1h0.9M370.4 1040.0h0.9M362.4 1039.8h0.9M376.2 1040.6h0.9M384.5 1039.8h0.9M360.0 1043.7h0.9M393.5 1056.0h0.9M355.7 1046.8h0.9M390.8 1045.7h0.9M372.6 1039.3h0.9M394.6 1056.7h0.9M369.0 1038.0h0.9M357.7 1047.0h0.9M389.7 1043.7h0.9M373.5 1038.3h0.9M394.4 1050.0h0.9M388.7 1042.8h0.9M377.2 1038.7h0.9M391.0 1038.7h0.9M389.7 1043.1h0.9M370.9 1038.3h0.9M363.4 1039.9h0.9M388.4 1042.1h0.9M384.6 1038.6h0.9M357.2 1045.7h0.9M361.6 1041.7h0.9M377.1 1039.3h0.9M358.8 1043.7h0.9M381.8 1038.2h0.9M374.8 1036.1h0.9M368.8 1038.0h0.9M393.0 1046.2h0.9M392.0 1045.9h0.9M358.0 1044.6h0.9M385.7 1040.7h0.9M394.4 1059.2h0.9M387.1 1039.1h0.9M393.8 1058.5h0.9M366.1 1039.8h0.9M365.2 1040.6h0.9M371.3 1039.0h0.9M366.2 1040.3h0.9M361.6 1039.5h0.9M367.4 1039.7h0.9M381.1 1039.6h0.9M393.9 1049.2h0.9M393.8 1046.7h0.9M356.0 1045.4h0.9M391.9 1047.3h0.9M388.6 1040.8h0.9M367.9 1040.9h0.9M356.0 1047.5h0.9M396.9 1051.9h0.9M360.6 1042.6h0.9M367.1 1039.6h0.9M369.4 1039.7h0.9M392.9 1048.2h0.9M396.0 1056.2h0.9M393.6 1055.3h0.9M394.6 1051.7h0.9M396.2 1050.9h0.9M379.2 1040.7h0.9M355.6 1044.5h0.9M365.8 1039.2h0.9M361.0 1042.3h0.9M359.6 1041.9h0.9M360.9 1041.1h0.9M370.5 1039.8h0.9M354.8 1043.9h0.9M369.8 1038.5h0.9M393.2 1051.9h0.9M366.8 1037.9h0.9M381.2 1037.7h0.9M394.8 1051.2h0.9M357.4 1047.2h0.9M392.3 1044.8h0.9M383.0 1038.1h0.9M357.9 1047.3h0.9M395.9 1053.5h0.9M392.8 1049.1h0.9M358.3 1043.0h0.9M393.1 1058.0h0.9M385.4 1039.2h0.9M387.7 1041.4h0.9M363.6 1038.1h0.9M357.1 1046.6h0.9M390.2 1044.0h0.9M391.8 1044.3h0.9M362.9 1041.4h0.9M357.8 1046.2h0.9M384.7 1039.6h0.9M370.5 1039.3h0.9M372.0 1040.3h0.9M393.4 1052.4h0.9M383.8 1039.6h0.9M360.0 1041.8h0.9M391.1 1044.1h0.9M390.4 1045.2h0.9M384.2 1039.6h0.9M393.4 1057.1h0.9M379.7 1040.0h0.9M389.6 1040.6h0.9M358.2 1045.6h0.9M370.0 1036.6h0.9M370.0 1039.5h0.9M377.0 1040.0h0.9M380.8 1040.3h0.9M360.1 1043.3h0.9M393.1 1042.0h0.9M357.1 1044.8h0.9M366.5 1038.5h0.9M384.8 1040.1h0.9M355.6 1045.8h0.9M371.4 1037.3h0.9M395.0 1049.3h0.9M390.3 1045.7h0.9M373.8 1040.7h0.9M362.1 1041.3h0.9M391.8 1046.9h0.9M394.9 1052.2h0.9M358.6 1043.8h0.9M375.9 1040.3h0.9M383.3 1039.5h0.9M389.6 1043.8h0.9M364.1 1040.6h0.9M395.3 1049.5h0.9M386.5 1041.0h0.9M393.9 1048.4h0.9M394.9 1057.1h0.9M393.5 1041.5h0.9M388.9 1042.7h0.9M369.0 1038.8h0.9M367.6 1039.2h0.9M373.9 1039.1h0.9M393.4 1049.7h0.9M387.0 1038.9h0.9M368.0 1038.3h0.9M394.7 1054.0h0.9M381.2 1040.1h0.9M395.8 1058.8h0.9M388.9 1040.7h0.9M393.0 1044.4h0.9M372.2 1039.8h0.9M394.7 1059.2h0.9M379.2 1040.7h0.9M389.2 1042.6h0.9M374.8 1036.9h0.9M381.5 1038.2h0.9M362.5 1041.4h0.9M373.3 1039.3h0.9M376.1 1032.9h0.9M391.8 1045.3h0.9M362.1 1042.1h0.9M362.9 1038.0h0.9M389.0 1040.6h0.9M378.8 1039.0h0.9M396.0 1053.6h0.9M354.2 1045.6h0.9M377.7 1039.8h0.9M392.7 1050.4h0.9M391.6 1046.4h0.9M372.6 1039.8h0.9M381.2 1039.5h0.9M374.6 1037.8h0.9M357.5 1047.8h0.9M358.7 1044.5h0.9M365.8 1038.1h0.9M394.3 1052.2h0.9M363.9 1040.6h0.9M368.5 1036.5h0.9M383.8 1036.4h0.9M389.9 1043.8h0.9M387.8 1042.5h0.9M370.1 1040.6h0.9M372.1 1037.1h0.9M356.8 1046.9h0.9M394.2 1047.2h0.9M373.7 1039.5h0.9M368.7 1040.4h0.9M364.0 1039.0h0.9M380.2 1036.3h0.9M361.8 1041.8h0.9M370.7 1039.1h0.9M359.0 1042.4h0.9M361.6 1037.2h0.9M382.1 1037.7h0.9M371.2 1037.3h0.9M358.8 1042.0h0.9M394.3 1052.8h0.9M358.8 1045.1h0.9M375.3 1040.3h0.9M369.0 1040.3h0.9M355.1 1043.3h0.9M369.2 1039.0h0.9M377.4 1039.9h0.9M389.3 1043.4h0.9M367.0 1039.7h0.9M373.9 1039.9h0.9M393.4 1054.3h0.9M387.6 1042.1h0.9M377.6 1039.1h0.9M363.7 1038.5h0.9M392.5 1048.6h0.9M393.5 1055.8h0.9M366.3 1039.7h0.9M393.0 1051.3h0.9M373.9 1039.1h0.9M379.7 1038.4h0.9M356.0 1046.1h0.9M366.1 1039.1h0.9M365.8 1040.1h0.9M364.6 1040.9h0.9M393.3 1049.8h0.9M393.6 1057.2h0.9M370.1 1038.5h0.9M393.2 1049.1h0.9M369.4 1039.9h0.9M387.3 1035.5h0.9M363.4 1039.6h0.9M392.9 1054.8h0.9M381.2 1039.4h0.9M385.2 1040.3h0.9M392.2 1048.2h0.9M381.7 1040.1h0.9M379.6 1037.8h0.9M390.1 1044.6h0.9M379.0 1039.9h0.9M385.5 1038.9h0.9M369.5 1037.6h0.9M361.7 1041.0h0.9M365.0 1040.1h0.9M393.1 1058.3h0.9M386.5 1038.7h0.9M356.2 1046.7h0.9M363.5 1040.0h0.9M384.8 1040.0h0.9M380.8 1038.2h0.9M395.9 1058.9h0.9M396.0 1054.4h0.9M357.4 1044.1h0.9M392.9 1048.7h0.9M394.8 1059.1h0.9M391.0 1046.5h0.9M393.1 1057.3h0.9M373.6 1036.4h0.9M387.8 1040.7h0.9M392.1 1042.4h0.9M393.2 1048.4h0.9M391.4 1044.8h0.9M395.5 1049.4h0.9M372.1 1037.1h0.9M392.4 1048.5h0.9M387.3 1038.6h0.9M394.9 1057.9h0.9M370.8 1039.5h0.9M387.9 1039.6h0.9M395.5 1052.4h0.9M392.4 1046.9h0.9M390.4 1043.2h0.9M360.9 1041.3h0.9M361.3 1039.7h0.9M370.7 1038.6h0.9M389.5 1040.8h0.9M356.5 1045.5h0.9M388.2 1042.7h0.9M359.5 1042.2h0.9M363.3 1038.6h0.9M368.4 1039.6h0.9M382.8 1038.0h0.9M392.1 1044.7h0.9M396.3 1057.0h0.9M366.0 1038.9h0.9M355.6 1042.5h0.9M394.0 1052.0h0.9M385.9 1040.3h0.9M394.2 1055.6h0.9M390.4 1045.0h0.9M358.8 1038.5h0.9M373.0 1039.5h0.9M363.7 1038.2h0.9M377.6 1040.3h0.9M369.0 1038.3h0.9M394.5 1052.0h0.9M396.2 1054.1h0.9M363.7 1041.4h0.9M394.0 1059.7h0.9M397.0 1057.3h0.9M374.4 1040.1h0.9M394.1 1053.1h0.9M395.3 1056.8h0.9M391.0 1045.6h0.9M373.0 1039.9h0.9M387.9 1040.9h0.9M394.3 1046.0h0.9M371.8 1040.5h0.9M378.9 1039.0h0.9M358.6 1044.1h0.9M361.3 1041.1h0.9M392.3 1048.9h0.9M370.1 1038.1h0.9M390.6 1043.2h0.9M376.7 1040.3h0.9M390.3 1044.6h0.9M368.6 1039.6h0.9M359.4 1044.4h0.9M389.6 1041.3h0.9M367.0 1040.0h0.9M364.0 1040.5h0.9M379.0 1038.7h0.9M380.6 1037.6h0.9M392.5 1054.0h0.9M390.4 1043.8h0.9M377.5 1038.3h0.9M377.7 1040.5h0.9M386.1 1039.3h0.9M361.1 1042.3h0.9M369.7 1037.5h0.9M386.4 1040.5h0.9M394.9 1056.1h0.9M386.6 1040.5h0.9M364.5 1040.1h0.9M393.1 1058.2h0.9M395.0 1047.6h0.9M364.3 1038.8h0.9M373.0 1040.0h0.9M356.8 1045.7h0.9M394.2 1045.4h0.9M365.7 1040.9h0.9M392.9 1050.6h0.9M390.4 1044.5h0.9M393.9 1046.1h0.9M384.6 1039.1h0.9M366.3 1038.2h0.9M356.4 1046.3h0.9M388.0 1036.8h0.9M357.1 1047.6h0.9M381.8 1037.8h0.9M392.5 1047.7h0.9M361.5 1042.1h0.9M376.8 1040.2h0.9M382.8 1037.7h0.9M361.7 1041.8h0.9M363.3 1039.1h0.9M386.8 1040.1h0.9M363.2 1041.7h0.9M362.4 1042.0h0.9M364.6 1039.3h0.9M395.5 1056.4h0.9M394.6 1053.8h0.9M358.9 1040.5h0.9M385.4 1038.3h0.9M375.9 1035.9h0.9M358.0 1047.0h0.9M367.1 1040.4h0.9M387.6 1042.5h0.9M357.2 1047.3h0.9M392.7 1057.2h0.9M368.8 1040.2h0.9M372.6 1038.7h0.9M393.1 1056.6h0.9M360.1 1040.0h0.9M361.0 1042.7h0.9M379.0 1038.7h0.9M370.0 1040.1h0.9M370.3 1040.8h0.9M384.4 1040.9h0.9M393.6 1056.8h0.9M376.0 1039.4h0.9M357.0 1045.6h0.9M373.7 1040.6h0.9M393.1 1051.6h0.9M377.0 1039.6h0.9M356.6 1044.2h0.9M366.9 1038.4h0.9M364.4 1037.3h0.9M372.3 1040.3h0.9M370.8 1038.8h0.9M389.1 1042.9h0.9M392.4 1043.6h0.9M356.1 1044.9h0.9M360.7 1040.3h0.9M396.5 1049.7h0.9M392.7 1053.1h0.9M392.7 1048.7h0.9M361.5 1039.0h0.9M390.1 1043.9h0.9M357.8 1044.0h0.9M390.2 1041.4h0.9M364.6 1038.9h0.9M393.8 1050.9h0.9M393.2 1050.7h0.9M378.7 1040.5h0.9M394.2 1043.2h0.9M393.1 1056.8h0.9M397.1 1054.0h0.9M387.7 1042.5h0.9M386.7 1040.3h0.9M372.5 1038.2h0.9M390.6 1042.3h0.9M361.3 1042.2h0.9M378.1 1036.9h0.9M358.8 1043.3h0.9M359.6 1043.8h0.9M389.4 1043.1h0.9M376.8 1038.6h0.9M364.5 1039.8h0.9M395.1 1056.9h0.9M369.2 1038.7h0.9M383.1 1040.1h0.9M380.3 1039.5h0.9M362.7 1038.4h0.9M393.5 1059.7h0.9M391.8 1046.8h0.9M395.2 1053.8h0.9M369.6 1040.2h0.9M393.7 1055.2h0.9M393.3 1054.9h0.9M393.3 1056.1h0.9M363.3 1040.7h0.9M361.8 1042.0h0.9M357.4 1042.9h0.9M359.0 1043.3h0.9M392.2 1043.3h0.9M357.9 1045.6h0.9M378.2 1040.0h0.9M372.6 1039.9h0.9M391.2 1045.2h0.9M358.0 1046.4h0.9M392.1 1043.9h0.9M393.1 1057.8h0.9M369.8 1039.4h0.9M375.6 1040.6h0.9M394.2 1044.8h0.9M370.2 1039.6h0.9M393.7 1051.7h0.9M393.6 1059.4h0.9M364.0 1038.2h0.9M378.6 1039.5h0.9M361.4 1041.9h0.9M383.7 1039.6h0.9M375.1 1040.5h0.9M394.6 1058.5h0.9M390.9 1045.1h0.9M396.5 1059.7h0.9M394.3 1049.7h0.9M396.9 1050.1h0.9M374.5 1035.2h0.9M389.0 1042.9h0.9M360.2 1043.0h0.9M372.1 1039.8h0.9M394.0 1055.5h0.9M395.0 1058.6h0.9M362.5 1040.9h0.9" stroke="#7b7b7b" stroke-width="0.9" fill="none" opacity="0.85"/>
<path d="M374.2 1016.9h0.8M370.7 1016.8h0.8M372.2 1024.7h0.8M374.4 1027.5h0.8M374.9 1017.4h0.8M370.9 1023.6h0.8M371.2 1014.5h0.8M377.3 1033.5h0.8M370.7 1008.2h0.8M376.7 1020.1h0.8M378.1 1015.8h0.8M372.3 1024.9h0.8M365.7 1019.4h0.8M372.2 1024.2h0.8M371.8 1008.1h0.8M362.5 1022.8h0.8M375.9 1013.4h0.8M371.9 1025.6h0.8M367.3 1013.2h0.8M371.4 1018.8h0.8M370.2 1020.0h0.8M370.1 1022.5h0.8M368.8 1020.8h0.8M368.6 1016.7h0.8M371.7 1016.9h0.8M372.3 1020.9h0.8M374.2 1023.9h0.8M363.8 1020.8h0.8M372.8 1021.5h0.8M370.7 1026.3h0.8M372.8 1014.3h0.8M370.9 1025.9h0.8M371.1 1014.7h0.8M373.2 1024.0h0.8M374.4 1021.8h0.8M370.9 1025.2h0.8M366.8 1029.5h0.8M371.9 1022.1h0.8M373.1 1024.9h0.8M363.1 1025.6h0.8M370.2 1017.1h0.8M373.6 1025.6h0.8M371.8 1017.9h0.8M370.9 1016.3h0.8M379.0 1017.7h0.8M373.5 1029.0h0.8M367.7 1018.3h0.8M363.0 1019.8h0.8M366.1 1021.8h0.8M369.8 1021.0h0.8M370.7 1018.7h0.8M370.9 1020.6h0.8M368.1 1019.4h0.8M368.6 1014.6h0.8M370.4 1011.7h0.8M372.3 1020.8h0.8M371.1 1026.7h0.8M373.7 1018.8h0.8M371.7 1026.9h0.8M370.0 1022.9h0.8M371.9 1015.8h0.8M371.5 1019.0h0.8M369.7 1023.1h0.8M372.7 1016.5h0.8M369.7 1020.0h0.8M367.3 1022.8h0.8M369.8 1017.5h0.8M373.7 1020.6h0.8M366.6 1020.5h0.8M369.9 1022.4h0.8M378.1 1023.7h0.8M375.4 1020.1h0.8M372.1 1023.4h0.8M370.2 1022.2h0.8M369.0 1024.4h0.8M367.5 1029.5h0.8M358.1 1014.1h0.8M370.1 1022.8h0.8M371.0 1013.0h0.8M372.0 1016.6h0.8M371.2 1018.9h0.8M369.6 1013.4h0.8M366.1 1018.2h0.8M367.0 1022.2h0.8M365.8 1022.1h0.8M372.4 1017.3h0.8M367.3 1019.3h0.8M373.2 1027.9h0.8M377.8 1021.4h0.8M372.6 1021.9h0.8M370.5 1015.7h0.8M369.3 1026.5h0.8M375.2 1018.0h0.8M365.1 1030.3h0.8M370.6 1023.2h0.8M369.9 1012.0h0.8M371.6 1016.2h0.8M369.6 1017.9h0.8M369.6 1032.9h0.8M375.6 1011.3h0.8M365.4 1018.5h0.8M368.3 1024.8h0.8M375.8 1017.4h0.8M372.4 1019.9h0.8M363.9 1026.8h0.8M376.4 1016.9h0.8M372.6 1018.4h0.8M370.2 1018.7h0.8M370.1 1021.2h0.8M368.5 1022.3h0.8M366.2 1025.0h0.8M367.3 1011.8h0.8M373.3 1019.3h0.8M368.7 1025.5h0.8M370.4 1030.6h0.8M372.0 1013.9h0.8M368.8 1017.7h0.8M369.6 1029.3h0.8M379.6 1029.5h0.8M372.0 1023.7h0.8M371.1 1010.0h0.8M375.2 1030.8h0.8M368.8 1020.8h0.8M368.1 1020.0h0.8M367.6 1015.4h0.8M374.6 1011.3h0.8M374.0 1015.3h0.8M369.7 1011.0h0.8M372.7 1016.0h0.8M378.9 1016.4h0.8M371.4 1024.3h0.8M367.3 1016.9h0.8M366.9 1023.7h0.8M371.5 1026.0h0.8M365.7 1016.4h0.8M370.1 1018.8h0.8M371.6 1026.6h0.8M371.0 1017.0h0.8M370.4 1017.4h0.8M368.3 1030.2h0.8M372.8 1030.0h0.8M369.8 1020.6h0.8M366.3 1022.2h0.8M373.0 1024.4h0.8M366.6 1021.5h0.8M373.6 1018.7h0.8M372.9 1018.5h0.8M370.5 1018.1h0.8M365.6 1016.8h0.8M371.1 1019.6h0.8M370.5 1018.1h0.8M373.5 1020.1h0.8M371.8 1018.6h0.8M374.9 1020.5h0.8M372.0 1031.9h0.8M372.0 1013.2h0.8M368.3 1022.6h0.8M366.1 1013.7h0.8M370.1 1013.1h0.8M374.2 1023.1h0.8M376.1 1036.3h0.8M375.5 1007.8h0.8M377.9 1022.2h0.8M376.2 1034.3h0.8M376.3 1029.6h0.8M376.9 1035.7h0.8M377.4 1016.3h0.8M378.9 1017.7h0.8M379.2 1006.8h0.8M376.6 995.3h0.8M377.4 1037.9h0.8M376.0 1027.6h0.8M376.2 1039.1h0.8M377.1 1026.2h0.8M378.2 1003.8h0.8M377.6 1023.6h0.8M378.5 1022.3h0.8M377.5 1021.3h0.8M375.1 1016.0h0.8M376.3 1006.1h0.8M376.5 1016.3h0.8M379.4 1019.1h0.8M376.8 1023.1h0.8M377.6 1002.8h0.8M373.9 1040.8h0.8M375.3 1011.4h0.8M378.4 1025.5h0.8M375.3 1030.8h0.8M374.8 1041.3h0.8M376.1 1026.0h0.8M376.6 1044.8h0.8M375.1 1020.8h0.8M379.8 997.7h0.8M375.8 1025.3h0.8M376.2 1027.3h0.8M378.3 1008.5h0.8M375.6 1037.6h0.8M379.6 990.2h0.8M377.4 1033.8h0.8M375.5 1011.6h0.8M374.8 1019.6h0.8M374.8 1030.4h0.8M375.5 1028.2h0.8M374.2 1032.5h0.8M377.6 1033.2h0.8M377.0 1049.3h0.8M378.1 1022.6h0.8M379.0 1017.7h0.8M376.8 1041.5h0.8M375.9 1021.9h0.8M377.0 1024.2h0.8M376.2 1034.0h0.8M379.9 1017.4h0.8M374.3 1016.5h0.8M374.5 1006.9h0.8M364.6 1035.5h0.8M372.6 1032.3h0.8M370.8 1035.1h0.8M368.8 1037.6h0.8M377.5 1028.0h0.8M361.7 1016.2h0.8M373.3 1016.7h0.8M370.4 1024.6h0.8M380.8 1019.9h0.8M372.5 1021.9h0.8M366.5 1029.9h0.8M378.1 1013.3h0.8M381.6 1045.9h0.8M372.6 1030.6h0.8M364.6 1022.4h0.8M373.6 1025.2h0.8M380.8 1018.2h0.8M369.9 1030.7h0.8M371.1 1023.8h0.8M370.8 1029.6h0.8M358.7 1049.1h0.8M376.6 1016.6h0.8M365.5 1015.9h0.8M374.5 1009.5h0.8M388.0 1021.1h0.8M362.2 1044.4h0.8M371.6 1030.4h0.8M370.3 1023.7h0.8M385.4 1008.5h0.8M373.3 1019.4h0.8M369.3 1025.5h0.8M359.3 1031.5h0.8M372.9 1031.0h0.8M367.6 1032.6h0.8M368.5 1032.9h0.8M380.6 1031.6h0.8M362.0 1026.7h0.8M364.7 1043.3h0.8M372.9 1014.7h0.8M361.4 1037.8h0.8" stroke="#8c8c8c" stroke-width="0.85" fill="none" opacity="0.9"/>
</g>
<rect x="357" y="981.4" width="77.30000000000001" height="78.39999999999998" fill="none" stroke="#333" stroke-width="1.1"/>
<line x1="377.3" y1="981.4" x2="377.3" y2="1059.8" stroke="#5a5a5a" stroke-width="0.9"/>
<line x1="357" y1="1033.3" x2="434.3" y2="1033.3" stroke="#5a5a5a" stroke-width="0.9"/>
<text x="430.5" y="996.6" font-size="12" font-weight="bold" text-anchor="end" fill="#111">34.4%</text>
<clipPath id="cp4"><rect x="63.7" y="1068.2" width="77.10000000000001" height="76.09999999999991"/></clipPath><g clip-path="url(#cp4)">
<path d="M63.2 1122.0 C63.8 1121.6 62.2 1120.0 67.0 1119.5 C71.8 1119.0 86.9 1118.8 92.0 1119.0 C97.1 1119.2 96.0 1119.8 97.5 1121.0 C99.0 1122.2 100.2 1123.8 101.0 1126.0 C101.8 1128.2 102.2 1130.9 102.5 1134.0 C102.8 1137.1 102.5 1143.0 102.5 1144.8 L63.2 1144.8 Z" fill="#7b7b7b"/>
<path d="M88.5 1117.0h0.9M87.3 1118.8h0.9M96.4 1120.5h0.9M65.4 1119.7h0.9M92.9 1118.0h0.9M66.7 1117.4h0.9M103.5 1140.0h0.9M103.4 1131.5h0.9M69.7 1119.8h0.9M74.6 1119.2h0.9M101.1 1124.2h0.9M94.4 1119.0h0.9M86.7 1119.5h0.9M86.6 1118.0h0.9M75.9 1119.2h0.9M87.1 1117.4h0.9M65.1 1120.7h0.9M66.2 1119.6h0.9M76.6 1119.2h0.9M63.7 1120.8h0.9M76.0 1118.3h0.9M74.1 1119.2h0.9M83.0 1118.7h0.9M96.9 1121.1h0.9M104.5 1144.5h0.9M102.5 1127.2h0.9M102.4 1134.4h0.9M95.9 1120.4h0.9M101.2 1130.0h0.9M98.1 1123.6h0.9M62.7 1120.4h0.9M84.6 1119.4h0.9M70.4 1120.0h0.9M100.8 1126.0h0.9M83.9 1116.5h0.9M88.3 1118.7h0.9M71.2 1117.1h0.9M102.4 1142.6h0.9M78.6 1119.4h0.9M70.3 1119.4h0.9M84.9 1118.5h0.9M81.0 1119.7h0.9M73.7 1118.9h0.9M100.3 1126.4h0.9M87.8 1119.8h0.9M62.7 1121.1h0.9M102.1 1141.7h0.9M69.7 1115.7h0.9M103.0 1136.4h0.9M103.3 1144.5h0.9M96.3 1117.1h0.9M103.1 1130.7h0.9M62.5 1121.6h0.9M73.9 1118.7h0.9M102.2 1131.8h0.9M101.4 1126.5h0.9M69.6 1119.2h0.9M77.9 1115.9h0.9M66.3 1117.0h0.9M103.0 1132.4h0.9M99.1 1123.7h0.9M83.3 1117.3h0.9M96.2 1120.6h0.9M92.4 1119.8h0.9M78.1 1118.8h0.9M94.3 1119.1h0.9M63.0 1121.6h0.9M102.3 1127.9h0.9M103.9 1141.8h0.9M71.5 1119.2h0.9M88.0 1115.9h0.9M98.0 1120.9h0.9M100.1 1126.2h0.9M102.0 1131.3h0.9M81.8 1118.5h0.9M103.1 1129.8h0.9M83.4 1117.2h0.9M102.2 1131.7h0.9M92.6 1119.1h0.9M97.0 1119.1h0.9M101.5 1138.5h0.9M73.0 1119.4h0.9M92.5 1116.4h0.9M83.0 1114.6h0.9M64.8 1118.3h0.9M102.7 1131.2h0.9M73.5 1117.6h0.9M72.4 1118.3h0.9M70.5 1119.0h0.9M101.9 1131.1h0.9M102.3 1126.7h0.9M81.5 1114.9h0.9M91.3 1114.9h0.9M83.9 1119.7h0.9M91.9 1118.7h0.9M63.1 1117.9h0.9M79.3 1120.0h0.9M104.6 1142.6h0.9M81.3 1117.0h0.9M100.9 1126.3h0.9M97.7 1123.2h0.9M89.9 1118.5h0.9M98.6 1122.0h0.9M102.8 1126.1h0.9M96.1 1120.9h0.9M103.5 1132.1h0.9M80.6 1119.0h0.9M75.8 1117.6h0.9M89.8 1116.8h0.9M101.7 1132.0h0.9M91.9 1119.7h0.9M61.6 1119.9h0.9M89.9 1116.3h0.9M106.3 1138.2h0.9M72.2 1120.2h0.9M96.4 1120.3h0.9M79.0 1119.4h0.9M95.5 1117.0h0.9M101.4 1130.1h0.9M81.7 1116.5h0.9M72.4 1119.1h0.9M89.2 1119.1h0.9M102.5 1143.3h0.9M63.1 1119.6h0.9M80.1 1119.4h0.9M75.3 1117.8h0.9M90.4 1119.1h0.9M101.5 1131.8h0.9M95.6 1120.7h0.9M99.6 1119.3h0.9M75.6 1119.6h0.9M94.4 1119.6h0.9M101.6 1129.5h0.9M82.1 1118.2h0.9M63.3 1121.0h0.9M103.7 1143.2h0.9M92.9 1119.1h0.9M102.8 1142.6h0.9M100.1 1120.2h0.9M82.3 1119.6h0.9M72.4 1115.6h0.9M102.0 1140.6h0.9M100.9 1130.5h0.9M96.8 1119.3h0.9M62.8 1119.8h0.9M79.9 1119.3h0.9M87.6 1117.8h0.9M67.3 1119.3h0.9M90.2 1119.3h0.9M90.8 1119.2h0.9M74.0 1118.7h0.9M93.5 1120.2h0.9M102.1 1141.9h0.9M102.8 1137.4h0.9M103.0 1133.9h0.9M80.8 1115.9h0.9M76.5 1119.7h0.9M90.7 1114.8h0.9M102.3 1141.2h0.9M75.1 1118.3h0.9M66.6 1120.0h0.9M102.2 1135.3h0.9M62.5 1119.7h0.9M92.6 1118.4h0.9M101.7 1143.8h0.9M96.1 1121.3h0.9M62.6 1120.6h0.9M80.7 1118.5h0.9M101.7 1129.8h0.9M100.5 1125.6h0.9M67.2 1119.1h0.9M90.1 1116.2h0.9M91.3 1118.0h0.9M71.9 1118.1h0.9M69.9 1117.4h0.9M80.4 1119.3h0.9M86.6 1117.4h0.9M104.7 1141.7h0.9M81.5 1117.6h0.9M103.3 1138.3h0.9M62.9 1120.1h0.9M90.7 1117.8h0.9M70.8 1116.3h0.9M64.0 1116.7h0.9M79.2 1118.6h0.9M101.6 1126.4h0.9M98.7 1121.6h0.9M79.0 1116.8h0.9M103.6 1128.2h0.9M101.9 1127.1h0.9M102.6 1136.4h0.9M100.2 1126.3h0.9M67.6 1119.0h0.9M104.3 1131.6h0.9M101.3 1142.1h0.9M103.8 1137.4h0.9M99.5 1124.2h0.9M69.9 1119.7h0.9M103.6 1136.5h0.9M92.8 1117.6h0.9M102.6 1128.4h0.9M102.1 1140.4h0.9M74.6 1119.1h0.9M60.8 1116.8h0.9M101.7 1140.8h0.9M105.1 1138.2h0.9M66.7 1119.1h0.9M89.5 1119.1h0.9M101.8 1136.1h0.9M97.8 1122.0h0.9M92.9 1120.0h0.9M103.9 1145.0h0.9M63.4 1120.6h0.9M84.5 1119.7h0.9M71.5 1120.2h0.9M101.8 1142.3h0.9M97.3 1119.9h0.9M77.6 1116.1h0.9M105.5 1136.7h0.9M101.8 1140.0h0.9M91.6 1119.1h0.9M104.8 1141.7h0.9M74.7 1119.0h0.9M100.0 1126.3h0.9M101.9 1144.5h0.9M75.7 1118.9h0.9M100.8 1126.5h0.9M104.5 1134.9h0.9M102.4 1137.0h0.9M78.6 1116.7h0.9M84.9 1118.6h0.9M69.3 1119.3h0.9M92.4 1118.4h0.9M102.8 1136.6h0.9M79.8 1118.3h0.9M103.7 1137.5h0.9M78.1 1115.7h0.9M90.2 1118.6h0.9M100.2 1124.4h0.9M101.4 1133.0h0.9M103.9 1141.7h0.9M83.8 1117.6h0.9M85.9 1119.0h0.9M102.4 1130.0h0.9M101.5 1132.5h0.9M101.4 1132.0h0.9M78.6 1119.2h0.9M101.8 1136.9h0.9M103.7 1130.2h0.9M98.2 1120.9h0.9M81.8 1117.2h0.9M106.5 1126.9h0.9M66.6 1120.3h0.9M101.2 1129.6h0.9M87.7 1119.1h0.9M103.7 1129.7h0.9M97.6 1121.0h0.9M84.1 1118.7h0.9M81.0 1117.4h0.9M92.1 1118.7h0.9M70.0 1118.4h0.9M77.2 1118.1h0.9M101.7 1121.6h0.9M73.9 1120.2h0.9M102.4 1139.5h0.9M93.6 1119.7h0.9M80.9 1119.1h0.9M73.0 1119.7h0.9M79.1 1118.2h0.9M86.4 1119.0h0.9M69.9 1117.5h0.9M80.7 1115.8h0.9M104.1 1142.6h0.9M102.8 1141.1h0.9M101.5 1139.9h0.9M101.8 1142.0h0.9M100.0 1127.0h0.9M104.2 1142.9h0.9M101.2 1122.6h0.9M86.3 1116.8h0.9M71.9 1117.2h0.9M104.0 1121.5h0.9M103.3 1143.0h0.9M102.8 1141.3h0.9M102.2 1143.5h0.9M89.2 1119.4h0.9M103.4 1123.8h0.9M102.0 1145.0h0.9M101.7 1127.5h0.9M102.2 1136.4h0.9M101.8 1136.9h0.9M97.7 1115.5h0.9M102.1 1137.2h0.9M83.4 1118.8h0.9M101.5 1134.7h0.9M87.9 1117.7h0.9M74.5 1118.8h0.9M101.6 1134.5h0.9M103.6 1132.2h0.9M100.7 1122.1h0.9M90.5 1119.6h0.9M77.8 1119.1h0.9M101.3 1135.5h0.9M100.4 1124.6h0.9M101.2 1124.1h0.9M101.7 1134.2h0.9M63.7 1120.7h0.9M102.2 1131.9h0.9M103.5 1136.4h0.9M70.8 1119.1h0.9M65.4 1120.5h0.9M103.9 1137.0h0.9M77.8 1118.4h0.9M95.1 1117.8h0.9M102.0 1140.3h0.9M73.9 1119.4h0.9M92.0 1118.1h0.9M64.5 1118.2h0.9M103.1 1136.7h0.9M102.5 1136.3h0.9M87.9 1119.1h0.9M102.6 1131.7h0.9M71.0 1114.9h0.9M102.2 1133.1h0.9M101.9 1133.3h0.9M100.8 1128.2h0.9M62.7 1119.1h0.9M79.9 1120.1h0.9M99.8 1124.8h0.9M101.4 1134.8h0.9M91.8 1118.8h0.9M101.2 1125.7h0.9M90.0 1117.4h0.9M98.0 1118.5h0.9M79.7 1119.2h0.9M73.6 1117.0h0.9M102.4 1136.7h0.9M95.7 1119.7h0.9M81.6 1117.5h0.9M79.8 1119.3h0.9M81.9 1119.9h0.9M93.8 1118.2h0.9M71.4 1117.9h0.9M89.2 1118.0h0.9M83.5 1116.6h0.9M85.4 1120.0h0.9M84.4 1119.3h0.9M64.6 1119.9h0.9M102.9 1137.4h0.9M80.4 1118.8h0.9M102.7 1129.6h0.9M103.6 1141.4h0.9M84.5 1116.0h0.9M82.7 1117.6h0.9M100.6 1125.3h0.9M103.4 1141.1h0.9M95.6 1116.6h0.9M99.6 1124.3h0.9M68.8 1119.0h0.9M80.9 1116.9h0.9M89.2 1118.8h0.9M99.2 1125.2h0.9M85.3 1116.9h0.9M100.6 1128.9h0.9M102.2 1134.7h0.9M77.1 1118.0h0.9M94.7 1118.4h0.9M68.3 1119.3h0.9M80.9 1119.4h0.9M97.1 1119.5h0.9M103.5 1134.0h0.9M73.3 1119.5h0.9M101.9 1132.6h0.9M101.5 1124.1h0.9M103.1 1134.3h0.9M66.2 1119.3h0.9M93.1 1118.4h0.9M70.4 1118.8h0.9M101.5 1131.6h0.9M100.3 1125.0h0.9M76.4 1119.1h0.9M103.5 1144.0h0.9M102.4 1138.5h0.9M85.3 1118.3h0.9M74.8 1117.6h0.9M103.5 1130.8h0.9M82.6 1119.1h0.9M101.4 1136.3h0.9M79.3 1119.7h0.9M102.1 1135.4h0.9M83.7 1117.7h0.9M97.5 1120.7h0.9M80.7 1117.8h0.9M98.1 1122.2h0.9M65.6 1119.7h0.9M83.4 1115.9h0.9M83.7 1115.6h0.9M97.9 1120.6h0.9M102.9 1132.2h0.9M92.0 1117.6h0.9M103.0 1141.9h0.9M71.4 1119.7h0.9M102.1 1128.8h0.9M86.1 1117.2h0.9M75.0 1118.6h0.9M82.4 1117.6h0.9M84.7 1118.4h0.9M91.3 1118.3h0.9M92.9 1114.9h0.9M102.1 1132.4h0.9M101.3 1132.3h0.9M86.3 1115.9h0.9M103.5 1130.4h0.9M98.3 1120.8h0.9M64.5 1121.4h0.9M101.5 1134.7h0.9M103.7 1138.1h0.9M101.5 1122.0h0.9M93.9 1117.0h0.9M103.2 1139.7h0.9M102.7 1143.7h0.9M96.8 1120.9h0.9M63.7 1117.0h0.9M93.4 1118.6h0.9M74.0 1119.3h0.9M89.9 1119.2h0.9M99.3 1120.1h0.9M75.3 1119.3h0.9M65.7 1118.5h0.9M92.0 1118.8h0.9M100.5 1125.7h0.9M93.8 1119.7h0.9M106.5 1132.7h0.9M103.5 1145.0h0.9M103.7 1143.6h0.9M81.9 1118.3h0.9M89.4 1119.2h0.9M96.3 1121.2h0.9M74.9 1118.7h0.9M102.9 1140.7h0.9M102.6 1130.9h0.9M104.5 1142.4h0.9M85.4 1116.8h0.9M93.5 1116.9h0.9M93.5 1119.0h0.9M68.3 1119.8h0.9M77.8 1119.5h0.9M100.8 1123.4h0.9M104.8 1140.4h0.9M64.9 1118.5h0.9M82.1 1116.9h0.9M93.3 1117.6h0.9M87.0 1118.6h0.9M77.8 1118.6h0.9M72.3 1119.0h0.9M80.7 1118.9h0.9M64.3 1118.5h0.9M78.7 1118.5h0.9M64.3 1117.7h0.9M101.4 1137.1h0.9M98.6 1124.5h0.9M92.6 1117.5h0.9M81.0 1117.4h0.9M100.9 1124.9h0.9M82.7 1118.0h0.9M102.5 1135.5h0.9M102.9 1135.4h0.9M75.9 1118.8h0.9M93.6 1119.6h0.9M84.1 1119.8h0.9M102.3 1144.0h0.9M76.1 1115.7h0.9M63.9 1120.4h0.9M75.1 1119.9h0.9M105.1 1141.2h0.9M101.7 1120.2h0.9M100.9 1128.4h0.9M92.0 1119.4h0.9M101.0 1126.7h0.9M87.6 1116.3h0.9M93.9 1118.6h0.9M99.6 1124.1h0.9M101.3 1132.8h0.9M102.5 1141.5h0.9M99.0 1123.3h0.9M102.6 1134.1h0.9M71.6 1119.8h0.9M74.3 1119.7h0.9M104.5 1139.3h0.9M64.1 1116.7h0.9M89.6 1119.0h0.9M76.9 1117.8h0.9M95.4 1118.7h0.9M80.7 1118.5h0.9M103.2 1139.4h0.9M68.0 1118.3h0.9M102.5 1134.7h0.9M101.6 1141.8h0.9M86.6 1118.5h0.9M103.4 1132.7h0.9M99.4 1122.2h0.9M75.2 1118.5h0.9M92.8 1119.9h0.9M70.0 1118.7h0.9M80.6 1119.8h0.9M65.7 1118.9h0.9M72.7 1118.9h0.9M101.9 1138.2h0.9M92.3 1119.0h0.9M103.3 1137.0h0.9M89.7 1118.4h0.9M80.5 1116.8h0.9M91.6 1119.0h0.9M84.1 1116.7h0.9M102.8 1143.4h0.9M64.7 1120.6h0.9M74.1 1116.0h0.9M75.6 1119.5h0.9M93.7 1117.0h0.9M85.4 1117.4h0.9M69.3 1118.9h0.9M98.2 1121.4h0.9M103.2 1137.7h0.9M95.1 1119.4h0.9M82.2 1119.2h0.9M92.5 1117.5h0.9M76.8 1118.3h0.9M65.2 1120.2h0.9M80.3 1119.6h0.9M85.5 1118.6h0.9M103.2 1130.7h0.9M87.0 1118.5h0.9M102.8 1137.1h0.9M69.5 1119.6h0.9M81.0 1119.7h0.9M72.5 1118.4h0.9M102.0 1132.1h0.9M72.1 1120.1h0.9M96.4 1119.6h0.9M92.2 1119.2h0.9M104.7 1128.3h0.9M93.7 1119.3h0.9M79.4 1119.1h0.9M101.7 1141.3h0.9M91.5 1117.5h0.9M72.2 1115.4h0.9M95.7 1118.1h0.9M92.9 1119.4h0.9M68.0 1117.1h0.9M65.0 1120.5h0.9M93.0 1117.1h0.9M100.7 1127.9h0.9M83.9 1119.2h0.9M101.0 1122.8h0.9M77.8 1118.6h0.9M100.6 1128.2h0.9M102.2 1132.4h0.9M94.7 1119.3h0.9M104.4 1139.5h0.9M86.3 1119.4h0.9M84.5 1118.1h0.9M62.6 1120.1h0.9M84.5 1117.7h0.9M103.3 1130.7h0.9M104.2 1131.1h0.9M88.1 1117.8h0.9M89.2 1116.7h0.9M98.8 1121.4h0.9M65.4 1120.1h0.9M93.4 1118.4h0.9M102.8 1136.0h0.9M70.1 1117.9h0.9M66.3 1119.4h0.9M92.5 1119.0h0.9M99.7 1120.7h0.9M84.8 1119.8h0.9M86.7 1116.6h0.9M101.8 1140.5h0.9M103.9 1144.0h0.9M102.2 1143.5h0.9M72.3 1119.5h0.9M81.0 1119.1h0.9M78.2 1119.3h0.9M104.1 1138.8h0.9M97.9 1123.2h0.9M96.0 1117.6h0.9M67.3 1120.4h0.9M102.1 1132.3h0.9M103.0 1143.1h0.9M76.1 1116.1h0.9M80.0 1114.4h0.9M62.1 1119.5h0.9M103.4 1134.9h0.9M76.0 1120.1h0.9M71.9 1120.4h0.9M103.7 1137.3h0.9M100.4 1125.1h0.9M88.3 1116.7h0.9M76.9 1119.5h0.9M102.2 1142.4h0.9M83.1 1117.6h0.9M102.8 1128.3h0.9M98.2 1123.7h0.9M85.0 1116.7h0.9M102.8 1143.6h0.9M87.5 1118.6h0.9M77.3 1118.2h0.9M75.6 1120.0h0.9M64.9 1120.7h0.9M88.7 1115.8h0.9M102.3 1140.2h0.9M101.1 1128.3h0.9M83.4 1118.2h0.9M80.7 1117.2h0.9M102.7 1132.7h0.9M102.5 1134.4h0.9M81.2 1117.9h0.9M76.8 1118.7h0.9M78.1 1117.0h0.9M101.2 1133.8h0.9" stroke="#7b7b7b" stroke-width="0.9" fill="none" opacity="0.85"/>
<path d="M92.7 1105.6h0.8M91.8 1109.5h0.8M91.2 1101.9h0.8M90.7 1096.2h0.8M95.8 1101.4h0.8M95.1 1089.3h0.8M89.3 1094.7h0.8M97.8 1111.0h0.8M98.7 1098.3h0.8M94.3 1104.7h0.8M91.9 1106.5h0.8M92.5 1105.6h0.8M87.7 1093.6h0.8M89.9 1115.1h0.8M95.0 1094.2h0.8M94.0 1097.4h0.8M89.5 1094.6h0.8M100.8 1102.6h0.8M92.4 1111.6h0.8M93.4 1093.2h0.8M98.5 1119.2h0.8M94.8 1095.2h0.8M92.4 1102.8h0.8M89.6 1122.6h0.8M92.6 1097.5h0.8M91.9 1099.3h0.8M85.7 1103.0h0.8M95.8 1103.6h0.8M93.8 1101.3h0.8M87.8 1106.5h0.8M94.5 1093.7h0.8M89.5 1097.3h0.8M89.0 1082.4h0.8M91.5 1097.2h0.8M92.9 1111.2h0.8M90.1 1089.6h0.8M92.3 1107.1h0.8M96.6 1109.2h0.8M93.0 1102.2h0.8M87.8 1107.3h0.8M94.8 1101.2h0.8M91.8 1105.1h0.8M93.8 1105.9h0.8M93.8 1089.9h0.8M91.1 1088.9h0.8M94.8 1122.1h0.8M90.4 1100.8h0.8M93.3 1096.3h0.8M97.3 1103.5h0.8M98.5 1119.7h0.8M93.9 1095.9h0.8M96.2 1099.8h0.8M90.4 1100.2h0.8M95.7 1095.6h0.8M92.0 1108.7h0.8M91.8 1108.8h0.8M96.0 1098.0h0.8M89.3 1092.6h0.8M96.1 1106.2h0.8M92.8 1098.8h0.8M95.5 1098.1h0.8M100.1 1104.3h0.8M88.2 1110.1h0.8M93.3 1101.7h0.8M92.1 1111.2h0.8M91.2 1114.0h0.8M90.5 1108.9h0.8M88.5 1109.4h0.8M89.9 1099.9h0.8M94.7 1095.8h0.8M94.1 1101.8h0.8M96.2 1108.8h0.8M93.3 1100.3h0.8M90.1 1112.8h0.8M91.9 1092.0h0.8M90.4 1087.1h0.8M90.2 1098.3h0.8M93.2 1108.9h0.8M94.8 1087.6h0.8M91.2 1106.5h0.8M93.5 1101.6h0.8M90.4 1107.3h0.8M92.3 1099.8h0.8M92.2 1100.0h0.8M93.4 1110.3h0.8M92.8 1096.8h0.8M92.2 1100.5h0.8M93.9 1107.7h0.8M97.1 1108.7h0.8M87.9 1095.2h0.8M89.1 1104.1h0.8M99.0 1105.3h0.8M91.0 1112.5h0.8M94.3 1095.4h0.8M89.9 1113.2h0.8M94.6 1085.5h0.8M90.5 1106.1h0.8M88.8 1101.7h0.8M90.1 1088.7h0.8M91.1 1097.6h0.8M93.3 1088.3h0.8M93.2 1098.9h0.8M88.1 1111.1h0.8M91.3 1105.0h0.8M96.8 1104.9h0.8M95.1 1103.4h0.8M90.9 1103.2h0.8M88.2 1105.5h0.8M94.8 1105.1h0.8M90.7 1092.3h0.8M90.5 1099.5h0.8M88.6 1116.7h0.8M90.3 1102.7h0.8M91.2 1102.7h0.8M86.6 1093.7h0.8M92.4 1101.4h0.8M93.6 1097.6h0.8M94.8 1103.4h0.8M92.4 1101.9h0.8M95.4 1101.5h0.8M96.8 1102.7h0.8M93.2 1101.8h0.8M93.3 1105.4h0.8M90.8 1107.9h0.8M99.6 1105.9h0.8M92.8 1095.5h0.8M90.4 1095.4h0.8M93.2 1096.4h0.8M96.9 1098.4h0.8M90.0 1094.7h0.8M92.2 1100.6h0.8M95.1 1096.1h0.8M93.4 1109.1h0.8M91.7 1088.2h0.8M93.2 1109.7h0.8M93.6 1101.8h0.8M87.1 1114.3h0.8M92.0 1092.5h0.8M91.6 1102.9h0.8M92.6 1094.7h0.8M106.7 1116.2h0.8M94.2 1112.1h0.8M81.8 1099.8h0.8M73.9 1115.1h0.8M86.0 1118.9h0.8M65.1 1116.8h0.8M89.4 1104.0h0.8M93.2 1103.2h0.8M82.8 1111.3h0.8M86.7 1109.7h0.8M87.2 1114.8h0.8M77.7 1094.1h0.8M77.1 1091.3h0.8M102.6 1103.3h0.8M84.9 1110.0h0.8M78.4 1104.4h0.8M87.6 1107.8h0.8M92.5 1106.1h0.8M79.3 1097.8h0.8M70.2 1109.5h0.8M88.1 1105.0h0.8M96.1 1089.4h0.8M91.0 1099.6h0.8M82.2 1106.2h0.8M78.6 1105.8h0.8M87.8 1124.1h0.8M85.3 1112.6h0.8M92.6 1101.3h0.8M89.6 1105.0h0.8M93.2 1103.8h0.8M94.8 1101.6h0.8M81.0 1113.5h0.8M94.4 1113.7h0.8M103.1 1114.7h0.8M85.2 1114.1h0.8" stroke="#8c8c8c" stroke-width="0.85" fill="none" opacity="0.9"/>
</g>
<rect x="63.2" y="1067.7" width="78.10000000000001" height="77.09999999999991" fill="none" stroke="#333" stroke-width="1.1"/>
<line x1="89.7" y1="1067.7" x2="89.7" y2="1144.8" stroke="#5a5a5a" stroke-width="0.9"/>
<line x1="63.2" y1="1111.4" x2="141.3" y2="1111.4" stroke="#5a5a5a" stroke-width="0.9"/>
<text x="137.5" y="1082.9" font-size="12" font-weight="bold" text-anchor="end" fill="#111">78.2%</text>
<clipPath id="cp5"><rect x="161.7" y="1068.2" width="77.80000000000001" height="76.09999999999991"/></clipPath><g clip-path="url(#cp5)">
<path d="M161.2 1125.5 C162.7 1124.8 166.0 1122.5 170.0 1121.5 C174.0 1120.5 179.5 1119.8 185.0 1119.5 C190.5 1119.2 198.7 1119.2 203.0 1120.0 C207.3 1120.8 208.8 1122.2 211.0 1124.0 C213.2 1125.8 214.9 1128.5 216.0 1131.0 C217.1 1133.5 217.2 1136.7 217.5 1139.0 C217.8 1141.3 217.5 1143.8 217.5 1144.8 L161.2 1144.8 Z" fill="#7b7b7b"/>
<path d="M188.1 1119.9h0.9M195.3 1117.9h0.9M218.2 1139.2h0.9M166.3 1123.9h0.9M186.0 1118.9h0.9M199.5 1120.4h0.9M198.3 1118.1h0.9M216.5 1135.2h0.9M200.3 1120.0h0.9M209.9 1120.6h0.9M208.8 1123.8h0.9M187.9 1118.1h0.9M192.3 1119.8h0.9M174.6 1116.3h0.9M168.3 1121.0h0.9M219.1 1142.3h0.9M210.7 1120.7h0.9M167.6 1120.9h0.9M216.4 1133.5h0.9M190.1 1118.9h0.9M190.5 1119.4h0.9M215.5 1128.2h0.9M182.0 1119.2h0.9M212.0 1118.4h0.9M215.6 1128.5h0.9M208.7 1122.9h0.9M171.8 1119.3h0.9M169.2 1121.0h0.9M213.2 1127.4h0.9M206.0 1118.9h0.9M186.5 1119.6h0.9M217.8 1140.5h0.9M200.4 1119.8h0.9M217.1 1143.9h0.9M173.0 1119.9h0.9M217.4 1131.6h0.9M220.4 1143.3h0.9M172.3 1121.6h0.9M174.8 1120.5h0.9M194.5 1116.0h0.9M183.6 1119.4h0.9M203.1 1119.6h0.9M167.2 1121.6h0.9M163.0 1125.0h0.9M166.9 1122.3h0.9M168.4 1122.9h0.9M184.9 1120.1h0.9M215.5 1128.5h0.9M204.3 1117.6h0.9M171.9 1119.5h0.9M203.7 1120.2h0.9M217.0 1143.6h0.9M216.7 1142.3h0.9M169.5 1119.5h0.9M212.4 1122.6h0.9M166.3 1121.7h0.9M217.7 1134.1h0.9M183.6 1119.4h0.9M206.4 1121.5h0.9M216.8 1137.8h0.9M192.9 1118.9h0.9M183.1 1115.1h0.9M162.7 1120.3h0.9M209.1 1122.6h0.9M209.2 1123.9h0.9M209.3 1123.9h0.9M165.2 1120.7h0.9M185.1 1115.0h0.9M179.9 1117.5h0.9M171.8 1120.4h0.9M167.8 1121.1h0.9M176.7 1121.2h0.9M218.8 1134.4h0.9M216.3 1134.9h0.9M206.5 1118.3h0.9M183.7 1119.8h0.9M184.2 1119.0h0.9M217.2 1137.6h0.9M170.2 1118.0h0.9M168.0 1120.1h0.9M217.0 1140.3h0.9M180.2 1120.0h0.9M218.4 1140.9h0.9M181.9 1119.5h0.9M166.2 1119.8h0.9M183.3 1119.8h0.9M216.4 1134.7h0.9M217.1 1134.0h0.9M205.3 1120.0h0.9M198.6 1119.9h0.9M192.6 1119.4h0.9M185.8 1119.2h0.9M220.1 1140.7h0.9M189.2 1117.8h0.9M167.2 1119.1h0.9M202.7 1120.4h0.9M187.4 1118.7h0.9M183.8 1119.8h0.9M218.6 1140.5h0.9M208.0 1123.0h0.9M194.7 1117.9h0.9M217.3 1139.5h0.9M173.0 1119.2h0.9M173.0 1120.3h0.9M216.5 1143.3h0.9M168.8 1122.5h0.9M212.2 1126.4h0.9M181.3 1118.9h0.9M167.1 1119.9h0.9M220.4 1140.5h0.9M210.8 1126.0h0.9M183.5 1118.2h0.9M175.1 1119.7h0.9M212.1 1124.4h0.9M214.1 1127.2h0.9M181.9 1118.8h0.9M163.6 1124.4h0.9M185.5 1120.3h0.9M199.9 1119.4h0.9M182.3 1117.8h0.9M215.1 1127.2h0.9M194.6 1117.3h0.9M176.0 1120.9h0.9M200.5 1118.8h0.9M169.3 1117.9h0.9M214.3 1122.4h0.9M217.0 1142.7h0.9M176.1 1114.9h0.9M172.8 1121.5h0.9M204.5 1117.7h0.9M177.8 1116.9h0.9M167.7 1120.2h0.9M196.9 1119.6h0.9M173.8 1120.7h0.9M211.1 1120.8h0.9M197.7 1119.6h0.9M176.0 1120.5h0.9M216.6 1137.7h0.9M200.3 1118.8h0.9M216.3 1128.9h0.9M214.3 1129.5h0.9M179.1 1120.5h0.9M176.3 1120.7h0.9M181.5 1118.0h0.9M197.5 1118.9h0.9M213.9 1125.3h0.9M169.1 1122.0h0.9M179.1 1116.8h0.9M161.9 1125.5h0.9M217.3 1128.1h0.9M217.1 1140.0h0.9M203.7 1121.3h0.9M203.4 1119.6h0.9M192.0 1119.9h0.9M183.9 1118.6h0.9M187.8 1118.8h0.9M160.7 1125.5h0.9M176.5 1117.8h0.9M194.8 1119.1h0.9M184.4 1119.4h0.9M205.2 1120.7h0.9M170.8 1119.3h0.9M188.5 1119.4h0.9M217.6 1139.9h0.9M175.7 1121.3h0.9M219.2 1144.0h0.9M160.5 1125.9h0.9M217.1 1142.4h0.9M218.1 1142.4h0.9M217.7 1138.4h0.9M216.8 1144.7h0.9M217.4 1142.9h0.9M196.9 1116.9h0.9M219.2 1130.7h0.9M173.3 1120.9h0.9M217.4 1131.6h0.9M172.2 1119.1h0.9M217.3 1133.8h0.9M215.9 1126.8h0.9M210.1 1123.9h0.9M214.5 1128.6h0.9M184.2 1120.0h0.9M216.9 1129.6h0.9M216.9 1139.1h0.9M206.5 1121.3h0.9M209.9 1123.3h0.9M177.2 1120.2h0.9M189.1 1120.3h0.9M213.0 1123.7h0.9M203.6 1120.0h0.9M200.0 1120.2h0.9M169.2 1120.1h0.9M161.5 1123.8h0.9M195.0 1119.1h0.9M216.7 1131.3h0.9M217.7 1144.4h0.9M170.5 1121.4h0.9M218.9 1142.9h0.9M180.9 1119.2h0.9M218.3 1143.0h0.9M190.3 1120.5h0.9M215.8 1129.5h0.9M201.6 1119.6h0.9M207.0 1121.9h0.9M165.8 1123.5h0.9M169.8 1121.2h0.9M217.7 1137.7h0.9M163.4 1122.6h0.9M207.1 1117.5h0.9M218.3 1141.4h0.9M207.0 1120.7h0.9M202.3 1119.3h0.9M212.0 1123.9h0.9M214.9 1129.0h0.9M180.8 1118.6h0.9M167.6 1120.7h0.9M182.7 1120.0h0.9M207.2 1119.8h0.9M175.6 1120.4h0.9M186.2 1117.4h0.9M194.7 1119.2h0.9M185.0 1118.4h0.9M208.2 1120.9h0.9M216.8 1140.1h0.9M199.6 1120.5h0.9M214.5 1130.5h0.9M176.6 1118.5h0.9M217.4 1137.2h0.9M215.7 1134.7h0.9M168.3 1122.5h0.9M161.4 1125.0h0.9M190.8 1118.4h0.9M178.3 1119.9h0.9M160.9 1123.9h0.9M172.1 1119.4h0.9M218.3 1131.2h0.9M195.8 1120.2h0.9M207.4 1119.8h0.9M196.7 1120.1h0.9M166.7 1119.8h0.9M218.4 1144.1h0.9M217.1 1139.7h0.9M193.0 1119.2h0.9M219.4 1142.5h0.9M210.1 1121.3h0.9M191.3 1116.2h0.9M168.5 1121.2h0.9M217.2 1144.1h0.9M163.1 1123.0h0.9M190.5 1119.5h0.9M183.4 1118.1h0.9M213.1 1125.1h0.9M188.3 1119.9h0.9M164.2 1123.6h0.9M188.4 1119.4h0.9M162.4 1125.4h0.9M203.7 1121.0h0.9M217.8 1139.6h0.9M209.2 1121.7h0.9M216.8 1141.7h0.9M201.3 1119.2h0.9M201.0 1118.6h0.9M202.0 1117.9h0.9M161.4 1123.2h0.9M182.7 1118.1h0.9M194.0 1118.5h0.9M199.5 1120.1h0.9M218.0 1137.1h0.9M213.0 1123.3h0.9M185.1 1117.4h0.9M218.4 1143.8h0.9M205.2 1120.8h0.9M165.9 1123.3h0.9M198.2 1117.8h0.9M181.3 1119.3h0.9M189.9 1118.9h0.9M205.4 1120.2h0.9M215.9 1133.4h0.9M212.6 1124.6h0.9M218.8 1140.5h0.9M202.4 1118.8h0.9M168.5 1121.5h0.9M203.8 1119.5h0.9M216.2 1135.6h0.9M183.9 1119.3h0.9M216.2 1143.0h0.9M165.8 1123.7h0.9M205.2 1120.8h0.9M176.8 1118.7h0.9M203.0 1120.0h0.9M177.3 1120.2h0.9M198.9 1119.4h0.9M173.7 1121.0h0.9M218.1 1139.5h0.9M218.6 1138.7h0.9M197.6 1120.2h0.9M171.9 1119.0h0.9M200.7 1116.3h0.9M174.8 1120.0h0.9M217.2 1139.2h0.9M217.2 1132.7h0.9M166.8 1117.9h0.9M170.6 1121.4h0.9M206.7 1122.5h0.9M179.2 1119.5h0.9M168.1 1120.3h0.9M172.4 1118.6h0.9M163.6 1124.1h0.9M217.1 1134.8h0.9M169.6 1121.6h0.9M165.8 1123.0h0.9M180.7 1119.9h0.9M162.4 1124.8h0.9M215.2 1128.8h0.9M212.9 1128.0h0.9M199.8 1116.8h0.9M217.5 1143.5h0.9M217.8 1138.7h0.9M203.0 1120.6h0.9M170.8 1118.9h0.9M212.5 1127.8h0.9M160.8 1124.3h0.9M219.4 1141.0h0.9M214.9 1129.8h0.9M209.2 1122.9h0.9M168.6 1119.8h0.9M214.8 1130.5h0.9M214.5 1129.1h0.9M217.8 1140.5h0.9M191.3 1118.6h0.9M187.0 1118.2h0.9M217.6 1135.3h0.9M191.6 1120.1h0.9M210.3 1120.1h0.9M213.9 1126.7h0.9M174.6 1119.4h0.9M201.6 1118.9h0.9M217.1 1130.0h0.9M216.6 1143.2h0.9M177.9 1120.9h0.9M185.3 1119.6h0.9M194.4 1119.6h0.9M172.1 1119.2h0.9M159.9 1122.1h0.9M208.5 1122.1h0.9M213.1 1125.8h0.9M191.2 1118.3h0.9M170.0 1119.5h0.9M190.2 1117.9h0.9M169.7 1122.5h0.9M205.5 1121.7h0.9M163.7 1120.0h0.9M180.6 1120.0h0.9M164.1 1124.3h0.9M196.9 1118.1h0.9M217.3 1139.2h0.9M211.2 1120.5h0.9M168.4 1121.2h0.9M170.0 1122.0h0.9M208.4 1123.8h0.9M165.3 1120.9h0.9M203.8 1119.6h0.9M163.0 1124.2h0.9M167.5 1122.3h0.9M216.3 1136.5h0.9M189.3 1118.1h0.9M182.9 1118.4h0.9M163.2 1123.1h0.9M212.5 1125.9h0.9M201.2 1117.4h0.9M213.0 1123.8h0.9M167.3 1122.7h0.9M187.8 1118.5h0.9M183.3 1120.0h0.9M161.9 1125.9h0.9M191.9 1118.8h0.9M198.5 1120.3h0.9M196.7 1120.7h0.9M213.4 1124.5h0.9M193.1 1118.5h0.9M194.4 1119.7h0.9M173.3 1120.5h0.9M189.5 1119.2h0.9M177.2 1120.4h0.9M192.1 1117.2h0.9M207.7 1123.0h0.9M195.5 1117.4h0.9M176.6 1120.1h0.9M214.1 1126.2h0.9M169.5 1118.7h0.9M216.7 1131.9h0.9M215.6 1136.1h0.9M174.2 1119.6h0.9M173.4 1120.0h0.9M200.9 1117.3h0.9M162.9 1124.0h0.9M197.6 1119.8h0.9M195.9 1116.7h0.9M215.4 1129.0h0.9M173.6 1120.5h0.9M215.2 1125.2h0.9M164.5 1119.4h0.9M198.4 1119.7h0.9M191.5 1120.2h0.9M187.9 1120.4h0.9M195.8 1118.8h0.9M185.2 1118.5h0.9M212.0 1123.9h0.9M210.1 1120.6h0.9M160.9 1125.3h0.9M191.3 1116.9h0.9M182.0 1120.0h0.9M207.8 1122.6h0.9M215.8 1132.2h0.9M213.9 1129.6h0.9M219.2 1136.7h0.9M216.6 1138.8h0.9M200.3 1120.4h0.9M161.4 1124.2h0.9M211.6 1124.4h0.9M216.2 1136.5h0.9M217.5 1138.4h0.9M191.3 1119.2h0.9M168.5 1119.9h0.9M196.9 1119.1h0.9M171.1 1120.3h0.9M181.0 1117.7h0.9M172.9 1120.6h0.9M215.1 1133.1h0.9M221.0 1142.7h0.9M217.5 1131.8h0.9M204.3 1118.5h0.9M217.6 1135.4h0.9M217.5 1137.8h0.9M190.9 1119.1h0.9M188.2 1118.1h0.9M182.0 1117.8h0.9M174.2 1119.9h0.9M216.5 1131.0h0.9M183.5 1119.3h0.9M189.7 1119.3h0.9M218.4 1134.5h0.9M204.3 1119.4h0.9M163.0 1123.2h0.9M205.2 1121.4h0.9M166.9 1120.7h0.9M196.6 1119.9h0.9M177.6 1119.3h0.9M215.3 1128.6h0.9M202.0 1119.8h0.9M193.5 1120.3h0.9M213.1 1127.2h0.9M218.4 1137.2h0.9M191.1 1118.6h0.9M212.7 1123.3h0.9M171.6 1121.3h0.9M219.9 1141.2h0.9M165.7 1122.4h0.9M207.4 1122.1h0.9M188.2 1120.3h0.9M167.0 1121.2h0.9M169.8 1121.9h0.9M189.3 1119.2h0.9M170.7 1122.2h0.9M198.6 1118.8h0.9M217.0 1144.4h0.9M212.9 1128.3h0.9M219.6 1135.2h0.9M193.1 1118.9h0.9M173.1 1120.6h0.9M163.5 1123.1h0.9M202.2 1119.7h0.9M189.6 1120.4h0.9M210.0 1121.9h0.9M182.1 1117.0h0.9M181.3 1120.2h0.9M206.5 1122.3h0.9M216.7 1138.4h0.9M192.8 1118.5h0.9M218.0 1125.9h0.9M162.4 1123.9h0.9M197.9 1117.6h0.9M217.3 1135.5h0.9M160.9 1122.3h0.9M215.1 1128.1h0.9M192.2 1118.7h0.9M165.9 1121.6h0.9M206.3 1122.0h0.9M216.9 1143.0h0.9M187.0 1119.9h0.9M169.8 1121.1h0.9M199.7 1117.9h0.9M164.9 1123.3h0.9M216.6 1143.3h0.9M206.4 1122.5h0.9M195.3 1118.0h0.9M166.2 1123.0h0.9M187.3 1118.2h0.9M160.0 1123.0h0.9M169.4 1120.2h0.9M195.5 1120.0h0.9M181.3 1119.0h0.9M195.6 1118.8h0.9M211.5 1119.8h0.9M161.7 1119.4h0.9M219.1 1140.5h0.9M206.0 1120.9h0.9M200.5 1118.3h0.9M163.2 1123.7h0.9M218.7 1141.7h0.9M187.5 1119.1h0.9M178.2 1121.2h0.9M210.4 1124.7h0.9M195.1 1119.9h0.9M174.4 1118.9h0.9M166.2 1120.0h0.9M218.3 1135.3h0.9M215.5 1131.1h0.9M218.0 1143.0h0.9M210.2 1121.9h0.9M191.7 1120.0h0.9M217.6 1138.5h0.9M165.7 1123.4h0.9M193.4 1117.8h0.9M219.1 1134.8h0.9M199.4 1119.5h0.9M215.0 1130.4h0.9M214.7 1128.2h0.9M181.4 1118.3h0.9M217.6 1141.7h0.9M161.9 1123.2h0.9M214.5 1127.0h0.9M161.1 1125.6h0.9M166.9 1118.9h0.9M163.3 1124.6h0.9M173.4 1121.4h0.9M201.9 1118.3h0.9M190.9 1117.1h0.9M202.1 1117.9h0.9M217.6 1137.2h0.9M184.1 1117.8h0.9M164.2 1122.7h0.9M217.8 1137.1h0.9M222.4 1143.4h0.9M217.1 1142.7h0.9M216.5 1138.1h0.9M200.7 1119.4h0.9M167.9 1122.5h0.9M217.1 1139.4h0.9M218.2 1141.6h0.9M186.3 1119.8h0.9M173.3 1121.8h0.9M164.0 1123.8h0.9M190.1 1118.8h0.9M176.5 1121.3h0.9M185.7 1120.0h0.9M185.7 1120.3h0.9M215.2 1130.2h0.9M190.7 1119.5h0.9M172.5 1121.1h0.9M204.8 1117.8h0.9M195.7 1119.9h0.9M165.5 1121.9h0.9M194.7 1117.3h0.9M181.1 1120.2h0.9M178.7 1118.1h0.9M218.7 1137.0h0.9M216.5 1144.8h0.9M195.8 1117.3h0.9M218.7 1137.0h0.9M190.7 1120.3h0.9M217.5 1134.3h0.9M197.9 1119.6h0.9M182.8 1118.9h0.9M182.7 1118.7h0.9M217.9 1136.8h0.9M216.3 1135.1h0.9M217.4 1140.0h0.9M219.1 1139.6h0.9M178.5 1120.6h0.9M162.4 1124.2h0.9M209.7 1123.7h0.9M204.3 1119.6h0.9M185.0 1119.0h0.9M177.4 1119.1h0.9M211.6 1125.5h0.9M215.4 1127.5h0.9M170.1 1119.6h0.9M184.3 1119.4h0.9M183.9 1118.2h0.9M180.6 1120.3h0.9M212.8 1128.6h0.9M162.1 1124.0h0.9M184.3 1118.4h0.9M215.6 1130.0h0.9M165.1 1122.2h0.9M191.9 1117.7h0.9M217.7 1142.7h0.9M219.8 1142.8h0.9M210.8 1124.9h0.9M215.4 1127.6h0.9M205.8 1121.5h0.9M190.5 1120.4h0.9M161.8 1122.9h0.9M195.3 1119.5h0.9M160.7 1126.1h0.9M167.2 1123.3h0.9M197.6 1119.6h0.9M216.4 1136.8h0.9M189.5 1116.9h0.9M197.4 1119.4h0.9M169.7 1121.8h0.9M205.8 1120.6h0.9M218.9 1137.7h0.9M217.1 1143.7h0.9M163.1 1120.7h0.9M177.4 1120.7h0.9M194.2 1119.7h0.9M194.7 1120.4h0.9M217.0 1138.8h0.9" stroke="#7b7b7b" stroke-width="0.9" fill="none" opacity="0.85"/>
<path d="M167.5 1095.4h0.8M186.2 1115.4h0.8M164.8 1107.1h0.8M174.1 1112.2h0.8M203.2 1103.8h0.8M207.4 1111.9h0.8M187.6 1117.5h0.8M217.5 1105.3h0.8M193.0 1108.7h0.8M200.4 1102.8h0.8M186.8 1115.4h0.8M188.1 1116.6h0.8M193.3 1119.6h0.8M209.1 1096.9h0.8M198.8 1104.1h0.8M181.9 1113.0h0.8M203.7 1110.2h0.8M204.2 1119.0h0.8M194.5 1111.0h0.8M196.2 1118.0h0.8M178.5 1105.5h0.8M174.1 1101.7h0.8M194.5 1103.3h0.8M180.0 1104.2h0.8M204.6 1122.6h0.8M191.5 1100.3h0.8M192.5 1101.2h0.8M194.2 1111.6h0.8M215.1 1100.2h0.8M188.2 1099.5h0.8M204.0 1098.6h0.8M206.8 1120.5h0.8M167.7 1114.8h0.8M219.8 1107.0h0.8M189.2 1122.2h0.8M187.2 1105.4h0.8M178.1 1111.3h0.8M207.2 1100.0h0.8M200.8 1110.2h0.8M210.4 1105.4h0.8M180.0 1108.0h0.8M196.0 1104.0h0.8M177.8 1111.3h0.8M169.3 1097.0h0.8M188.5 1095.4h0.8M196.6 1093.4h0.8M187.5 1109.5h0.8M207.6 1099.5h0.8M193.6 1115.7h0.8M179.4 1109.2h0.8M204.7 1115.1h0.8M189.2 1109.1h0.8M180.7 1110.6h0.8M195.6 1102.1h0.8M221.2 1111.4h0.8M179.2 1106.5h0.8M196.4 1097.9h0.8M178.2 1112.2h0.8M189.1 1105.7h0.8M203.6 1104.1h0.8M170.6 1097.3h0.8M188.0 1104.7h0.8M185.0 1099.2h0.8M167.1 1104.2h0.8M195.5 1108.4h0.8M198.2 1129.7h0.8M174.7 1101.3h0.8M192.1 1087.0h0.8M199.1 1105.4h0.8M231.5 1105.5h0.8M188.6 1106.3h0.8M187.0 1100.9h0.8M204.3 1108.9h0.8M194.2 1104.1h0.8M165.2 1102.5h0.8M160.5 1101.2h0.8M194.6 1104.1h0.8M191.0 1118.8h0.8M197.2 1114.2h0.8M185.7 1103.6h0.8M171.7 1118.0h0.8M204.7 1105.6h0.8M196.0 1108.2h0.8M207.7 1110.3h0.8M188.6 1097.8h0.8M157.9 1087.5h0.8M186.7 1115.7h0.8M180.6 1104.3h0.8M198.0 1119.0h0.8M159.2 1105.0h0.8M183.4 1112.7h0.8M184.7 1092.2h0.8M159.0 1092.8h0.8M184.4 1097.6h0.8M171.8 1122.0h0.8M170.1 1103.7h0.8M205.6 1106.1h0.8M163.2 1106.2h0.8M189.4 1116.9h0.8M179.0 1093.8h0.8M184.5 1097.2h0.8M192.4 1111.3h0.8M188.8 1105.7h0.8M173.6 1095.0h0.8M193.7 1117.3h0.8M200.3 1125.5h0.8M176.6 1089.0h0.8M189.0 1108.2h0.8M178.5 1090.9h0.8M207.5 1090.9h0.8M196.4 1112.8h0.8M207.0 1105.6h0.8M202.0 1104.1h0.8M199.4 1116.7h0.8M189.3 1092.1h0.8M195.3 1082.0h0.8M208.0 1101.1h0.8M182.4 1114.0h0.8M201.3 1110.0h0.8M182.0 1111.8h0.8M191.5 1103.2h0.8M179.2 1109.9h0.8M179.7 1116.5h0.8M165.9 1098.0h0.8M192.1 1092.4h0.8M214.2 1094.8h0.8M181.5 1102.7h0.8M191.9 1117.2h0.8M183.9 1101.9h0.8M206.7 1105.9h0.8M199.9 1106.4h0.8M182.8 1101.1h0.8M176.5 1099.7h0.8M191.9 1105.6h0.8M200.0 1106.9h0.8M195.0 1099.0h0.8M168.1 1114.2h0.8M213.2 1103.7h0.8M201.1 1098.9h0.8M177.6 1109.1h0.8M200.9 1110.6h0.8M204.2 1106.7h0.8M187.7 1106.8h0.8M177.9 1103.1h0.8M167.6 1096.6h0.8M199.9 1101.6h0.8M159.5 1096.8h0.8M199.9 1105.5h0.8M188.4 1110.7h0.8M204.9 1103.6h0.8M192.8 1122.0h0.8M197.6 1101.7h0.8M178.6 1102.3h0.8M204.9 1089.5h0.8M197.9 1102.6h0.8M198.0 1107.5h0.8M168.7 1102.1h0.8M163.2 1104.8h0.8M179.4 1113.3h0.8M165.4 1108.3h0.8M176.7 1102.0h0.8M167.1 1120.8h0.8M186.5 1106.6h0.8M219.9 1092.1h0.8M188.3 1098.5h0.8M185.9 1102.7h0.8M196.3 1112.0h0.8M190.5 1115.5h0.8M185.2 1095.7h0.8M167.0 1112.8h0.8M184.9 1109.8h0.8M199.1 1098.7h0.8M206.7 1111.9h0.8M211.3 1111.7h0.8M174.4 1110.6h0.8M191.3 1094.5h0.8M201.2 1104.0h0.8M195.0 1119.2h0.8M206.9 1102.7h0.8M199.3 1114.3h0.8M191.7 1114.7h0.8M197.3 1102.4h0.8M208.2 1104.1h0.8M183.3 1103.0h0.8M165.9 1114.5h0.8M173.6 1091.4h0.8M194.0 1088.4h0.8M185.8 1112.0h0.8M194.1 1109.0h0.8M185.8 1098.4h0.8M193.4 1112.3h0.8M188.8 1113.8h0.8M157.6 1098.6h0.8M154.8 1102.6h0.8M191.7 1095.8h0.8M182.3 1105.3h0.8M178.8 1104.2h0.8M202.3 1106.1h0.8M203.5 1109.6h0.8M182.7 1106.6h0.8M201.8 1101.5h0.8M180.9 1115.9h0.8M200.7 1111.2h0.8M182.6 1104.6h0.8M194.8 1109.3h0.8M201.2 1097.2h0.8M201.4 1098.0h0.8M176.9 1102.1h0.8M182.5 1114.4h0.8M205.5 1123.0h0.8M180.5 1107.2h0.8M207.0 1092.2h0.8M200.3 1121.2h0.8M202.6 1100.1h0.8M188.4 1107.2h0.8M180.6 1097.7h0.8M204.9 1099.0h0.8M203.7 1097.4h0.8M179.2 1087.6h0.8M156.4 1121.0h0.8M181.1 1102.9h0.8M200.9 1094.4h0.8M189.6 1115.1h0.8M200.3 1117.9h0.8M187.9 1093.8h0.8M189.8 1110.3h0.8M175.9 1103.5h0.8M189.3 1123.7h0.8M180.9 1099.7h0.8M187.1 1100.9h0.8M190.3 1101.8h0.8M173.2 1100.4h0.8M164.2 1119.6h0.8M207.9 1105.1h0.8M192.4 1111.5h0.8M193.9 1098.8h0.8M178.0 1112.5h0.8M186.1 1109.4h0.8M184.3 1113.1h0.8M187.7 1108.0h0.8" stroke="#8c8c8c" stroke-width="0.85" fill="none" opacity="0.9"/>
</g>
<rect x="161.2" y="1067.7" width="78.80000000000001" height="77.09999999999991" fill="none" stroke="#333" stroke-width="1.1"/>
<line x1="186.2" y1="1067.7" x2="186.2" y2="1144.8" stroke="#5a5a5a" stroke-width="0.9"/>
<line x1="161.2" y1="1111.4" x2="240" y2="1111.4" stroke="#5a5a5a" stroke-width="0.9"/>
<text x="236.2" y="1082.9" font-size="12" font-weight="bold" text-anchor="end" fill="#111">54.6%</text>
<clipPath id="cp6"><rect x="259.3" y="1068.2" width="78.19999999999999" height="76.09999999999991"/></clipPath><g clip-path="url(#cp6)">
<path d="M258.8 1120.5 C260.0 1119.8 262.8 1117.5 266.0 1116.5 C269.2 1115.5 272.5 1114.8 278.0 1114.5 C283.5 1114.2 294.0 1114.0 299.0 1114.5 C304.0 1115.0 305.3 1115.9 308.0 1117.5 C310.7 1119.1 313.2 1121.6 315.0 1124.0 C316.8 1126.4 317.8 1128.5 318.5 1132.0 C319.2 1135.5 318.9 1142.7 319.0 1144.8 L258.8 1144.8 Z" fill="#7b7b7b"/>
<path d="M317.6 1127.6h0.9M318.2 1135.9h0.9M269.4 1116.8h0.9M315.5 1122.1h0.9M314.4 1120.5h0.9M317.5 1125.1h0.9M318.3 1129.7h0.9M288.5 1114.1h0.9M284.8 1114.0h0.9M319.0 1129.8h0.9M314.9 1123.6h0.9M294.1 1114.3h0.9M294.1 1114.7h0.9M306.3 1117.6h0.9M267.9 1115.7h0.9M267.4 1112.1h0.9M305.9 1114.3h0.9M306.2 1115.9h0.9M316.0 1123.8h0.9M263.7 1116.8h0.9M316.5 1127.2h0.9M262.5 1117.3h0.9M281.2 1113.1h0.9M258.9 1119.1h0.9M271.4 1113.4h0.9M310.6 1118.6h0.9M317.6 1123.8h0.9M321.7 1134.8h0.9M320.6 1134.5h0.9M319.8 1136.4h0.9M274.4 1115.3h0.9M302.1 1112.4h0.9M271.5 1113.9h0.9M310.8 1119.7h0.9M276.7 1111.5h0.9M321.2 1137.6h0.9M318.0 1127.5h0.9M315.8 1127.9h0.9M318.6 1139.6h0.9M280.4 1114.4h0.9M319.4 1137.7h0.9M304.6 1116.7h0.9M319.0 1132.0h0.9M314.0 1120.7h0.9M303.0 1115.5h0.9M261.5 1118.8h0.9M318.7 1136.9h0.9M308.8 1117.2h0.9M273.4 1114.1h0.9M297.7 1114.0h0.9M288.7 1112.9h0.9M320.4 1140.1h0.9M282.6 1112.6h0.9M259.0 1117.2h0.9M322.3 1144.3h0.9M317.3 1133.7h0.9M271.1 1116.0h0.9M310.2 1119.2h0.9M266.1 1114.7h0.9M318.7 1132.5h0.9M291.0 1115.5h0.9M275.8 1112.4h0.9M307.2 1117.7h0.9M318.9 1131.5h0.9M307.8 1117.6h0.9M264.1 1116.1h0.9M310.1 1117.8h0.9M287.7 1113.5h0.9M317.8 1136.8h0.9M319.8 1137.2h0.9M317.9 1129.3h0.9M306.9 1117.4h0.9M317.7 1128.9h0.9M285.3 1114.6h0.9M308.9 1117.6h0.9M321.2 1142.7h0.9M267.0 1111.6h0.9M317.2 1125.8h0.9M304.8 1116.9h0.9M262.4 1118.9h0.9M318.4 1126.1h0.9M314.7 1123.1h0.9M274.0 1112.7h0.9M319.0 1144.0h0.9M315.1 1119.9h0.9M317.4 1126.2h0.9M298.5 1112.6h0.9M269.6 1115.6h0.9M280.4 1115.2h0.9M316.2 1128.5h0.9M319.5 1134.8h0.9M283.2 1114.3h0.9M317.6 1131.1h0.9M267.2 1111.8h0.9M283.7 1114.3h0.9M316.7 1126.9h0.9M313.5 1121.1h0.9M270.6 1114.7h0.9M318.9 1142.5h0.9M311.5 1118.6h0.9M318.9 1128.9h0.9M318.1 1143.1h0.9M318.9 1131.0h0.9M305.5 1115.7h0.9M282.7 1113.0h0.9M288.9 1113.5h0.9M318.0 1133.1h0.9M319.2 1144.0h0.9M321.5 1141.4h0.9M307.8 1116.6h0.9M283.5 1113.7h0.9M297.4 1113.2h0.9M316.0 1119.6h0.9M270.2 1115.5h0.9M309.6 1115.8h0.9M260.7 1116.4h0.9M283.4 1111.1h0.9M300.2 1113.9h0.9M319.9 1138.0h0.9M318.9 1131.3h0.9M302.1 1110.6h0.9M274.5 1115.3h0.9M296.9 1112.5h0.9M278.7 1113.6h0.9M319.2 1144.0h0.9M259.0 1120.0h0.9M293.3 1114.3h0.9M279.8 1114.7h0.9M302.9 1113.9h0.9M305.3 1117.2h0.9M294.1 1113.8h0.9M259.8 1120.4h0.9M318.3 1142.0h0.9M282.7 1113.0h0.9M293.3 1111.0h0.9M293.9 1113.9h0.9M279.9 1113.0h0.9M279.7 1114.4h0.9M266.1 1112.9h0.9M318.9 1139.1h0.9M316.1 1124.0h0.9M289.4 1114.4h0.9M318.5 1135.7h0.9M260.6 1118.0h0.9M311.6 1120.3h0.9M318.2 1126.1h0.9M317.8 1135.8h0.9M314.2 1119.1h0.9M267.8 1116.3h0.9M310.4 1120.4h0.9M292.6 1112.9h0.9M290.6 1113.5h0.9M314.6 1124.3h0.9M310.5 1119.4h0.9M295.5 1114.4h0.9M273.0 1114.1h0.9M318.5 1136.0h0.9M300.5 1114.7h0.9M280.6 1114.7h0.9M293.0 1114.5h0.9M310.7 1119.0h0.9M280.5 1114.2h0.9M294.3 1115.4h0.9M313.7 1122.3h0.9M308.9 1119.1h0.9M300.8 1113.7h0.9M310.9 1118.3h0.9M284.2 1113.4h0.9M317.7 1142.7h0.9M317.9 1143.8h0.9M318.3 1131.2h0.9M313.1 1119.4h0.9M260.6 1114.3h0.9M286.4 1111.2h0.9M279.7 1115.2h0.9M317.8 1138.8h0.9M308.2 1118.7h0.9M312.1 1117.3h0.9M306.0 1117.8h0.9M320.4 1144.9h0.9M300.0 1112.6h0.9M275.9 1114.2h0.9M319.0 1143.5h0.9M279.1 1114.4h0.9M308.6 1119.0h0.9M302.3 1115.3h0.9M318.6 1141.0h0.9M319.0 1125.2h0.9M318.4 1143.9h0.9M315.7 1127.4h0.9M308.9 1117.7h0.9M268.3 1114.9h0.9M270.1 1115.1h0.9M286.7 1112.6h0.9M286.4 1114.3h0.9M271.1 1111.7h0.9M308.5 1118.9h0.9M319.2 1135.7h0.9M301.6 1115.4h0.9M316.2 1125.6h0.9M287.7 1113.4h0.9M288.8 1113.9h0.9M308.4 1119.2h0.9M269.8 1113.8h0.9M313.7 1122.4h0.9M312.2 1121.3h0.9M285.0 1114.2h0.9M320.2 1138.8h0.9M316.5 1129.5h0.9M313.3 1122.5h0.9M294.7 1111.9h0.9M304.3 1113.8h0.9M308.1 1117.4h0.9M318.1 1144.3h0.9M309.9 1118.3h0.9M278.5 1114.5h0.9M318.4 1132.0h0.9M306.4 1115.2h0.9M294.1 1113.3h0.9M307.3 1116.4h0.9M296.7 1110.3h0.9M289.4 1113.8h0.9M301.1 1113.6h0.9M317.8 1132.6h0.9M319.0 1135.9h0.9M320.7 1139.9h0.9M311.6 1119.6h0.9M258.7 1119.6h0.9M317.4 1132.7h0.9M259.0 1118.2h0.9M319.1 1135.2h0.9M289.8 1114.9h0.9M295.4 1112.5h0.9M288.2 1114.1h0.9M315.9 1126.0h0.9M319.1 1130.4h0.9M320.0 1138.5h0.9M281.2 1113.4h0.9M320.7 1144.9h0.9M287.4 1113.9h0.9M302.4 1113.7h0.9M305.9 1115.1h0.9M270.1 1112.8h0.9M300.8 1115.6h0.9M280.9 1111.8h0.9M272.7 1111.8h0.9M260.6 1118.2h0.9M306.3 1115.6h0.9M262.6 1117.5h0.9M313.6 1121.9h0.9M309.0 1119.1h0.9M315.8 1121.5h0.9M283.6 1113.5h0.9M320.4 1130.6h0.9M318.3 1136.4h0.9M311.3 1120.8h0.9M277.9 1113.6h0.9M318.2 1136.1h0.9M297.7 1113.4h0.9M281.1 1113.1h0.9M282.4 1111.6h0.9M285.9 1114.3h0.9M295.8 1114.6h0.9M318.2 1132.4h0.9M275.2 1114.2h0.9M297.5 1111.6h0.9M266.7 1115.4h0.9M270.0 1115.5h0.9M294.9 1114.8h0.9M289.5 1114.0h0.9M281.1 1113.7h0.9M317.7 1131.0h0.9M258.0 1117.6h0.9M259.1 1113.4h0.9M263.6 1116.8h0.9M258.7 1118.0h0.9M284.8 1114.1h0.9M278.5 1113.3h0.9M315.7 1124.2h0.9M285.2 1112.7h0.9M266.8 1114.7h0.9M297.6 1113.2h0.9M318.7 1139.9h0.9M299.1 1115.6h0.9M269.8 1113.7h0.9M318.2 1128.4h0.9M263.6 1114.6h0.9M278.3 1113.0h0.9M315.1 1124.9h0.9M313.3 1123.3h0.9M299.2 1112.8h0.9M290.5 1114.4h0.9M263.4 1116.3h0.9M298.6 1113.6h0.9M292.6 1114.7h0.9M269.3 1113.0h0.9M313.5 1123.8h0.9M276.6 1112.3h0.9M277.7 1114.3h0.9M283.1 1111.8h0.9M302.2 1116.2h0.9M300.7 1112.1h0.9M314.5 1124.6h0.9M290.7 1115.0h0.9M292.1 1114.7h0.9M291.6 1112.2h0.9M259.0 1119.7h0.9M318.2 1137.2h0.9M281.2 1113.2h0.9M315.6 1126.1h0.9M315.4 1126.2h0.9M319.8 1130.8h0.9M312.9 1121.8h0.9M319.1 1134.5h0.9M280.8 1113.9h0.9M311.7 1120.7h0.9M270.1 1114.3h0.9M319.7 1144.7h0.9M319.8 1140.4h0.9M292.2 1112.9h0.9M306.2 1112.6h0.9M277.5 1114.4h0.9M307.6 1117.3h0.9M311.1 1115.5h0.9M262.6 1117.3h0.9M262.2 1115.8h0.9M320.5 1136.5h0.9M260.3 1118.4h0.9M293.5 1115.4h0.9M314.3 1121.9h0.9M277.2 1113.2h0.9M281.4 1114.6h0.9M318.8 1125.3h0.9M290.4 1113.1h0.9M266.7 1116.4h0.9M302.1 1113.1h0.9M281.4 1113.3h0.9M279.3 1113.2h0.9M319.0 1134.4h0.9M273.0 1114.9h0.9M317.4 1128.2h0.9M278.6 1113.4h0.9M319.9 1141.1h0.9M309.5 1117.5h0.9M271.7 1116.1h0.9M318.0 1135.5h0.9M276.5 1113.8h0.9M274.6 1111.9h0.9M318.0 1133.0h0.9M318.6 1140.1h0.9M261.2 1117.6h0.9M318.7 1138.2h0.9M296.2 1114.5h0.9M299.7 1115.0h0.9M257.1 1116.7h0.9M318.6 1136.9h0.9M266.1 1115.3h0.9M317.1 1128.5h0.9M290.5 1114.3h0.9M277.4 1114.6h0.9M317.8 1139.5h0.9M318.9 1131.4h0.9M316.1 1127.5h0.9M268.2 1115.1h0.9M302.3 1115.4h0.9M268.9 1114.9h0.9M302.8 1113.7h0.9M320.0 1137.1h0.9M304.0 1116.7h0.9M318.4 1132.6h0.9M283.7 1115.3h0.9M299.3 1115.2h0.9M288.6 1115.1h0.9M308.7 1117.7h0.9M310.9 1120.0h0.9M281.8 1112.8h0.9M296.6 1110.9h0.9M316.0 1125.2h0.9M279.1 1114.0h0.9M281.4 1112.1h0.9M314.0 1119.9h0.9M319.3 1136.9h0.9M272.0 1113.5h0.9M311.2 1120.4h0.9M274.0 1112.7h0.9M259.6 1120.7h0.9M264.1 1116.2h0.9M269.8 1113.8h0.9M319.2 1144.2h0.9M318.1 1141.7h0.9M271.1 1114.6h0.9M292.9 1113.9h0.9M316.5 1128.9h0.9M319.4 1126.8h0.9M321.4 1136.4h0.9M267.1 1113.2h0.9M288.3 1115.5h0.9M307.4 1117.9h0.9M290.1 1114.0h0.9M279.1 1114.4h0.9M288.3 1112.1h0.9M286.3 1115.1h0.9M319.2 1137.9h0.9M315.0 1120.5h0.9M286.8 1114.5h0.9M301.6 1114.6h0.9M286.9 1111.8h0.9M308.1 1117.6h0.9M316.2 1130.3h0.9M288.1 1112.3h0.9M282.8 1114.1h0.9M310.3 1119.1h0.9M261.4 1118.9h0.9M283.7 1111.6h0.9M274.7 1114.4h0.9M298.0 1113.3h0.9M290.5 1113.4h0.9M275.7 1113.4h0.9M273.4 1115.2h0.9M309.9 1119.2h0.9M302.6 1115.5h0.9M263.3 1116.7h0.9M319.7 1137.2h0.9M262.2 1117.3h0.9M282.6 1113.2h0.9M272.4 1115.5h0.9M303.6 1115.3h0.9M267.8 1115.0h0.9M264.7 1117.5h0.9M262.5 1118.4h0.9M299.7 1115.4h0.9M262.5 1118.0h0.9M304.5 1117.0h0.9M308.1 1114.4h0.9M310.7 1118.7h0.9M301.8 1115.9h0.9M269.3 1115.4h0.9M320.6 1142.3h0.9M301.8 1110.9h0.9M259.8 1117.5h0.9M312.4 1121.0h0.9M261.6 1117.4h0.9M284.0 1113.0h0.9M294.4 1114.3h0.9M317.3 1129.4h0.9M306.9 1115.9h0.9M318.8 1127.2h0.9M281.1 1112.7h0.9M317.5 1134.0h0.9M288.0 1112.0h0.9M319.5 1128.8h0.9M278.3 1113.2h0.9M283.3 1111.4h0.9M265.2 1116.7h0.9M318.3 1130.3h0.9M313.5 1119.1h0.9M309.9 1118.9h0.9M286.7 1115.5h0.9M295.6 1114.2h0.9M315.7 1126.0h0.9M310.3 1117.4h0.9M262.1 1117.6h0.9M283.0 1113.6h0.9M317.7 1133.9h0.9M315.3 1118.9h0.9M319.3 1142.5h0.9M288.0 1112.4h0.9M265.9 1115.5h0.9M299.2 1114.4h0.9M292.5 1115.0h0.9M300.5 1113.0h0.9M318.2 1138.8h0.9M316.2 1125.1h0.9M285.0 1112.1h0.9M307.7 1116.2h0.9M311.3 1121.0h0.9M283.9 1111.4h0.9M300.3 1114.4h0.9M316.1 1127.6h0.9M270.6 1116.6h0.9M284.6 1112.3h0.9M287.6 1113.1h0.9M308.7 1119.2h0.9M294.3 1115.2h0.9M258.0 1118.5h0.9M278.2 1111.9h0.9M318.7 1142.5h0.9M304.9 1115.3h0.9M285.6 1112.7h0.9M268.9 1114.4h0.9M261.1 1116.0h0.9M259.9 1119.4h0.9M305.5 1116.8h0.9M296.1 1113.0h0.9M305.5 1114.9h0.9M283.6 1112.5h0.9M318.7 1136.8h0.9M314.9 1119.7h0.9M267.2 1116.1h0.9M273.0 1115.8h0.9M289.9 1114.8h0.9M317.6 1130.5h0.9M271.1 1114.3h0.9M265.8 1115.1h0.9M275.4 1115.0h0.9M292.2 1110.7h0.9M318.4 1131.5h0.9M276.1 1112.7h0.9M310.2 1117.4h0.9M291.1 1115.2h0.9M310.1 1115.9h0.9M296.1 1111.9h0.9M274.3 1114.5h0.9M291.3 1114.2h0.9M279.9 1113.0h0.9M292.9 1114.6h0.9M264.4 1117.3h0.9M306.6 1113.1h0.9M310.2 1119.9h0.9M317.7 1144.3h0.9M262.0 1115.4h0.9M298.8 1115.1h0.9M304.0 1115.6h0.9M313.9 1121.0h0.9M258.1 1119.4h0.9M260.1 1120.3h0.9M298.4 1114.0h0.9M302.9 1115.3h0.9M300.5 1114.3h0.9M310.4 1119.8h0.9M262.6 1115.5h0.9M273.7 1111.5h0.9M287.0 1114.7h0.9M283.3 1112.4h0.9M320.6 1143.4h0.9M321.2 1132.2h0.9M318.5 1124.9h0.9M308.5 1118.3h0.9M317.5 1130.0h0.9M317.5 1127.8h0.9M280.2 1114.6h0.9M288.1 1114.1h0.9M317.1 1126.8h0.9M318.2 1144.4h0.9M314.3 1119.4h0.9M319.1 1141.1h0.9M313.9 1122.2h0.9M313.1 1117.1h0.9M264.3 1117.2h0.9M320.8 1141.1h0.9M301.5 1115.6h0.9M291.1 1113.7h0.9M276.3 1113.5h0.9M289.2 1114.2h0.9M263.1 1116.3h0.9M313.6 1120.4h0.9M314.4 1118.7h0.9M319.4 1144.2h0.9M306.8 1115.5h0.9M318.3 1131.4h0.9M318.8 1130.4h0.9M312.9 1120.0h0.9M264.8 1116.3h0.9M311.9 1120.3h0.9M276.1 1114.4h0.9M281.9 1114.9h0.9M285.5 1114.8h0.9M302.5 1116.0h0.9M316.8 1126.7h0.9M269.6 1114.2h0.9M312.7 1120.6h0.9M317.8 1138.3h0.9M284.7 1115.0h0.9M271.8 1112.8h0.9M312.0 1114.2h0.9M271.1 1116.0h0.9M270.8 1115.5h0.9M320.0 1144.1h0.9M287.8 1115.2h0.9M317.7 1130.0h0.9M301.5 1112.2h0.9M257.7 1118.3h0.9M302.5 1115.0h0.9M282.9 1114.2h0.9M270.3 1116.0h0.9M268.0 1116.0h0.9M307.7 1114.9h0.9M278.9 1114.4h0.9M272.3 1115.2h0.9M315.1 1125.0h0.9M286.5 1112.3h0.9M274.0 1115.9h0.9M263.4 1117.0h0.9M281.3 1113.5h0.9M297.2 1115.4h0.9M285.7 1112.4h0.9M317.2 1124.9h0.9M294.8 1111.6h0.9M257.7 1118.3h0.9M256.7 1117.9h0.9M283.1 1114.7h0.9M318.2 1128.7h0.9M318.1 1128.3h0.9M284.8 1114.5h0.9M319.2 1141.9h0.9M300.8 1115.3h0.9M309.2 1117.4h0.9M312.7 1122.4h0.9M318.0 1133.5h0.9M315.3 1121.6h0.9M270.1 1114.9h0.9M270.3 1115.6h0.9M286.3 1114.7h0.9M287.2 1115.1h0.9M318.4 1143.9h0.9M291.1 1113.5h0.9M277.6 1114.4h0.9M273.9 1113.9h0.9M276.9 1114.0h0.9M305.2 1117.3h0.9" stroke="#7b7b7b" stroke-width="0.9" fill="none" opacity="0.85"/>
<path d="M302.5 1109.1h0.8M268.5 1105.6h0.8M279.5 1089.1h0.8M282.0 1100.7h0.8M304.0 1108.2h0.8M291.5 1109.3h0.8M262.2 1099.0h0.8M297.8 1118.6h0.8M267.8 1080.8h0.8M286.6 1097.8h0.8M296.5 1098.2h0.8M276.7 1096.4h0.8M293.2 1118.8h0.8M250.4 1090.7h0.8M286.6 1096.2h0.8M268.8 1096.1h0.8M281.6 1100.8h0.8M297.0 1096.7h0.8M297.6 1094.0h0.8M281.6 1102.3h0.8M283.9 1105.2h0.8M300.5 1095.1h0.8M318.3 1105.1h0.8M281.1 1090.8h0.8M287.3 1100.1h0.8M298.1 1102.3h0.8M298.0 1088.5h0.8M281.5 1099.3h0.8M300.0 1098.8h0.8M292.7 1092.2h0.8M305.1 1100.4h0.8M271.4 1097.6h0.8M286.0 1101.0h0.8M315.9 1090.7h0.8M307.4 1090.4h0.8M288.0 1091.2h0.8M288.5 1108.2h0.8M312.8 1106.6h0.8M287.6 1106.1h0.8M268.9 1098.6h0.8M279.7 1083.6h0.8M285.3 1089.9h0.8M305.5 1092.8h0.8M305.5 1098.0h0.8M303.8 1104.6h0.8M307.9 1092.9h0.8M271.8 1101.1h0.8M321.7 1109.1h0.8M290.4 1108.1h0.8M289.2 1101.3h0.8M306.3 1102.3h0.8M287.8 1100.6h0.8M305.5 1109.7h0.8M310.3 1103.4h0.8M276.1 1106.5h0.8M285.5 1093.7h0.8M288.1 1094.3h0.8M272.2 1100.5h0.8M277.0 1106.6h0.8M294.0 1090.2h0.8M295.5 1102.9h0.8M273.7 1105.9h0.8M284.1 1097.6h0.8M299.2 1083.3h0.8M282.3 1105.2h0.8M294.7 1110.8h0.8M297.3 1100.4h0.8M305.3 1098.7h0.8M300.3 1080.1h0.8M269.8 1108.0h0.8M304.3 1103.8h0.8M303.6 1086.6h0.8M295.7 1089.6h0.8M282.3 1093.7h0.8M304.2 1093.6h0.8M302.7 1105.6h0.8M294.3 1103.0h0.8M306.1 1101.6h0.8M299.5 1103.7h0.8M267.0 1114.4h0.8M296.9 1099.3h0.8M298.2 1092.7h0.8M287.4 1090.8h0.8M287.9 1108.1h0.8M271.9 1092.0h0.8M296.9 1094.8h0.8M325.2 1093.0h0.8M305.3 1100.1h0.8M296.0 1107.9h0.8M316.4 1110.3h0.8M299.0 1099.0h0.8M300.6 1106.5h0.8M289.0 1093.2h0.8M277.2 1088.9h0.8M294.7 1108.3h0.8M297.3 1098.2h0.8M274.7 1103.4h0.8M328.0 1112.0h0.8M288.8 1110.9h0.8M290.0 1099.9h0.8M291.3 1089.7h0.8M311.7 1096.4h0.8M291.5 1101.8h0.8M298.0 1093.9h0.8M280.5 1097.8h0.8M276.9 1093.4h0.8M300.0 1097.6h0.8M298.4 1097.8h0.8M294.8 1094.9h0.8M310.7 1095.3h0.8M296.4 1113.8h0.8M310.9 1094.7h0.8M280.6 1101.9h0.8M293.7 1109.7h0.8M283.9 1104.4h0.8M287.6 1095.4h0.8M309.8 1111.3h0.8M298.4 1102.4h0.8M285.0 1113.9h0.8M277.6 1108.9h0.8M281.4 1104.9h0.8M292.0 1097.2h0.8M287.2 1101.8h0.8M284.0 1094.6h0.8M308.8 1094.0h0.8M291.5 1091.2h0.8M273.1 1096.1h0.8M319.7 1101.4h0.8M300.1 1106.5h0.8M276.1 1092.7h0.8M288.8 1107.7h0.8M292.2 1090.8h0.8M288.8 1087.5h0.8M293.9 1089.6h0.8M277.3 1085.6h0.8M279.0 1095.2h0.8M301.4 1096.6h0.8M286.5 1095.8h0.8M290.9 1096.8h0.8M273.4 1097.9h0.8M297.9 1087.2h0.8M263.3 1106.0h0.8M287.7 1093.3h0.8M268.9 1097.7h0.8M304.3 1095.0h0.8M292.2 1117.4h0.8M299.2 1098.8h0.8M273.9 1109.3h0.8M303.4 1097.3h0.8M300.7 1104.3h0.8M312.1 1106.9h0.8M291.4 1105.8h0.8M287.0 1091.8h0.8M285.3 1096.5h0.8M306.3 1100.6h0.8M297.3 1093.8h0.8M300.1 1095.5h0.8M269.2 1104.7h0.8M293.1 1110.8h0.8M313.0 1099.8h0.8M271.6 1083.1h0.8M290.4 1089.5h0.8M308.2 1103.8h0.8M273.7 1084.9h0.8M310.4 1108.3h0.8M303.9 1111.7h0.8M297.1 1094.3h0.8M292.8 1100.2h0.8M281.5 1099.0h0.8M251.4 1090.9h0.8M286.5 1082.2h0.8M292.4 1094.8h0.8M323.6 1110.9h0.8M302.5 1098.3h0.8M262.5 1091.0h0.8M284.7 1107.4h0.8M260.9 1098.4h0.8M306.6 1104.4h0.8M275.8 1098.6h0.8M295.1 1108.1h0.8M283.5 1097.8h0.8M287.4 1090.9h0.8M281.4 1105.4h0.8M283.6 1095.6h0.8M279.5 1093.4h0.8M299.7 1102.1h0.8M295.5 1101.2h0.8M290.5 1104.9h0.8M279.8 1097.1h0.8M274.0 1109.5h0.8" stroke="#8c8c8c" stroke-width="0.85" fill="none" opacity="0.9"/>
</g>
<rect x="258.8" y="1067.7" width="79.19999999999999" height="77.09999999999991" fill="none" stroke="#333" stroke-width="1.1"/>
<line x1="288.5" y1="1067.7" x2="288.5" y2="1144.8" stroke="#5a5a5a" stroke-width="0.9"/>
<line x1="258.8" y1="1111.4" x2="338" y2="1111.4" stroke="#5a5a5a" stroke-width="0.9"/>
<text x="334.2" y="1082.9" font-size="12" font-weight="bold" text-anchor="end" fill="#111">64.7%</text>
<clipPath id="cp7"><rect x="357.5" y="1068.2" width="76.30000000000001" height="76.09999999999991"/></clipPath><g clip-path="url(#cp7)">
<path d="M357.0 1131.0 C357.5 1130.3 358.7 1128.2 360.0 1127.0 C361.3 1125.8 361.5 1124.5 365.0 1124.0 C368.5 1123.5 377.3 1123.4 381.0 1124.0 C384.7 1124.6 385.3 1125.8 387.0 1127.5 C388.7 1129.2 390.2 1131.1 391.0 1134.0 C391.8 1136.9 391.8 1143.0 392.0 1144.8 L357 1144.8 Z" fill="#7b7b7b"/>
<path d="M353.2 1127.9h0.9M367.0 1121.9h0.9M362.0 1124.8h0.9M367.4 1124.5h0.9M360.4 1126.4h0.9M371.6 1121.4h0.9M392.3 1131.4h0.9M354.6 1128.8h0.9M359.5 1126.4h0.9M381.4 1123.5h0.9M363.3 1122.9h0.9M379.2 1124.2h0.9M380.1 1123.0h0.9M366.4 1122.7h0.9M373.2 1124.5h0.9M387.5 1128.9h0.9M356.9 1130.7h0.9M364.4 1122.1h0.9M383.1 1123.6h0.9M359.9 1127.2h0.9M377.2 1123.0h0.9M393.0 1143.1h0.9M360.3 1126.8h0.9M368.6 1124.1h0.9M383.9 1125.4h0.9M370.1 1124.1h0.9M381.8 1124.3h0.9M359.5 1125.6h0.9M388.4 1126.0h0.9M376.9 1124.2h0.9M392.5 1141.6h0.9M392.4 1137.0h0.9M361.7 1124.7h0.9M359.2 1126.8h0.9M360.6 1126.3h0.9M391.5 1132.7h0.9M371.1 1124.7h0.9M363.9 1123.4h0.9M358.8 1129.2h0.9M372.4 1122.2h0.9M387.1 1123.2h0.9M393.1 1143.2h0.9M370.4 1124.4h0.9M391.1 1134.6h0.9M393.3 1143.5h0.9M374.8 1121.5h0.9M362.8 1122.9h0.9M356.9 1128.7h0.9M366.8 1120.9h0.9M364.9 1123.9h0.9M384.0 1125.6h0.9M370.4 1124.4h0.9M390.1 1130.2h0.9M383.7 1124.9h0.9M383.9 1126.4h0.9M388.8 1127.2h0.9M375.1 1124.3h0.9M387.3 1127.0h0.9M358.0 1128.0h0.9M377.5 1119.7h0.9M378.1 1125.0h0.9M377.5 1124.7h0.9M390.8 1131.9h0.9M384.4 1127.5h0.9M359.0 1128.8h0.9M380.2 1123.6h0.9M391.6 1134.3h0.9M391.6 1140.1h0.9M370.5 1123.7h0.9M391.1 1140.2h0.9M370.8 1122.5h0.9M390.7 1134.8h0.9M391.3 1137.4h0.9M366.3 1121.1h0.9M386.3 1127.6h0.9M380.4 1124.2h0.9M389.9 1130.3h0.9M393.2 1141.6h0.9M363.2 1125.5h0.9M393.0 1143.8h0.9M357.4 1129.8h0.9M355.3 1129.1h0.9M382.1 1125.3h0.9M361.2 1121.4h0.9M370.4 1123.8h0.9M380.8 1123.7h0.9M383.1 1122.1h0.9M368.0 1124.4h0.9M361.0 1126.5h0.9M393.3 1137.1h0.9M389.6 1128.7h0.9M392.1 1135.9h0.9M391.6 1141.0h0.9M390.9 1137.5h0.9M379.3 1121.1h0.9M357.0 1127.5h0.9M390.9 1140.0h0.9M371.8 1122.5h0.9M388.3 1123.4h0.9M360.6 1122.7h0.9M373.8 1123.6h0.9M390.8 1126.5h0.9M377.3 1124.5h0.9M360.1 1127.1h0.9M373.2 1122.1h0.9M376.3 1123.9h0.9M393.0 1141.6h0.9M392.0 1137.6h0.9M394.2 1136.4h0.9M353.0 1128.0h0.9M392.8 1141.5h0.9M389.6 1128.7h0.9M358.1 1129.8h0.9M378.9 1124.9h0.9M392.1 1140.3h0.9M375.0 1123.3h0.9M383.8 1122.8h0.9M368.8 1122.9h0.9M393.5 1143.5h0.9M371.0 1123.9h0.9M363.5 1125.9h0.9M389.2 1133.1h0.9M384.0 1126.4h0.9M392.4 1135.9h0.9M386.4 1127.3h0.9M372.1 1123.7h0.9M391.7 1135.7h0.9M382.7 1122.8h0.9M382.3 1122.5h0.9M370.8 1124.6h0.9M372.7 1122.8h0.9M357.6 1131.4h0.9M391.8 1130.1h0.9M390.0 1129.2h0.9M374.7 1122.8h0.9M365.3 1121.8h0.9M360.9 1123.8h0.9M360.4 1126.3h0.9M384.9 1125.6h0.9M383.6 1125.2h0.9M382.0 1123.9h0.9M390.9 1134.2h0.9M375.5 1122.0h0.9M379.0 1123.7h0.9M369.4 1124.3h0.9M379.2 1120.9h0.9M356.5 1130.3h0.9M391.8 1138.9h0.9M393.1 1134.3h0.9M382.8 1124.9h0.9M391.3 1129.5h0.9M391.7 1142.7h0.9M368.9 1123.5h0.9M393.5 1141.3h0.9M363.4 1124.8h0.9M385.0 1126.0h0.9M386.1 1128.1h0.9M357.4 1127.1h0.9M390.9 1133.4h0.9M360.7 1126.4h0.9M361.0 1123.9h0.9M366.6 1124.1h0.9M387.9 1127.8h0.9M393.1 1142.0h0.9M386.5 1124.5h0.9M358.3 1128.4h0.9M376.6 1123.5h0.9M388.9 1130.4h0.9M356.1 1127.4h0.9M385.6 1127.7h0.9M379.2 1124.2h0.9M386.8 1125.8h0.9M373.4 1124.1h0.9M385.2 1125.4h0.9M360.3 1124.3h0.9M359.7 1127.9h0.9M360.2 1126.8h0.9M375.0 1120.4h0.9M392.7 1140.6h0.9M392.2 1144.0h0.9M366.1 1124.2h0.9M368.0 1123.6h0.9M392.0 1133.5h0.9M390.7 1143.7h0.9M391.1 1140.8h0.9M378.8 1124.1h0.9M371.0 1122.8h0.9M390.8 1137.6h0.9M368.6 1124.0h0.9M366.7 1123.4h0.9M359.5 1124.1h0.9M367.8 1122.5h0.9M358.1 1129.8h0.9M377.0 1123.6h0.9M391.1 1144.8h0.9M381.6 1124.7h0.9M371.2 1124.0h0.9M389.1 1132.6h0.9M366.4 1121.0h0.9M365.6 1123.3h0.9M389.8 1126.8h0.9M392.7 1143.8h0.9M362.7 1123.1h0.9M357.0 1128.8h0.9M392.7 1138.6h0.9M392.7 1136.8h0.9M377.8 1123.7h0.9M371.1 1122.6h0.9M356.7 1129.0h0.9M380.1 1124.6h0.9M362.5 1125.4h0.9M372.5 1123.9h0.9M359.0 1126.4h0.9M392.7 1142.3h0.9M389.0 1130.8h0.9M390.0 1131.0h0.9M381.6 1124.3h0.9M392.3 1132.9h0.9M378.7 1123.5h0.9M372.7 1121.5h0.9M390.3 1131.0h0.9M393.2 1141.0h0.9M357.5 1126.0h0.9M378.2 1121.8h0.9M386.7 1127.9h0.9M390.4 1129.1h0.9M355.6 1129.2h0.9M386.9 1126.4h0.9M389.1 1129.5h0.9M375.0 1122.9h0.9M370.1 1124.4h0.9M389.6 1131.6h0.9M380.1 1122.0h0.9M366.3 1122.4h0.9M382.8 1125.5h0.9M358.4 1123.6h0.9M373.7 1121.7h0.9M389.8 1133.6h0.9M366.6 1123.4h0.9M366.7 1122.3h0.9M382.6 1123.0h0.9M375.5 1124.1h0.9M390.7 1144.7h0.9M393.3 1136.6h0.9M389.5 1129.3h0.9M387.7 1128.7h0.9M374.9 1122.1h0.9M369.6 1121.5h0.9M386.5 1127.8h0.9M369.3 1120.1h0.9M361.1 1123.6h0.9M390.5 1136.3h0.9M367.7 1124.6h0.9M391.0 1143.5h0.9M386.8 1125.1h0.9M362.2 1125.1h0.9M383.8 1126.4h0.9M390.2 1136.2h0.9M369.7 1123.0h0.9M391.0 1142.6h0.9M380.7 1122.6h0.9M379.6 1121.7h0.9M364.5 1124.0h0.9M357.7 1124.3h0.9M380.9 1123.9h0.9M392.8 1141.1h0.9M382.0 1122.4h0.9M382.9 1122.2h0.9M381.1 1124.9h0.9M390.7 1138.2h0.9M389.3 1129.9h0.9M382.5 1122.4h0.9M363.7 1122.5h0.9M358.2 1128.7h0.9M393.4 1135.9h0.9M387.1 1124.8h0.9M379.9 1123.2h0.9M384.4 1126.1h0.9M390.2 1131.6h0.9M361.8 1122.9h0.9M380.1 1122.8h0.9M390.9 1132.2h0.9M391.8 1138.2h0.9M385.5 1127.3h0.9M391.2 1134.9h0.9M385.9 1125.3h0.9M391.2 1134.8h0.9M387.7 1129.3h0.9M392.6 1143.7h0.9M374.1 1122.7h0.9M391.2 1141.9h0.9M378.9 1123.0h0.9M385.3 1125.0h0.9M391.1 1133.4h0.9M378.4 1121.1h0.9M376.1 1119.1h0.9M374.4 1124.5h0.9M370.2 1122.6h0.9M390.5 1127.7h0.9M361.8 1126.0h0.9M384.2 1124.5h0.9M363.1 1123.4h0.9M363.5 1123.4h0.9M384.2 1126.2h0.9M379.3 1123.1h0.9M361.2 1126.3h0.9M361.1 1124.1h0.9M392.2 1130.2h0.9M387.1 1126.9h0.9M389.1 1128.0h0.9M370.3 1122.4h0.9M383.7 1126.5h0.9M370.7 1124.0h0.9M375.3 1123.3h0.9M369.4 1123.2h0.9M361.0 1122.6h0.9M390.6 1141.8h0.9M359.5 1127.0h0.9M379.0 1124.2h0.9M364.4 1122.3h0.9M391.1 1140.9h0.9M391.4 1142.5h0.9M391.5 1142.2h0.9M368.2 1121.3h0.9M380.8 1123.9h0.9M385.2 1126.2h0.9M391.3 1136.4h0.9M389.2 1128.3h0.9M375.5 1123.6h0.9M384.7 1125.1h0.9M374.7 1123.4h0.9M390.8 1135.1h0.9M393.0 1140.2h0.9M384.2 1122.7h0.9M366.3 1123.2h0.9M378.9 1121.3h0.9M391.3 1134.6h0.9M391.7 1140.1h0.9M380.0 1122.5h0.9M387.0 1128.7h0.9M362.0 1125.2h0.9M393.9 1135.3h0.9M392.7 1141.6h0.9M358.6 1128.3h0.9M374.7 1123.4h0.9M378.5 1122.6h0.9M367.3 1122.9h0.9M391.2 1136.4h0.9M358.5 1128.3h0.9M393.1 1138.2h0.9M381.6 1122.9h0.9M368.8 1122.7h0.9M356.4 1127.9h0.9M377.6 1124.1h0.9M391.3 1138.1h0.9M367.5 1123.9h0.9M377.2 1122.4h0.9M391.4 1141.8h0.9M392.1 1142.9h0.9M392.0 1135.6h0.9M392.8 1130.6h0.9M391.9 1134.9h0.9M362.6 1124.4h0.9M394.0 1143.6h0.9M391.6 1139.9h0.9M389.7 1132.6h0.9M361.5 1125.6h0.9M354.9 1128.3h0.9M391.0 1135.9h0.9M364.5 1124.2h0.9M357.9 1127.7h0.9M360.7 1127.0h0.9M384.2 1127.5h0.9M387.5 1129.9h0.9M354.5 1128.5h0.9M389.6 1131.8h0.9M365.4 1121.4h0.9M394.1 1138.8h0.9M370.6 1122.4h0.9M385.7 1124.8h0.9M393.4 1139.5h0.9M384.7 1125.4h0.9M370.9 1124.7h0.9M357.7 1127.1h0.9M385.6 1127.2h0.9M393.5 1140.9h0.9M370.6 1121.6h0.9M387.4 1126.1h0.9M367.8 1124.6h0.9M391.7 1129.3h0.9M381.2 1124.3h0.9M392.2 1133.0h0.9M365.0 1124.8h0.9M379.5 1123.4h0.9M361.8 1125.9h0.9M382.9 1125.7h0.9M354.8 1127.0h0.9M365.7 1122.5h0.9M357.1 1126.2h0.9M390.1 1133.4h0.9M371.9 1123.3h0.9M377.2 1123.6h0.9M358.9 1128.8h0.9M363.0 1124.3h0.9M392.1 1141.7h0.9M363.5 1124.9h0.9M389.0 1129.9h0.9M389.7 1130.9h0.9M368.7 1120.8h0.9M388.6 1126.8h0.9M381.8 1122.2h0.9M393.6 1142.9h0.9M361.4 1126.6h0.9M371.2 1123.3h0.9M380.2 1121.2h0.9M389.2 1130.3h0.9M364.6 1123.3h0.9M377.5 1124.8h0.9M391.9 1131.4h0.9M363.8 1125.3h0.9M357.5 1129.6h0.9M360.2 1122.8h0.9M379.8 1123.5h0.9M378.1 1123.9h0.9M392.0 1142.3h0.9M357.8 1129.2h0.9M380.1 1121.6h0.9M358.0 1126.2h0.9M366.3 1119.7h0.9M365.5 1123.3h0.9M382.8 1125.0h0.9M381.0 1123.5h0.9M392.4 1140.0h0.9M366.6 1122.2h0.9M388.9 1126.1h0.9M390.9 1128.6h0.9M384.5 1125.2h0.9M390.0 1133.2h0.9M367.6 1123.3h0.9M361.1 1121.8h0.9M360.9 1125.4h0.9M358.0 1130.3h0.9M392.4 1143.9h0.9M362.2 1124.8h0.9M378.9 1123.8h0.9M384.5 1123.3h0.9M366.0 1121.9h0.9M392.9 1138.5h0.9M366.7 1123.5h0.9M394.0 1138.5h0.9M389.2 1130.9h0.9M384.4 1124.9h0.9M385.4 1125.3h0.9M357.9 1128.1h0.9M390.1 1128.6h0.9M357.3 1127.5h0.9M356.7 1129.5h0.9M390.9 1141.2h0.9M381.4 1123.9h0.9M355.8 1129.9h0.9M367.3 1124.0h0.9M376.7 1122.1h0.9M366.5 1123.3h0.9M371.7 1124.1h0.9M377.9 1122.5h0.9M374.2 1123.8h0.9M371.3 1123.8h0.9M357.4 1129.7h0.9M383.5 1125.6h0.9M385.1 1124.8h0.9M377.7 1122.4h0.9M391.4 1129.9h0.9M395.3 1143.9h0.9M382.0 1124.4h0.9M382.0 1124.0h0.9M388.6 1126.6h0.9M391.9 1136.3h0.9M392.2 1136.0h0.9M377.4 1121.9h0.9M358.0 1128.5h0.9M376.1 1121.8h0.9M361.0 1125.0h0.9M360.5 1126.8h0.9M361.7 1126.1h0.9M360.7 1124.5h0.9M385.1 1125.1h0.9M384.7 1125.9h0.9M391.2 1135.8h0.9M377.2 1124.2h0.9M357.6 1129.6h0.9M391.9 1132.5h0.9M378.5 1122.7h0.9M372.0 1124.3h0.9M392.8 1139.8h0.9M362.9 1123.0h0.9M358.8 1128.3h0.9M390.8 1138.2h0.9M394.4 1142.4h0.9M391.1 1137.9h0.9M356.5 1128.8h0.9M367.9 1124.6h0.9M385.3 1125.4h0.9M389.7 1130.6h0.9M386.3 1126.6h0.9M386.6 1125.6h0.9M389.8 1133.5h0.9M394.0 1140.6h0.9M382.4 1124.2h0.9M381.2 1123.4h0.9M380.2 1123.2h0.9M377.6 1125.0h0.9M386.8 1127.5h0.9M362.9 1123.3h0.9M357.6 1129.3h0.9M393.6 1142.0h0.9M379.5 1122.0h0.9M391.1 1135.8h0.9M390.4 1135.9h0.9M363.1 1123.9h0.9M390.9 1137.9h0.9M374.1 1120.9h0.9M379.3 1124.3h0.9M378.8 1124.6h0.9M375.0 1124.6h0.9M390.4 1138.3h0.9M365.6 1122.5h0.9M380.3 1122.2h0.9M378.2 1122.6h0.9M368.9 1120.9h0.9M359.6 1127.7h0.9M390.5 1131.4h0.9M388.6 1132.8h0.9M358.2 1127.6h0.9M379.7 1122.2h0.9M379.9 1124.7h0.9M389.0 1128.1h0.9M363.0 1125.3h0.9M392.1 1141.2h0.9M389.9 1128.3h0.9M360.8 1124.5h0.9M392.3 1144.7h0.9M382.8 1120.8h0.9M389.4 1132.0h0.9M388.0 1129.8h0.9M376.9 1122.6h0.9M378.2 1124.8h0.9M355.9 1128.4h0.9M393.1 1135.8h0.9M389.9 1126.5h0.9M358.2 1127.1h0.9M386.1 1125.4h0.9M388.8 1131.8h0.9M362.5 1122.9h0.9M391.8 1137.4h0.9M387.8 1129.2h0.9M371.3 1120.7h0.9M381.4 1124.4h0.9M388.8 1132.1h0.9M391.2 1136.1h0.9M391.6 1135.9h0.9M368.7 1122.8h0.9M381.6 1124.3h0.9M391.6 1141.7h0.9M391.0 1131.4h0.9M362.1 1123.7h0.9M360.5 1125.2h0.9M395.2 1140.8h0.9M357.2 1130.4h0.9M361.2 1125.3h0.9M357.4 1129.5h0.9M385.4 1127.0h0.9M356.8 1129.5h0.9M367.9 1122.9h0.9M390.4 1140.8h0.9M367.1 1123.6h0.9M376.9 1123.1h0.9M371.2 1122.9h0.9M390.7 1132.9h0.9M357.0 1129.7h0.9M376.1 1124.3h0.9M354.1 1126.1h0.9M390.3 1142.6h0.9M393.0 1141.6h0.9M391.2 1138.1h0.9M377.6 1121.8h0.9M391.0 1141.7h0.9M390.5 1131.4h0.9M361.4 1122.4h0.9M375.6 1124.4h0.9M379.9 1123.2h0.9M361.5 1125.8h0.9M385.7 1125.6h0.9M387.9 1131.9h0.9M359.4 1127.7h0.9M384.7 1125.4h0.9M390.9 1130.9h0.9M390.7 1138.8h0.9M391.2 1135.7h0.9M389.2 1129.8h0.9M359.9 1127.2h0.9M390.9 1126.0h0.9M386.1 1127.1h0.9M372.6 1124.6h0.9M363.2 1122.9h0.9M373.2 1122.9h0.9M359.0 1126.1h0.9M387.4 1126.7h0.9M381.7 1123.6h0.9M391.5 1144.1h0.9M368.1 1119.6h0.9M370.6 1122.5h0.9M362.8 1125.5h0.9M392.3 1140.3h0.9M377.5 1121.2h0.9M392.6 1132.7h0.9M356.0 1129.6h0.9M391.6 1138.3h0.9M393.7 1135.4h0.9M380.5 1123.6h0.9M366.3 1123.8h0.9" stroke="#7b7b7b" stroke-width="0.9" fill="none" opacity="0.85"/>
<path d="M375.1 1105.6h0.8M365.5 1092.4h0.8M366.8 1096.8h0.8M369.4 1107.1h0.8M372.6 1095.2h0.8M371.0 1118.9h0.8M365.4 1095.0h0.8M368.8 1098.6h0.8M366.4 1106.8h0.8M371.0 1110.6h0.8M364.1 1112.0h0.8M367.9 1106.6h0.8M372.5 1105.7h0.8M375.8 1102.3h0.8M365.3 1095.5h0.8M374.5 1105.7h0.8M366.5 1101.6h0.8M373.8 1105.9h0.8M372.3 1107.0h0.8M373.4 1105.5h0.8M377.1 1107.4h0.8M368.7 1102.0h0.8M377.3 1104.9h0.8M371.4 1094.7h0.8M362.3 1105.5h0.8M368.1 1092.8h0.8M368.3 1106.5h0.8M364.0 1105.4h0.8M372.2 1100.0h0.8M368.7 1105.4h0.8M372.6 1116.8h0.8M373.7 1104.2h0.8M372.3 1101.2h0.8M371.8 1097.8h0.8M365.7 1107.3h0.8M370.8 1105.5h0.8M373.5 1107.7h0.8M368.5 1103.9h0.8M367.7 1104.8h0.8M366.1 1100.8h0.8M366.9 1102.0h0.8M373.0 1099.5h0.8M368.4 1092.6h0.8M367.5 1104.8h0.8M364.4 1100.3h0.8M368.7 1096.3h0.8M366.3 1103.4h0.8M369.2 1106.5h0.8M365.4 1112.0h0.8M372.1 1106.5h0.8M367.3 1102.4h0.8M376.5 1114.8h0.8M368.8 1100.8h0.8M372.4 1103.4h0.8M370.8 1115.6h0.8M366.6 1106.8h0.8M359.3 1101.8h0.8M368.6 1112.1h0.8M367.8 1103.7h0.8M371.0 1107.1h0.8M368.8 1094.7h0.8M372.6 1108.8h0.8M369.3 1100.6h0.8M364.0 1103.6h0.8M366.6 1101.7h0.8M366.9 1096.8h0.8M370.9 1103.1h0.8M369.0 1107.1h0.8M366.7 1098.6h0.8M363.5 1101.6h0.8M371.2 1111.2h0.8M372.7 1109.9h0.8M369.9 1101.2h0.8M366.9 1102.3h0.8M368.0 1097.8h0.8M369.8 1109.0h0.8M366.8 1093.4h0.8M367.3 1112.8h0.8M364.9 1109.8h0.8M366.2 1103.7h0.8M368.9 1104.8h0.8M371.1 1102.2h0.8M365.3 1093.3h0.8M363.9 1110.6h0.8M369.1 1112.8h0.8M365.1 1099.6h0.8M369.2 1101.5h0.8M364.3 1110.0h0.8M367.9 1101.4h0.8M368.0 1105.1h0.8M367.6 1104.1h0.8M372.8 1099.6h0.8M369.4 1101.9h0.8M366.8 1105.8h0.8M364.9 1108.8h0.8M373.1 1089.8h0.8M365.1 1112.9h0.8M372.4 1092.4h0.8M368.6 1114.4h0.8M372.9 1107.1h0.8M370.9 1101.6h0.8M365.8 1110.5h0.8M365.6 1111.3h0.8M369.8 1105.7h0.8M370.7 1105.5h0.8M366.1 1102.9h0.8M364.2 1114.2h0.8M367.2 1090.7h0.8M371.2 1101.5h0.8M370.8 1110.9h0.8M369.2 1100.5h0.8M367.6 1105.7h0.8M369.9 1099.5h0.8M363.4 1107.1h0.8M372.1 1106.0h0.8M364.9 1114.8h0.8M373.3 1107.8h0.8M366.1 1102.6h0.8M373.1 1092.3h0.8M363.4 1117.4h0.8M363.7 1100.0h0.8M366.5 1106.2h0.8M373.6 1106.1h0.8M364.8 1105.8h0.8M362.0 1106.7h0.8M371.2 1114.7h0.8M365.2 1104.0h0.8M363.8 1110.6h0.8M365.2 1102.4h0.8M368.7 1110.7h0.8M365.6 1100.9h0.8M365.2 1108.3h0.8M363.1 1104.9h0.8M367.9 1109.5h0.8M368.5 1106.3h0.8M369.3 1098.4h0.8M374.5 1111.9h0.8M368.6 1107.2h0.8M363.4 1094.1h0.8M366.9 1104.7h0.8M368.3 1098.5h0.8M369.1 1093.2h0.8M371.9 1104.1h0.8M370.9 1093.9h0.8M368.2 1115.8h0.8M366.5 1110.8h0.8M366.0 1103.8h0.8M366.1 1103.6h0.8M365.2 1123.3h0.8M364.3 1110.3h0.8M367.0 1110.5h0.8M367.3 1103.0h0.8M366.4 1098.2h0.8M368.3 1101.5h0.8M368.5 1107.6h0.8M366.1 1115.5h0.8M369.4 1099.7h0.8M367.5 1108.3h0.8M369.2 1103.0h0.8M364.4 1090.6h0.8M365.7 1113.3h0.8M366.9 1108.5h0.8M367.5 1107.3h0.8M368.0 1104.4h0.8M372.5 1095.5h0.8M371.1 1100.8h0.8M367.6 1103.6h0.8M376.1 1119.9h0.8M368.3 1113.8h0.8M370.2 1100.1h0.8M371.0 1095.4h0.8M370.0 1100.9h0.8M360.1 1100.0h0.8M371.0 1101.1h0.8M369.3 1104.2h0.8M369.0 1110.1h0.8M367.6 1091.0h0.8M367.1 1111.9h0.8M361.2 1106.5h0.8M368.9 1112.4h0.8M374.8 1088.6h0.8M377.1 1085.1h0.8M378.0 1116.5h0.8M376.8 1119.3h0.8M379.1 1118.6h0.8M375.9 1121.4h0.8M375.6 1087.0h0.8M375.8 1103.3h0.8M375.7 1130.1h0.8M373.5 1086.0h0.8M374.5 1113.1h0.8M379.2 1116.0h0.8M378.7 1095.7h0.8M377.5 1108.9h0.8M372.2 1099.9h0.8M377.0 1115.9h0.8M376.9 1091.7h0.8M377.9 1104.6h0.8M375.7 1082.8h0.8M373.8 1114.5h0.8M376.5 1111.8h0.8M374.1 1112.1h0.8M377.8 1082.3h0.8M377.8 1086.6h0.8M378.0 1098.9h0.8M377.1 1087.1h0.8M377.7 1113.7h0.8M378.3 1124.5h0.8M377.7 1104.9h0.8M376.4 1105.0h0.8M375.1 1105.5h0.8M375.5 1096.2h0.8M377.2 1114.5h0.8M377.5 1098.5h0.8M377.6 1100.6h0.8M377.1 1104.1h0.8M373.9 1124.2h0.8M377.0 1128.6h0.8M378.8 1106.8h0.8M376.5 1102.2h0.8M379.1 1087.7h0.8M375.6 1094.4h0.8M376.1 1093.9h0.8M376.3 1108.0h0.8M374.9 1116.9h0.8M376.1 1104.4h0.8M375.2 1118.2h0.8M379.3 1105.4h0.8M376.9 1085.1h0.8M379.6 1104.7h0.8M377.4 1105.3h0.8M373.3 1094.4h0.8M375.2 1100.9h0.8M380.1 1113.9h0.8M376.4 1093.7h0.8M374.9 1103.5h0.8M358.9 1111.9h0.8M372.5 1110.1h0.8M363.3 1110.6h0.8M372.0 1091.1h0.8M379.9 1113.0h0.8M373.5 1104.7h0.8M360.1 1112.0h0.8M379.3 1108.3h0.8M359.1 1113.7h0.8M373.8 1111.4h0.8M368.9 1118.2h0.8M368.7 1125.3h0.8M366.4 1092.0h0.8M370.7 1114.7h0.8M383.8 1097.3h0.8M368.2 1114.3h0.8M361.0 1106.7h0.8M361.0 1129.8h0.8M361.6 1100.4h0.8M368.4 1100.8h0.8M371.5 1112.4h0.8M376.7 1113.9h0.8M370.2 1109.7h0.8M361.0 1106.3h0.8M360.6 1110.3h0.8M376.0 1116.9h0.8M380.3 1110.5h0.8M367.5 1120.7h0.8M359.4 1115.7h0.8M365.5 1107.1h0.8M374.6 1120.1h0.8M360.7 1105.0h0.8M373.6 1093.7h0.8M364.7 1111.0h0.8M363.6 1129.9h0.8M382.9 1117.5h0.8M362.0 1110.0h0.8M362.4 1109.4h0.8M364.5 1104.5h0.8" stroke="#8c8c8c" stroke-width="0.85" fill="none" opacity="0.9"/>
</g>
<rect x="357" y="1067.7" width="77.30000000000001" height="77.09999999999991" fill="none" stroke="#333" stroke-width="1.1"/>
<line x1="377.3" y1="1067.7" x2="377.3" y2="1144.8" stroke="#5a5a5a" stroke-width="0.9"/>
<line x1="357" y1="1120" x2="434.3" y2="1120" stroke="#5a5a5a" stroke-width="0.9"/>
<text x="430.5" y="1082.9" font-size="12" font-weight="bold" text-anchor="end" fill="#111">10.5%</text>
<text x="102.1" y="1163.8" font-size="11.7" text-anchor="middle" fill="#111" stroke="#111" stroke-width="0.4">PD-1-FITC</text>
<text x="198.6" y="1163.8" font-size="11.7" text-anchor="middle" fill="#111" stroke="#111" stroke-width="0.4">CD38-APC</text>
<text x="296.7" y="1163.8" font-size="11.7" text-anchor="middle" fill="#111" stroke="#111" stroke-width="0.4">HLA-DR-PerCP</text>
<text x="401" y="1163.8" font-size="11.7" text-anchor="middle" fill="#111" stroke="#111" stroke-width="0.4">Perforin-FITC</text>
</svg>
</body></html>
